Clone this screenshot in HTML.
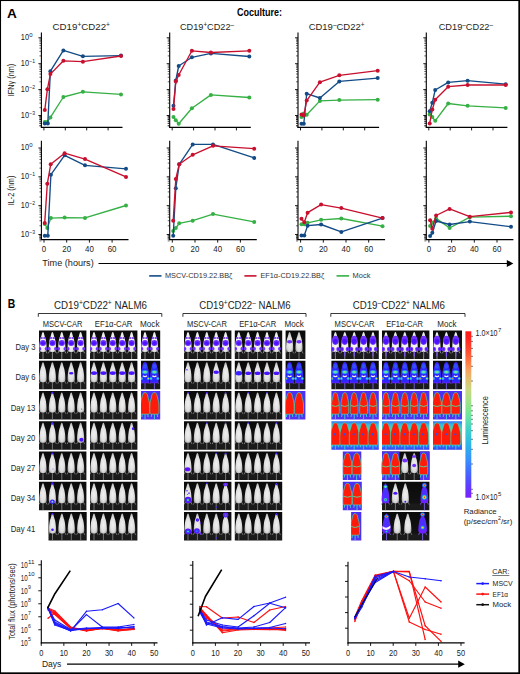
<!DOCTYPE html>
<html><head><meta charset="utf-8"><style>
html,body{margin:0;padding:0;background:#fff;}
svg{display:block;font-family:"Liberation Sans",sans-serif;}
</style></head><body>
<svg width="520" height="674" viewBox="0 0 520 674">
<defs>
<linearGradient id="gbg" x1="0" y1="0" x2="0" y2="1"><stop offset="0" stop-color="#0a0a0a"/><stop offset="0.72" stop-color="#121212"/><stop offset="0.82" stop-color="#1c1c1c"/><stop offset="1" stop-color="#181818"/></linearGradient>
<linearGradient id="bbg" x1="0" y1="0" x2="0" y2="1"><stop offset="0" stop-color="#4a30f4"/><stop offset="0.75" stop-color="#4038f4"/><stop offset="1" stop-color="#5a30ec"/></linearGradient>
<linearGradient id="bbg2" x1="0" y1="0" x2="0" y2="1"><stop offset="0" stop-color="#3070f8"/><stop offset="0.12" stop-color="#38b8e0"/><stop offset="0.3" stop-color="#48dca0"/><stop offset="0.6" stop-color="#38c0d8"/><stop offset="0.82" stop-color="#3080ff"/><stop offset="1" stop-color="#3a40f0"/></linearGradient>
<radialGradient id="gm" cx="0.5" cy="0.55" r="0.6"><stop offset="0" stop-color="#f0f0f0"/><stop offset="0.6" stop-color="#dedede"/><stop offset="1" stop-color="#a0a0a0"/></radialGradient>
<radialGradient id="wm" cx="0.5" cy="0.5" r="0.6"><stop offset="0" stop-color="#fafafa"/><stop offset="0.7" stop-color="#ececec"/><stop offset="1" stop-color="#b0b0b0"/></radialGradient>
<linearGradient id="cbar" x1="0" y1="0" x2="0" y2="1"><stop offset="0.000" stop-color="#ff1818"/><stop offset="0.052" stop-color="#ff2820"/><stop offset="0.112" stop-color="#ff4830"/><stop offset="0.172" stop-color="#ff7040"/><stop offset="0.233" stop-color="#f8a060"/><stop offset="0.293" stop-color="#e0c070"/><stop offset="0.353" stop-color="#c8d880"/><stop offset="0.413" stop-color="#a8e088"/><stop offset="0.473" stop-color="#80e890"/><stop offset="0.533" stop-color="#60e0b0"/><stop offset="0.593" stop-color="#40d0c8"/><stop offset="0.653" stop-color="#30c0e0"/><stop offset="0.713" stop-color="#30a8f0"/><stop offset="0.773" stop-color="#3890ff"/><stop offset="0.834" stop-color="#4070ff"/><stop offset="0.894" stop-color="#5050ff"/><stop offset="0.954" stop-color="#6a30ff"/><stop offset="1.000" stop-color="#7a20ff"/></linearGradient>
<clipPath id="c0"><rect x="39.00" y="330.50" width="47.40" height="28.5"/></clipPath>
<clipPath id="c1"><rect x="90.00" y="330.50" width="47.40" height="28.5"/></clipPath>
<clipPath id="c2"><rect x="141.00" y="330.50" width="19.20" height="28.5"/></clipPath>
<clipPath id="c3"><rect x="39.00" y="360.75" width="47.40" height="28.5"/></clipPath>
<clipPath id="c4"><rect x="90.00" y="360.75" width="47.40" height="28.5"/></clipPath>
<clipPath id="c5"><rect x="141.00" y="360.75" width="19.20" height="28.5"/></clipPath>
<clipPath id="c6"><rect x="39.00" y="391.00" width="47.40" height="28.5"/></clipPath>
<clipPath id="c7"><rect x="90.00" y="391.00" width="47.40" height="28.5"/></clipPath>
<clipPath id="c8"><rect x="141.00" y="391.00" width="19.20" height="28.5"/></clipPath>
<clipPath id="c9"><rect x="39.00" y="421.25" width="47.40" height="28.5"/></clipPath>
<clipPath id="c10"><rect x="90.00" y="421.25" width="47.40" height="28.5"/></clipPath>
<clipPath id="c11"><rect x="39.00" y="451.50" width="47.40" height="28.5"/></clipPath>
<clipPath id="c12"><rect x="90.00" y="451.50" width="47.40" height="28.5"/></clipPath>
<clipPath id="c13"><rect x="39.00" y="481.75" width="47.40" height="28.5"/></clipPath>
<clipPath id="c14"><rect x="90.00" y="481.75" width="47.40" height="28.5"/></clipPath>
<clipPath id="c15"><rect x="48.50" y="512.00" width="38.20" height="28.5"/></clipPath>
<clipPath id="c16"><rect x="90.00" y="512.00" width="47.40" height="28.5"/></clipPath>
<clipPath id="c17"><rect x="184.00" y="330.50" width="47.40" height="28.5"/></clipPath>
<clipPath id="c18"><rect x="234.80" y="330.50" width="47.40" height="28.5"/></clipPath>
<clipPath id="c19"><rect x="285.60" y="330.50" width="19.80" height="28.5"/></clipPath>
<clipPath id="c20"><rect x="184.00" y="360.75" width="47.40" height="28.5"/></clipPath>
<clipPath id="c21"><rect x="234.80" y="360.75" width="47.40" height="28.5"/></clipPath>
<clipPath id="c22"><rect x="285.60" y="360.75" width="19.80" height="28.5"/></clipPath>
<clipPath id="c23"><rect x="184.00" y="391.00" width="47.40" height="28.5"/></clipPath>
<clipPath id="c24"><rect x="234.80" y="391.00" width="47.40" height="28.5"/></clipPath>
<clipPath id="c25"><rect x="285.60" y="391.00" width="19.80" height="28.5"/></clipPath>
<clipPath id="c26"><rect x="184.00" y="421.25" width="47.40" height="28.5"/></clipPath>
<clipPath id="c27"><rect x="234.80" y="421.25" width="47.40" height="28.5"/></clipPath>
<clipPath id="c28"><rect x="184.00" y="451.50" width="47.40" height="28.5"/></clipPath>
<clipPath id="c29"><rect x="234.80" y="451.50" width="47.40" height="28.5"/></clipPath>
<clipPath id="c30"><rect x="184.00" y="481.75" width="47.40" height="28.5"/></clipPath>
<clipPath id="c31"><rect x="234.80" y="481.75" width="47.40" height="28.5"/></clipPath>
<clipPath id="c32"><rect x="184.00" y="512.00" width="47.40" height="28.5"/></clipPath>
<clipPath id="c33"><rect x="234.80" y="512.00" width="47.40" height="28.5"/></clipPath>
<clipPath id="c34"><rect x="331.40" y="330.50" width="47.40" height="28.5"/></clipPath>
<clipPath id="c35"><rect x="382.00" y="330.50" width="47.40" height="28.5"/></clipPath>
<clipPath id="c36"><rect x="433.00" y="330.50" width="29.00" height="28.5"/></clipPath>
<clipPath id="c37"><rect x="331.40" y="360.75" width="47.40" height="28.5"/></clipPath>
<clipPath id="c38"><rect x="382.00" y="360.75" width="47.40" height="28.5"/></clipPath>
<clipPath id="c39"><rect x="433.00" y="360.75" width="29.00" height="28.5"/></clipPath>
<clipPath id="c40"><rect x="331.40" y="391.00" width="47.40" height="28.5"/></clipPath>
<clipPath id="c41"><rect x="382.00" y="391.00" width="47.40" height="28.5"/></clipPath>
<clipPath id="c42"><rect x="433.00" y="391.00" width="29.00" height="28.5"/></clipPath>
<clipPath id="c43"><rect x="331.40" y="421.25" width="47.40" height="28.5"/></clipPath>
<clipPath id="c44"><rect x="382.00" y="421.25" width="47.40" height="28.5"/></clipPath>
<clipPath id="c45"><rect x="433.00" y="421.25" width="29.00" height="28.5"/></clipPath>
<clipPath id="c46"><rect x="342.80" y="451.50" width="18.50" height="28.5"/></clipPath>
<clipPath id="c47"><rect x="342.80" y="481.75" width="19.00" height="28.5"/></clipPath>
<clipPath id="c48"><rect x="351.10" y="512.00" width="10.20" height="28.5"/></clipPath>
<clipPath id="c49"><rect x="382.00" y="451.50" width="47.40" height="28.5"/></clipPath>
<clipPath id="c50"><rect x="382.00" y="481.75" width="47.40" height="28.5"/></clipPath>
<clipPath id="c51"><rect x="382.00" y="512.00" width="47.40" height="28.5"/></clipPath></defs>
<rect x="0" y="0" width="520" height="674" fill="#fff"/>
<text x="6.9" y="18.1" font-size="13.6" font-weight="bold" fill="#000" >A</text>
<text x="237" y="15.7" font-size="10.6" font-weight="bold" textLength="45" lengthAdjust="spacingAndGlyphs" fill="#000" >Coculture:</text>
<text x="52.6" y="30.0" font-size="9.9" fill="#231f20" textLength="57.4" lengthAdjust="spacingAndGlyphs">CD19<tspan dy="-3.4" font-size="6.8">+</tspan><tspan dy="3.4">CD22</tspan><tspan dy="-3.4" font-size="6.8">+</tspan></text>
<text x="180" y="30.0" font-size="9.9" fill="#231f20" textLength="54" lengthAdjust="spacingAndGlyphs">CD19<tspan dy="-3.4" font-size="6.8">+</tspan><tspan dy="3.4">CD22</tspan><tspan dy="-3.4" font-size="6.8">&#8211;</tspan></text>
<text x="308.7" y="30.0" font-size="9.9" fill="#231f20" textLength="55.80000000000001" lengthAdjust="spacingAndGlyphs">CD19<tspan dy="-3.4" font-size="6.8">&#8211;</tspan><tspan dy="3.4">CD22</tspan><tspan dy="-3.4" font-size="6.8">+</tspan></text>
<text x="438.7" y="30.0" font-size="9.9" fill="#231f20" textLength="54.30000000000001" lengthAdjust="spacingAndGlyphs">CD19<tspan dy="-3.4" font-size="6.8">&#8211;</tspan><tspan dy="3.4">CD22</tspan><tspan dy="-3.4" font-size="6.8">&#8211;</tspan></text>
<line x1="41.40" y1="32.40" x2="41.40" y2="127.90" stroke="#000" stroke-width="1.1"/>
<line x1="40.90" y1="127.40" x2="122.50" y2="127.40" stroke="#000" stroke-width="1.1"/>
<line x1="38.40" y1="37.80" x2="41.40" y2="37.80" stroke="#000" stroke-width="0.9"/>
<line x1="38.40" y1="63.70" x2="41.40" y2="63.70" stroke="#000" stroke-width="0.9"/>
<line x1="38.40" y1="89.60" x2="41.40" y2="89.60" stroke="#000" stroke-width="0.9"/>
<line x1="38.40" y1="115.50" x2="41.40" y2="115.50" stroke="#000" stroke-width="0.9"/>
<line x1="39.40" y1="55.90" x2="41.40" y2="55.90" stroke="#000" stroke-width="0.6"/>
<line x1="39.40" y1="51.34" x2="41.40" y2="51.34" stroke="#000" stroke-width="0.6"/>
<line x1="39.40" y1="48.11" x2="41.40" y2="48.11" stroke="#000" stroke-width="0.6"/>
<line x1="39.40" y1="45.60" x2="41.40" y2="45.60" stroke="#000" stroke-width="0.6"/>
<line x1="39.40" y1="43.55" x2="41.40" y2="43.55" stroke="#000" stroke-width="0.6"/>
<line x1="39.40" y1="41.81" x2="41.40" y2="41.81" stroke="#000" stroke-width="0.6"/>
<line x1="39.40" y1="40.31" x2="41.40" y2="40.31" stroke="#000" stroke-width="0.6"/>
<line x1="39.40" y1="38.99" x2="41.40" y2="38.99" stroke="#000" stroke-width="0.6"/>
<line x1="39.40" y1="81.80" x2="41.40" y2="81.80" stroke="#000" stroke-width="0.6"/>
<line x1="39.40" y1="77.24" x2="41.40" y2="77.24" stroke="#000" stroke-width="0.6"/>
<line x1="39.40" y1="74.01" x2="41.40" y2="74.01" stroke="#000" stroke-width="0.6"/>
<line x1="39.40" y1="71.50" x2="41.40" y2="71.50" stroke="#000" stroke-width="0.6"/>
<line x1="39.40" y1="69.45" x2="41.40" y2="69.45" stroke="#000" stroke-width="0.6"/>
<line x1="39.40" y1="67.71" x2="41.40" y2="67.71" stroke="#000" stroke-width="0.6"/>
<line x1="39.40" y1="66.21" x2="41.40" y2="66.21" stroke="#000" stroke-width="0.6"/>
<line x1="39.40" y1="64.89" x2="41.40" y2="64.89" stroke="#000" stroke-width="0.6"/>
<line x1="39.40" y1="107.70" x2="41.40" y2="107.70" stroke="#000" stroke-width="0.6"/>
<line x1="39.40" y1="103.14" x2="41.40" y2="103.14" stroke="#000" stroke-width="0.6"/>
<line x1="39.40" y1="99.91" x2="41.40" y2="99.91" stroke="#000" stroke-width="0.6"/>
<line x1="39.40" y1="97.40" x2="41.40" y2="97.40" stroke="#000" stroke-width="0.6"/>
<line x1="39.40" y1="95.35" x2="41.40" y2="95.35" stroke="#000" stroke-width="0.6"/>
<line x1="39.40" y1="93.61" x2="41.40" y2="93.61" stroke="#000" stroke-width="0.6"/>
<line x1="39.40" y1="92.11" x2="41.40" y2="92.11" stroke="#000" stroke-width="0.6"/>
<line x1="39.40" y1="90.79" x2="41.40" y2="90.79" stroke="#000" stroke-width="0.6"/>
<line x1="39.40" y1="125.81" x2="41.40" y2="125.81" stroke="#000" stroke-width="0.6"/>
<line x1="39.40" y1="123.30" x2="41.40" y2="123.30" stroke="#000" stroke-width="0.6"/>
<line x1="39.40" y1="121.25" x2="41.40" y2="121.25" stroke="#000" stroke-width="0.6"/>
<line x1="39.40" y1="119.51" x2="41.40" y2="119.51" stroke="#000" stroke-width="0.6"/>
<line x1="39.40" y1="118.01" x2="41.40" y2="118.01" stroke="#000" stroke-width="0.6"/>
<line x1="39.40" y1="116.69" x2="41.40" y2="116.69" stroke="#000" stroke-width="0.6"/>
<line x1="39.40" y1="125.81" x2="41.40" y2="125.81" stroke="#000" stroke-width="0.6"/>
<line x1="39.40" y1="123.30" x2="41.40" y2="123.30" stroke="#000" stroke-width="0.6"/>
<line x1="39.40" y1="121.25" x2="41.40" y2="121.25" stroke="#000" stroke-width="0.6"/>
<line x1="39.40" y1="119.51" x2="41.40" y2="119.51" stroke="#000" stroke-width="0.6"/>
<line x1="39.40" y1="118.01" x2="41.40" y2="118.01" stroke="#000" stroke-width="0.6"/>
<line x1="39.40" y1="116.69" x2="41.40" y2="116.69" stroke="#000" stroke-width="0.6"/>
<line x1="43.90" y1="127.40" x2="43.90" y2="130.40" stroke="#000" stroke-width="0.9"/>
<line x1="65.30" y1="127.40" x2="65.30" y2="130.40" stroke="#000" stroke-width="0.9"/>
<line x1="86.70" y1="127.40" x2="86.70" y2="130.40" stroke="#000" stroke-width="0.9"/>
<line x1="108.10" y1="127.40" x2="108.10" y2="130.40" stroke="#000" stroke-width="0.9"/>
<line x1="41.40" y1="140.70" x2="41.40" y2="240.10" stroke="#000" stroke-width="1.1"/>
<line x1="40.90" y1="239.60" x2="128.50" y2="239.60" stroke="#000" stroke-width="1.1"/>
<line x1="38.40" y1="148.00" x2="41.40" y2="148.00" stroke="#000" stroke-width="0.9"/>
<line x1="38.40" y1="176.83" x2="41.40" y2="176.83" stroke="#000" stroke-width="0.9"/>
<line x1="38.40" y1="205.66" x2="41.40" y2="205.66" stroke="#000" stroke-width="0.9"/>
<line x1="38.40" y1="234.49" x2="41.40" y2="234.49" stroke="#000" stroke-width="0.9"/>
<line x1="39.40" y1="168.15" x2="41.40" y2="168.15" stroke="#000" stroke-width="0.6"/>
<line x1="39.40" y1="163.07" x2="41.40" y2="163.07" stroke="#000" stroke-width="0.6"/>
<line x1="39.40" y1="159.47" x2="41.40" y2="159.47" stroke="#000" stroke-width="0.6"/>
<line x1="39.40" y1="156.68" x2="41.40" y2="156.68" stroke="#000" stroke-width="0.6"/>
<line x1="39.40" y1="154.40" x2="41.40" y2="154.40" stroke="#000" stroke-width="0.6"/>
<line x1="39.40" y1="152.47" x2="41.40" y2="152.47" stroke="#000" stroke-width="0.6"/>
<line x1="39.40" y1="150.79" x2="41.40" y2="150.79" stroke="#000" stroke-width="0.6"/>
<line x1="39.40" y1="149.32" x2="41.40" y2="149.32" stroke="#000" stroke-width="0.6"/>
<line x1="39.40" y1="196.98" x2="41.40" y2="196.98" stroke="#000" stroke-width="0.6"/>
<line x1="39.40" y1="191.90" x2="41.40" y2="191.90" stroke="#000" stroke-width="0.6"/>
<line x1="39.40" y1="188.30" x2="41.40" y2="188.30" stroke="#000" stroke-width="0.6"/>
<line x1="39.40" y1="185.51" x2="41.40" y2="185.51" stroke="#000" stroke-width="0.6"/>
<line x1="39.40" y1="183.23" x2="41.40" y2="183.23" stroke="#000" stroke-width="0.6"/>
<line x1="39.40" y1="181.30" x2="41.40" y2="181.30" stroke="#000" stroke-width="0.6"/>
<line x1="39.40" y1="179.62" x2="41.40" y2="179.62" stroke="#000" stroke-width="0.6"/>
<line x1="39.40" y1="178.15" x2="41.40" y2="178.15" stroke="#000" stroke-width="0.6"/>
<line x1="39.40" y1="225.81" x2="41.40" y2="225.81" stroke="#000" stroke-width="0.6"/>
<line x1="39.40" y1="220.73" x2="41.40" y2="220.73" stroke="#000" stroke-width="0.6"/>
<line x1="39.40" y1="217.13" x2="41.40" y2="217.13" stroke="#000" stroke-width="0.6"/>
<line x1="39.40" y1="214.34" x2="41.40" y2="214.34" stroke="#000" stroke-width="0.6"/>
<line x1="39.40" y1="212.06" x2="41.40" y2="212.06" stroke="#000" stroke-width="0.6"/>
<line x1="39.40" y1="210.13" x2="41.40" y2="210.13" stroke="#000" stroke-width="0.6"/>
<line x1="39.40" y1="208.45" x2="41.40" y2="208.45" stroke="#000" stroke-width="0.6"/>
<line x1="39.40" y1="206.98" x2="41.40" y2="206.98" stroke="#000" stroke-width="0.6"/>
<line x1="39.40" y1="238.96" x2="41.40" y2="238.96" stroke="#000" stroke-width="0.6"/>
<line x1="39.40" y1="237.28" x2="41.40" y2="237.28" stroke="#000" stroke-width="0.6"/>
<line x1="39.40" y1="235.81" x2="41.40" y2="235.81" stroke="#000" stroke-width="0.6"/>
<line x1="39.40" y1="240.89" x2="41.40" y2="240.89" stroke="#000" stroke-width="0.6"/>
<line x1="39.40" y1="238.96" x2="41.40" y2="238.96" stroke="#000" stroke-width="0.6"/>
<line x1="39.40" y1="237.28" x2="41.40" y2="237.28" stroke="#000" stroke-width="0.6"/>
<line x1="39.40" y1="235.81" x2="41.40" y2="235.81" stroke="#000" stroke-width="0.6"/>
<line x1="44.00" y1="239.60" x2="44.00" y2="242.60" stroke="#000" stroke-width="0.9"/>
<text x="44.0" y="252.2" font-size="8.3" text-anchor="middle" textLength="4.4" lengthAdjust="spacingAndGlyphs" fill="#222" >0</text>
<line x1="66.70" y1="239.60" x2="66.70" y2="242.60" stroke="#000" stroke-width="0.9"/>
<text x="66.7" y="252.2" font-size="8.3" text-anchor="middle" textLength="8.8" lengthAdjust="spacingAndGlyphs" fill="#222" >20</text>
<line x1="89.40" y1="239.60" x2="89.40" y2="242.60" stroke="#000" stroke-width="0.9"/>
<text x="89.4" y="252.2" font-size="8.3" text-anchor="middle" textLength="8.8" lengthAdjust="spacingAndGlyphs" fill="#222" >40</text>
<line x1="112.10" y1="239.60" x2="112.10" y2="242.60" stroke="#000" stroke-width="0.9"/>
<text x="112.1" y="252.2" font-size="8.3" text-anchor="middle" textLength="8.8" lengthAdjust="spacingAndGlyphs" fill="#222" >60</text>
<line x1="169.70" y1="32.40" x2="169.70" y2="127.90" stroke="#000" stroke-width="1.1"/>
<line x1="169.20" y1="127.40" x2="250.80" y2="127.40" stroke="#000" stroke-width="1.1"/>
<line x1="166.70" y1="37.80" x2="169.70" y2="37.80" stroke="#000" stroke-width="0.9"/>
<line x1="166.70" y1="63.70" x2="169.70" y2="63.70" stroke="#000" stroke-width="0.9"/>
<line x1="166.70" y1="89.60" x2="169.70" y2="89.60" stroke="#000" stroke-width="0.9"/>
<line x1="166.70" y1="115.50" x2="169.70" y2="115.50" stroke="#000" stroke-width="0.9"/>
<line x1="167.70" y1="55.90" x2="169.70" y2="55.90" stroke="#000" stroke-width="0.6"/>
<line x1="167.70" y1="51.34" x2="169.70" y2="51.34" stroke="#000" stroke-width="0.6"/>
<line x1="167.70" y1="48.11" x2="169.70" y2="48.11" stroke="#000" stroke-width="0.6"/>
<line x1="167.70" y1="45.60" x2="169.70" y2="45.60" stroke="#000" stroke-width="0.6"/>
<line x1="167.70" y1="43.55" x2="169.70" y2="43.55" stroke="#000" stroke-width="0.6"/>
<line x1="167.70" y1="41.81" x2="169.70" y2="41.81" stroke="#000" stroke-width="0.6"/>
<line x1="167.70" y1="40.31" x2="169.70" y2="40.31" stroke="#000" stroke-width="0.6"/>
<line x1="167.70" y1="38.99" x2="169.70" y2="38.99" stroke="#000" stroke-width="0.6"/>
<line x1="167.70" y1="81.80" x2="169.70" y2="81.80" stroke="#000" stroke-width="0.6"/>
<line x1="167.70" y1="77.24" x2="169.70" y2="77.24" stroke="#000" stroke-width="0.6"/>
<line x1="167.70" y1="74.01" x2="169.70" y2="74.01" stroke="#000" stroke-width="0.6"/>
<line x1="167.70" y1="71.50" x2="169.70" y2="71.50" stroke="#000" stroke-width="0.6"/>
<line x1="167.70" y1="69.45" x2="169.70" y2="69.45" stroke="#000" stroke-width="0.6"/>
<line x1="167.70" y1="67.71" x2="169.70" y2="67.71" stroke="#000" stroke-width="0.6"/>
<line x1="167.70" y1="66.21" x2="169.70" y2="66.21" stroke="#000" stroke-width="0.6"/>
<line x1="167.70" y1="64.89" x2="169.70" y2="64.89" stroke="#000" stroke-width="0.6"/>
<line x1="167.70" y1="107.70" x2="169.70" y2="107.70" stroke="#000" stroke-width="0.6"/>
<line x1="167.70" y1="103.14" x2="169.70" y2="103.14" stroke="#000" stroke-width="0.6"/>
<line x1="167.70" y1="99.91" x2="169.70" y2="99.91" stroke="#000" stroke-width="0.6"/>
<line x1="167.70" y1="97.40" x2="169.70" y2="97.40" stroke="#000" stroke-width="0.6"/>
<line x1="167.70" y1="95.35" x2="169.70" y2="95.35" stroke="#000" stroke-width="0.6"/>
<line x1="167.70" y1="93.61" x2="169.70" y2="93.61" stroke="#000" stroke-width="0.6"/>
<line x1="167.70" y1="92.11" x2="169.70" y2="92.11" stroke="#000" stroke-width="0.6"/>
<line x1="167.70" y1="90.79" x2="169.70" y2="90.79" stroke="#000" stroke-width="0.6"/>
<line x1="167.70" y1="125.81" x2="169.70" y2="125.81" stroke="#000" stroke-width="0.6"/>
<line x1="167.70" y1="123.30" x2="169.70" y2="123.30" stroke="#000" stroke-width="0.6"/>
<line x1="167.70" y1="121.25" x2="169.70" y2="121.25" stroke="#000" stroke-width="0.6"/>
<line x1="167.70" y1="119.51" x2="169.70" y2="119.51" stroke="#000" stroke-width="0.6"/>
<line x1="167.70" y1="118.01" x2="169.70" y2="118.01" stroke="#000" stroke-width="0.6"/>
<line x1="167.70" y1="116.69" x2="169.70" y2="116.69" stroke="#000" stroke-width="0.6"/>
<line x1="167.70" y1="125.81" x2="169.70" y2="125.81" stroke="#000" stroke-width="0.6"/>
<line x1="167.70" y1="123.30" x2="169.70" y2="123.30" stroke="#000" stroke-width="0.6"/>
<line x1="167.70" y1="121.25" x2="169.70" y2="121.25" stroke="#000" stroke-width="0.6"/>
<line x1="167.70" y1="119.51" x2="169.70" y2="119.51" stroke="#000" stroke-width="0.6"/>
<line x1="167.70" y1="118.01" x2="169.70" y2="118.01" stroke="#000" stroke-width="0.6"/>
<line x1="167.70" y1="116.69" x2="169.70" y2="116.69" stroke="#000" stroke-width="0.6"/>
<line x1="172.20" y1="127.40" x2="172.20" y2="130.40" stroke="#000" stroke-width="0.9"/>
<line x1="193.60" y1="127.40" x2="193.60" y2="130.40" stroke="#000" stroke-width="0.9"/>
<line x1="215.00" y1="127.40" x2="215.00" y2="130.40" stroke="#000" stroke-width="0.9"/>
<line x1="236.40" y1="127.40" x2="236.40" y2="130.40" stroke="#000" stroke-width="0.9"/>
<line x1="169.70" y1="140.70" x2="169.70" y2="240.10" stroke="#000" stroke-width="1.1"/>
<line x1="169.20" y1="239.60" x2="256.80" y2="239.60" stroke="#000" stroke-width="1.1"/>
<line x1="166.70" y1="148.00" x2="169.70" y2="148.00" stroke="#000" stroke-width="0.9"/>
<line x1="166.70" y1="176.83" x2="169.70" y2="176.83" stroke="#000" stroke-width="0.9"/>
<line x1="166.70" y1="205.66" x2="169.70" y2="205.66" stroke="#000" stroke-width="0.9"/>
<line x1="166.70" y1="234.49" x2="169.70" y2="234.49" stroke="#000" stroke-width="0.9"/>
<line x1="167.70" y1="168.15" x2="169.70" y2="168.15" stroke="#000" stroke-width="0.6"/>
<line x1="167.70" y1="163.07" x2="169.70" y2="163.07" stroke="#000" stroke-width="0.6"/>
<line x1="167.70" y1="159.47" x2="169.70" y2="159.47" stroke="#000" stroke-width="0.6"/>
<line x1="167.70" y1="156.68" x2="169.70" y2="156.68" stroke="#000" stroke-width="0.6"/>
<line x1="167.70" y1="154.40" x2="169.70" y2="154.40" stroke="#000" stroke-width="0.6"/>
<line x1="167.70" y1="152.47" x2="169.70" y2="152.47" stroke="#000" stroke-width="0.6"/>
<line x1="167.70" y1="150.79" x2="169.70" y2="150.79" stroke="#000" stroke-width="0.6"/>
<line x1="167.70" y1="149.32" x2="169.70" y2="149.32" stroke="#000" stroke-width="0.6"/>
<line x1="167.70" y1="196.98" x2="169.70" y2="196.98" stroke="#000" stroke-width="0.6"/>
<line x1="167.70" y1="191.90" x2="169.70" y2="191.90" stroke="#000" stroke-width="0.6"/>
<line x1="167.70" y1="188.30" x2="169.70" y2="188.30" stroke="#000" stroke-width="0.6"/>
<line x1="167.70" y1="185.51" x2="169.70" y2="185.51" stroke="#000" stroke-width="0.6"/>
<line x1="167.70" y1="183.23" x2="169.70" y2="183.23" stroke="#000" stroke-width="0.6"/>
<line x1="167.70" y1="181.30" x2="169.70" y2="181.30" stroke="#000" stroke-width="0.6"/>
<line x1="167.70" y1="179.62" x2="169.70" y2="179.62" stroke="#000" stroke-width="0.6"/>
<line x1="167.70" y1="178.15" x2="169.70" y2="178.15" stroke="#000" stroke-width="0.6"/>
<line x1="167.70" y1="225.81" x2="169.70" y2="225.81" stroke="#000" stroke-width="0.6"/>
<line x1="167.70" y1="220.73" x2="169.70" y2="220.73" stroke="#000" stroke-width="0.6"/>
<line x1="167.70" y1="217.13" x2="169.70" y2="217.13" stroke="#000" stroke-width="0.6"/>
<line x1="167.70" y1="214.34" x2="169.70" y2="214.34" stroke="#000" stroke-width="0.6"/>
<line x1="167.70" y1="212.06" x2="169.70" y2="212.06" stroke="#000" stroke-width="0.6"/>
<line x1="167.70" y1="210.13" x2="169.70" y2="210.13" stroke="#000" stroke-width="0.6"/>
<line x1="167.70" y1="208.45" x2="169.70" y2="208.45" stroke="#000" stroke-width="0.6"/>
<line x1="167.70" y1="206.98" x2="169.70" y2="206.98" stroke="#000" stroke-width="0.6"/>
<line x1="167.70" y1="238.96" x2="169.70" y2="238.96" stroke="#000" stroke-width="0.6"/>
<line x1="167.70" y1="237.28" x2="169.70" y2="237.28" stroke="#000" stroke-width="0.6"/>
<line x1="167.70" y1="235.81" x2="169.70" y2="235.81" stroke="#000" stroke-width="0.6"/>
<line x1="167.70" y1="240.89" x2="169.70" y2="240.89" stroke="#000" stroke-width="0.6"/>
<line x1="167.70" y1="238.96" x2="169.70" y2="238.96" stroke="#000" stroke-width="0.6"/>
<line x1="167.70" y1="237.28" x2="169.70" y2="237.28" stroke="#000" stroke-width="0.6"/>
<line x1="167.70" y1="235.81" x2="169.70" y2="235.81" stroke="#000" stroke-width="0.6"/>
<line x1="172.30" y1="239.60" x2="172.30" y2="242.60" stroke="#000" stroke-width="0.9"/>
<text x="172.3" y="252.2" font-size="8.3" text-anchor="middle" textLength="4.4" lengthAdjust="spacingAndGlyphs" fill="#222" >0</text>
<line x1="195.00" y1="239.60" x2="195.00" y2="242.60" stroke="#000" stroke-width="0.9"/>
<text x="195.0" y="252.2" font-size="8.3" text-anchor="middle" textLength="8.8" lengthAdjust="spacingAndGlyphs" fill="#222" >20</text>
<line x1="217.70" y1="239.60" x2="217.70" y2="242.60" stroke="#000" stroke-width="0.9"/>
<text x="217.70000000000002" y="252.2" font-size="8.3" text-anchor="middle" textLength="8.8" lengthAdjust="spacingAndGlyphs" fill="#222" >40</text>
<line x1="240.40" y1="239.60" x2="240.40" y2="242.60" stroke="#000" stroke-width="0.9"/>
<text x="240.4" y="252.2" font-size="8.3" text-anchor="middle" textLength="8.8" lengthAdjust="spacingAndGlyphs" fill="#222" >60</text>
<line x1="298.00" y1="32.40" x2="298.00" y2="127.90" stroke="#000" stroke-width="1.1"/>
<line x1="297.50" y1="127.40" x2="379.10" y2="127.40" stroke="#000" stroke-width="1.1"/>
<line x1="295.00" y1="37.80" x2="298.00" y2="37.80" stroke="#000" stroke-width="0.9"/>
<line x1="295.00" y1="63.70" x2="298.00" y2="63.70" stroke="#000" stroke-width="0.9"/>
<line x1="295.00" y1="89.60" x2="298.00" y2="89.60" stroke="#000" stroke-width="0.9"/>
<line x1="295.00" y1="115.50" x2="298.00" y2="115.50" stroke="#000" stroke-width="0.9"/>
<line x1="296.00" y1="55.90" x2="298.00" y2="55.90" stroke="#000" stroke-width="0.6"/>
<line x1="296.00" y1="51.34" x2="298.00" y2="51.34" stroke="#000" stroke-width="0.6"/>
<line x1="296.00" y1="48.11" x2="298.00" y2="48.11" stroke="#000" stroke-width="0.6"/>
<line x1="296.00" y1="45.60" x2="298.00" y2="45.60" stroke="#000" stroke-width="0.6"/>
<line x1="296.00" y1="43.55" x2="298.00" y2="43.55" stroke="#000" stroke-width="0.6"/>
<line x1="296.00" y1="41.81" x2="298.00" y2="41.81" stroke="#000" stroke-width="0.6"/>
<line x1="296.00" y1="40.31" x2="298.00" y2="40.31" stroke="#000" stroke-width="0.6"/>
<line x1="296.00" y1="38.99" x2="298.00" y2="38.99" stroke="#000" stroke-width="0.6"/>
<line x1="296.00" y1="81.80" x2="298.00" y2="81.80" stroke="#000" stroke-width="0.6"/>
<line x1="296.00" y1="77.24" x2="298.00" y2="77.24" stroke="#000" stroke-width="0.6"/>
<line x1="296.00" y1="74.01" x2="298.00" y2="74.01" stroke="#000" stroke-width="0.6"/>
<line x1="296.00" y1="71.50" x2="298.00" y2="71.50" stroke="#000" stroke-width="0.6"/>
<line x1="296.00" y1="69.45" x2="298.00" y2="69.45" stroke="#000" stroke-width="0.6"/>
<line x1="296.00" y1="67.71" x2="298.00" y2="67.71" stroke="#000" stroke-width="0.6"/>
<line x1="296.00" y1="66.21" x2="298.00" y2="66.21" stroke="#000" stroke-width="0.6"/>
<line x1="296.00" y1="64.89" x2="298.00" y2="64.89" stroke="#000" stroke-width="0.6"/>
<line x1="296.00" y1="107.70" x2="298.00" y2="107.70" stroke="#000" stroke-width="0.6"/>
<line x1="296.00" y1="103.14" x2="298.00" y2="103.14" stroke="#000" stroke-width="0.6"/>
<line x1="296.00" y1="99.91" x2="298.00" y2="99.91" stroke="#000" stroke-width="0.6"/>
<line x1="296.00" y1="97.40" x2="298.00" y2="97.40" stroke="#000" stroke-width="0.6"/>
<line x1="296.00" y1="95.35" x2="298.00" y2="95.35" stroke="#000" stroke-width="0.6"/>
<line x1="296.00" y1="93.61" x2="298.00" y2="93.61" stroke="#000" stroke-width="0.6"/>
<line x1="296.00" y1="92.11" x2="298.00" y2="92.11" stroke="#000" stroke-width="0.6"/>
<line x1="296.00" y1="90.79" x2="298.00" y2="90.79" stroke="#000" stroke-width="0.6"/>
<line x1="296.00" y1="125.81" x2="298.00" y2="125.81" stroke="#000" stroke-width="0.6"/>
<line x1="296.00" y1="123.30" x2="298.00" y2="123.30" stroke="#000" stroke-width="0.6"/>
<line x1="296.00" y1="121.25" x2="298.00" y2="121.25" stroke="#000" stroke-width="0.6"/>
<line x1="296.00" y1="119.51" x2="298.00" y2="119.51" stroke="#000" stroke-width="0.6"/>
<line x1="296.00" y1="118.01" x2="298.00" y2="118.01" stroke="#000" stroke-width="0.6"/>
<line x1="296.00" y1="116.69" x2="298.00" y2="116.69" stroke="#000" stroke-width="0.6"/>
<line x1="296.00" y1="125.81" x2="298.00" y2="125.81" stroke="#000" stroke-width="0.6"/>
<line x1="296.00" y1="123.30" x2="298.00" y2="123.30" stroke="#000" stroke-width="0.6"/>
<line x1="296.00" y1="121.25" x2="298.00" y2="121.25" stroke="#000" stroke-width="0.6"/>
<line x1="296.00" y1="119.51" x2="298.00" y2="119.51" stroke="#000" stroke-width="0.6"/>
<line x1="296.00" y1="118.01" x2="298.00" y2="118.01" stroke="#000" stroke-width="0.6"/>
<line x1="296.00" y1="116.69" x2="298.00" y2="116.69" stroke="#000" stroke-width="0.6"/>
<line x1="300.50" y1="127.40" x2="300.50" y2="130.40" stroke="#000" stroke-width="0.9"/>
<line x1="321.90" y1="127.40" x2="321.90" y2="130.40" stroke="#000" stroke-width="0.9"/>
<line x1="343.30" y1="127.40" x2="343.30" y2="130.40" stroke="#000" stroke-width="0.9"/>
<line x1="364.70" y1="127.40" x2="364.70" y2="130.40" stroke="#000" stroke-width="0.9"/>
<line x1="298.00" y1="140.70" x2="298.00" y2="240.10" stroke="#000" stroke-width="1.1"/>
<line x1="297.50" y1="239.60" x2="385.10" y2="239.60" stroke="#000" stroke-width="1.1"/>
<line x1="295.00" y1="148.00" x2="298.00" y2="148.00" stroke="#000" stroke-width="0.9"/>
<line x1="295.00" y1="176.83" x2="298.00" y2="176.83" stroke="#000" stroke-width="0.9"/>
<line x1="295.00" y1="205.66" x2="298.00" y2="205.66" stroke="#000" stroke-width="0.9"/>
<line x1="295.00" y1="234.49" x2="298.00" y2="234.49" stroke="#000" stroke-width="0.9"/>
<line x1="296.00" y1="168.15" x2="298.00" y2="168.15" stroke="#000" stroke-width="0.6"/>
<line x1="296.00" y1="163.07" x2="298.00" y2="163.07" stroke="#000" stroke-width="0.6"/>
<line x1="296.00" y1="159.47" x2="298.00" y2="159.47" stroke="#000" stroke-width="0.6"/>
<line x1="296.00" y1="156.68" x2="298.00" y2="156.68" stroke="#000" stroke-width="0.6"/>
<line x1="296.00" y1="154.40" x2="298.00" y2="154.40" stroke="#000" stroke-width="0.6"/>
<line x1="296.00" y1="152.47" x2="298.00" y2="152.47" stroke="#000" stroke-width="0.6"/>
<line x1="296.00" y1="150.79" x2="298.00" y2="150.79" stroke="#000" stroke-width="0.6"/>
<line x1="296.00" y1="149.32" x2="298.00" y2="149.32" stroke="#000" stroke-width="0.6"/>
<line x1="296.00" y1="196.98" x2="298.00" y2="196.98" stroke="#000" stroke-width="0.6"/>
<line x1="296.00" y1="191.90" x2="298.00" y2="191.90" stroke="#000" stroke-width="0.6"/>
<line x1="296.00" y1="188.30" x2="298.00" y2="188.30" stroke="#000" stroke-width="0.6"/>
<line x1="296.00" y1="185.51" x2="298.00" y2="185.51" stroke="#000" stroke-width="0.6"/>
<line x1="296.00" y1="183.23" x2="298.00" y2="183.23" stroke="#000" stroke-width="0.6"/>
<line x1="296.00" y1="181.30" x2="298.00" y2="181.30" stroke="#000" stroke-width="0.6"/>
<line x1="296.00" y1="179.62" x2="298.00" y2="179.62" stroke="#000" stroke-width="0.6"/>
<line x1="296.00" y1="178.15" x2="298.00" y2="178.15" stroke="#000" stroke-width="0.6"/>
<line x1="296.00" y1="225.81" x2="298.00" y2="225.81" stroke="#000" stroke-width="0.6"/>
<line x1="296.00" y1="220.73" x2="298.00" y2="220.73" stroke="#000" stroke-width="0.6"/>
<line x1="296.00" y1="217.13" x2="298.00" y2="217.13" stroke="#000" stroke-width="0.6"/>
<line x1="296.00" y1="214.34" x2="298.00" y2="214.34" stroke="#000" stroke-width="0.6"/>
<line x1="296.00" y1="212.06" x2="298.00" y2="212.06" stroke="#000" stroke-width="0.6"/>
<line x1="296.00" y1="210.13" x2="298.00" y2="210.13" stroke="#000" stroke-width="0.6"/>
<line x1="296.00" y1="208.45" x2="298.00" y2="208.45" stroke="#000" stroke-width="0.6"/>
<line x1="296.00" y1="206.98" x2="298.00" y2="206.98" stroke="#000" stroke-width="0.6"/>
<line x1="296.00" y1="238.96" x2="298.00" y2="238.96" stroke="#000" stroke-width="0.6"/>
<line x1="296.00" y1="237.28" x2="298.00" y2="237.28" stroke="#000" stroke-width="0.6"/>
<line x1="296.00" y1="235.81" x2="298.00" y2="235.81" stroke="#000" stroke-width="0.6"/>
<line x1="296.00" y1="240.89" x2="298.00" y2="240.89" stroke="#000" stroke-width="0.6"/>
<line x1="296.00" y1="238.96" x2="298.00" y2="238.96" stroke="#000" stroke-width="0.6"/>
<line x1="296.00" y1="237.28" x2="298.00" y2="237.28" stroke="#000" stroke-width="0.6"/>
<line x1="296.00" y1="235.81" x2="298.00" y2="235.81" stroke="#000" stroke-width="0.6"/>
<line x1="300.60" y1="239.60" x2="300.60" y2="242.60" stroke="#000" stroke-width="0.9"/>
<text x="300.6" y="252.2" font-size="8.3" text-anchor="middle" textLength="4.4" lengthAdjust="spacingAndGlyphs" fill="#222" >0</text>
<line x1="323.30" y1="239.60" x2="323.30" y2="242.60" stroke="#000" stroke-width="0.9"/>
<text x="323.3" y="252.2" font-size="8.3" text-anchor="middle" textLength="8.8" lengthAdjust="spacingAndGlyphs" fill="#222" >20</text>
<line x1="346.00" y1="239.60" x2="346.00" y2="242.60" stroke="#000" stroke-width="0.9"/>
<text x="346.0" y="252.2" font-size="8.3" text-anchor="middle" textLength="8.8" lengthAdjust="spacingAndGlyphs" fill="#222" >40</text>
<line x1="368.70" y1="239.60" x2="368.70" y2="242.60" stroke="#000" stroke-width="0.9"/>
<text x="368.70000000000005" y="252.2" font-size="8.3" text-anchor="middle" textLength="8.8" lengthAdjust="spacingAndGlyphs" fill="#222" >60</text>
<line x1="426.30" y1="32.40" x2="426.30" y2="127.90" stroke="#000" stroke-width="1.1"/>
<line x1="425.80" y1="127.40" x2="507.40" y2="127.40" stroke="#000" stroke-width="1.1"/>
<line x1="423.30" y1="37.80" x2="426.30" y2="37.80" stroke="#000" stroke-width="0.9"/>
<line x1="423.30" y1="63.70" x2="426.30" y2="63.70" stroke="#000" stroke-width="0.9"/>
<line x1="423.30" y1="89.60" x2="426.30" y2="89.60" stroke="#000" stroke-width="0.9"/>
<line x1="423.30" y1="115.50" x2="426.30" y2="115.50" stroke="#000" stroke-width="0.9"/>
<line x1="424.30" y1="55.90" x2="426.30" y2="55.90" stroke="#000" stroke-width="0.6"/>
<line x1="424.30" y1="51.34" x2="426.30" y2="51.34" stroke="#000" stroke-width="0.6"/>
<line x1="424.30" y1="48.11" x2="426.30" y2="48.11" stroke="#000" stroke-width="0.6"/>
<line x1="424.30" y1="45.60" x2="426.30" y2="45.60" stroke="#000" stroke-width="0.6"/>
<line x1="424.30" y1="43.55" x2="426.30" y2="43.55" stroke="#000" stroke-width="0.6"/>
<line x1="424.30" y1="41.81" x2="426.30" y2="41.81" stroke="#000" stroke-width="0.6"/>
<line x1="424.30" y1="40.31" x2="426.30" y2="40.31" stroke="#000" stroke-width="0.6"/>
<line x1="424.30" y1="38.99" x2="426.30" y2="38.99" stroke="#000" stroke-width="0.6"/>
<line x1="424.30" y1="81.80" x2="426.30" y2="81.80" stroke="#000" stroke-width="0.6"/>
<line x1="424.30" y1="77.24" x2="426.30" y2="77.24" stroke="#000" stroke-width="0.6"/>
<line x1="424.30" y1="74.01" x2="426.30" y2="74.01" stroke="#000" stroke-width="0.6"/>
<line x1="424.30" y1="71.50" x2="426.30" y2="71.50" stroke="#000" stroke-width="0.6"/>
<line x1="424.30" y1="69.45" x2="426.30" y2="69.45" stroke="#000" stroke-width="0.6"/>
<line x1="424.30" y1="67.71" x2="426.30" y2="67.71" stroke="#000" stroke-width="0.6"/>
<line x1="424.30" y1="66.21" x2="426.30" y2="66.21" stroke="#000" stroke-width="0.6"/>
<line x1="424.30" y1="64.89" x2="426.30" y2="64.89" stroke="#000" stroke-width="0.6"/>
<line x1="424.30" y1="107.70" x2="426.30" y2="107.70" stroke="#000" stroke-width="0.6"/>
<line x1="424.30" y1="103.14" x2="426.30" y2="103.14" stroke="#000" stroke-width="0.6"/>
<line x1="424.30" y1="99.91" x2="426.30" y2="99.91" stroke="#000" stroke-width="0.6"/>
<line x1="424.30" y1="97.40" x2="426.30" y2="97.40" stroke="#000" stroke-width="0.6"/>
<line x1="424.30" y1="95.35" x2="426.30" y2="95.35" stroke="#000" stroke-width="0.6"/>
<line x1="424.30" y1="93.61" x2="426.30" y2="93.61" stroke="#000" stroke-width="0.6"/>
<line x1="424.30" y1="92.11" x2="426.30" y2="92.11" stroke="#000" stroke-width="0.6"/>
<line x1="424.30" y1="90.79" x2="426.30" y2="90.79" stroke="#000" stroke-width="0.6"/>
<line x1="424.30" y1="125.81" x2="426.30" y2="125.81" stroke="#000" stroke-width="0.6"/>
<line x1="424.30" y1="123.30" x2="426.30" y2="123.30" stroke="#000" stroke-width="0.6"/>
<line x1="424.30" y1="121.25" x2="426.30" y2="121.25" stroke="#000" stroke-width="0.6"/>
<line x1="424.30" y1="119.51" x2="426.30" y2="119.51" stroke="#000" stroke-width="0.6"/>
<line x1="424.30" y1="118.01" x2="426.30" y2="118.01" stroke="#000" stroke-width="0.6"/>
<line x1="424.30" y1="116.69" x2="426.30" y2="116.69" stroke="#000" stroke-width="0.6"/>
<line x1="424.30" y1="125.81" x2="426.30" y2="125.81" stroke="#000" stroke-width="0.6"/>
<line x1="424.30" y1="123.30" x2="426.30" y2="123.30" stroke="#000" stroke-width="0.6"/>
<line x1="424.30" y1="121.25" x2="426.30" y2="121.25" stroke="#000" stroke-width="0.6"/>
<line x1="424.30" y1="119.51" x2="426.30" y2="119.51" stroke="#000" stroke-width="0.6"/>
<line x1="424.30" y1="118.01" x2="426.30" y2="118.01" stroke="#000" stroke-width="0.6"/>
<line x1="424.30" y1="116.69" x2="426.30" y2="116.69" stroke="#000" stroke-width="0.6"/>
<line x1="428.80" y1="127.40" x2="428.80" y2="130.40" stroke="#000" stroke-width="0.9"/>
<line x1="450.20" y1="127.40" x2="450.20" y2="130.40" stroke="#000" stroke-width="0.9"/>
<line x1="471.60" y1="127.40" x2="471.60" y2="130.40" stroke="#000" stroke-width="0.9"/>
<line x1="493.00" y1="127.40" x2="493.00" y2="130.40" stroke="#000" stroke-width="0.9"/>
<line x1="426.30" y1="140.70" x2="426.30" y2="240.10" stroke="#000" stroke-width="1.1"/>
<line x1="425.80" y1="239.60" x2="513.40" y2="239.60" stroke="#000" stroke-width="1.1"/>
<line x1="423.30" y1="148.00" x2="426.30" y2="148.00" stroke="#000" stroke-width="0.9"/>
<line x1="423.30" y1="176.83" x2="426.30" y2="176.83" stroke="#000" stroke-width="0.9"/>
<line x1="423.30" y1="205.66" x2="426.30" y2="205.66" stroke="#000" stroke-width="0.9"/>
<line x1="423.30" y1="234.49" x2="426.30" y2="234.49" stroke="#000" stroke-width="0.9"/>
<line x1="424.30" y1="168.15" x2="426.30" y2="168.15" stroke="#000" stroke-width="0.6"/>
<line x1="424.30" y1="163.07" x2="426.30" y2="163.07" stroke="#000" stroke-width="0.6"/>
<line x1="424.30" y1="159.47" x2="426.30" y2="159.47" stroke="#000" stroke-width="0.6"/>
<line x1="424.30" y1="156.68" x2="426.30" y2="156.68" stroke="#000" stroke-width="0.6"/>
<line x1="424.30" y1="154.40" x2="426.30" y2="154.40" stroke="#000" stroke-width="0.6"/>
<line x1="424.30" y1="152.47" x2="426.30" y2="152.47" stroke="#000" stroke-width="0.6"/>
<line x1="424.30" y1="150.79" x2="426.30" y2="150.79" stroke="#000" stroke-width="0.6"/>
<line x1="424.30" y1="149.32" x2="426.30" y2="149.32" stroke="#000" stroke-width="0.6"/>
<line x1="424.30" y1="196.98" x2="426.30" y2="196.98" stroke="#000" stroke-width="0.6"/>
<line x1="424.30" y1="191.90" x2="426.30" y2="191.90" stroke="#000" stroke-width="0.6"/>
<line x1="424.30" y1="188.30" x2="426.30" y2="188.30" stroke="#000" stroke-width="0.6"/>
<line x1="424.30" y1="185.51" x2="426.30" y2="185.51" stroke="#000" stroke-width="0.6"/>
<line x1="424.30" y1="183.23" x2="426.30" y2="183.23" stroke="#000" stroke-width="0.6"/>
<line x1="424.30" y1="181.30" x2="426.30" y2="181.30" stroke="#000" stroke-width="0.6"/>
<line x1="424.30" y1="179.62" x2="426.30" y2="179.62" stroke="#000" stroke-width="0.6"/>
<line x1="424.30" y1="178.15" x2="426.30" y2="178.15" stroke="#000" stroke-width="0.6"/>
<line x1="424.30" y1="225.81" x2="426.30" y2="225.81" stroke="#000" stroke-width="0.6"/>
<line x1="424.30" y1="220.73" x2="426.30" y2="220.73" stroke="#000" stroke-width="0.6"/>
<line x1="424.30" y1="217.13" x2="426.30" y2="217.13" stroke="#000" stroke-width="0.6"/>
<line x1="424.30" y1="214.34" x2="426.30" y2="214.34" stroke="#000" stroke-width="0.6"/>
<line x1="424.30" y1="212.06" x2="426.30" y2="212.06" stroke="#000" stroke-width="0.6"/>
<line x1="424.30" y1="210.13" x2="426.30" y2="210.13" stroke="#000" stroke-width="0.6"/>
<line x1="424.30" y1="208.45" x2="426.30" y2="208.45" stroke="#000" stroke-width="0.6"/>
<line x1="424.30" y1="206.98" x2="426.30" y2="206.98" stroke="#000" stroke-width="0.6"/>
<line x1="424.30" y1="238.96" x2="426.30" y2="238.96" stroke="#000" stroke-width="0.6"/>
<line x1="424.30" y1="237.28" x2="426.30" y2="237.28" stroke="#000" stroke-width="0.6"/>
<line x1="424.30" y1="235.81" x2="426.30" y2="235.81" stroke="#000" stroke-width="0.6"/>
<line x1="424.30" y1="240.89" x2="426.30" y2="240.89" stroke="#000" stroke-width="0.6"/>
<line x1="424.30" y1="238.96" x2="426.30" y2="238.96" stroke="#000" stroke-width="0.6"/>
<line x1="424.30" y1="237.28" x2="426.30" y2="237.28" stroke="#000" stroke-width="0.6"/>
<line x1="424.30" y1="235.81" x2="426.30" y2="235.81" stroke="#000" stroke-width="0.6"/>
<line x1="428.90" y1="239.60" x2="428.90" y2="242.60" stroke="#000" stroke-width="0.9"/>
<text x="428.9" y="252.2" font-size="8.3" text-anchor="middle" textLength="4.4" lengthAdjust="spacingAndGlyphs" fill="#222" >0</text>
<line x1="451.60" y1="239.60" x2="451.60" y2="242.60" stroke="#000" stroke-width="0.9"/>
<text x="451.59999999999997" y="252.2" font-size="8.3" text-anchor="middle" textLength="8.8" lengthAdjust="spacingAndGlyphs" fill="#222" >20</text>
<line x1="474.30" y1="239.60" x2="474.30" y2="242.60" stroke="#000" stroke-width="0.9"/>
<text x="474.29999999999995" y="252.2" font-size="8.3" text-anchor="middle" textLength="8.8" lengthAdjust="spacingAndGlyphs" fill="#222" >40</text>
<line x1="497.00" y1="239.60" x2="497.00" y2="242.60" stroke="#000" stroke-width="0.9"/>
<text x="497.0" y="252.2" font-size="8.3" text-anchor="middle" textLength="8.8" lengthAdjust="spacingAndGlyphs" fill="#222" >60</text>
<text x="20.8" y="40.10" font-size="8.2" fill="#222" textLength="8.2" lengthAdjust="spacingAndGlyphs">10</text>
<text x="29.3" y="37.10" font-size="6" fill="#222">0</text>
<text x="20.8" y="150.30" font-size="8.2" fill="#222" textLength="8.2" lengthAdjust="spacingAndGlyphs">10</text>
<text x="29.3" y="147.30" font-size="6" fill="#222">0</text>
<text x="20.8" y="66.00" font-size="8.2" fill="#222" textLength="8.2" lengthAdjust="spacingAndGlyphs">10</text>
<text x="29.3" y="63.00" font-size="6" fill="#222" textLength="5.8" lengthAdjust="spacingAndGlyphs">&#8722;1</text>
<text x="20.8" y="179.13" font-size="8.2" fill="#222" textLength="8.2" lengthAdjust="spacingAndGlyphs">10</text>
<text x="29.3" y="176.13" font-size="6" fill="#222" textLength="5.8" lengthAdjust="spacingAndGlyphs">&#8722;1</text>
<text x="20.8" y="91.90" font-size="8.2" fill="#222" textLength="8.2" lengthAdjust="spacingAndGlyphs">10</text>
<text x="29.3" y="88.90" font-size="6" fill="#222" textLength="5.8" lengthAdjust="spacingAndGlyphs">&#8722;2</text>
<text x="20.8" y="207.96" font-size="8.2" fill="#222" textLength="8.2" lengthAdjust="spacingAndGlyphs">10</text>
<text x="29.3" y="204.96" font-size="6" fill="#222" textLength="5.8" lengthAdjust="spacingAndGlyphs">&#8722;2</text>
<text x="20.8" y="117.80" font-size="8.2" fill="#222" textLength="8.2" lengthAdjust="spacingAndGlyphs">10</text>
<text x="29.3" y="114.80" font-size="6" fill="#222" textLength="5.8" lengthAdjust="spacingAndGlyphs">&#8722;3</text>
<text x="20.8" y="236.79" font-size="8.2" fill="#222" textLength="8.2" lengthAdjust="spacingAndGlyphs">10</text>
<text x="29.3" y="233.79" font-size="6" fill="#222" textLength="5.8" lengthAdjust="spacingAndGlyphs">&#8722;3</text>
<text transform="translate(14.2,80) rotate(-90)" font-size="8.6" text-anchor="middle" fill="#222" textLength="32.4" lengthAdjust="spacingAndGlyphs">IFN&#947; (nm)</text>
<text transform="translate(14.2,190.5) rotate(-90)" font-size="8.6" text-anchor="middle" fill="#222" textLength="29.7" lengthAdjust="spacingAndGlyphs">IL-2 (nm)</text>
<polyline points="44.80,122.00 47.40,122.00 50.40,117.40 63.40,97.00 82.90,91.80 121.00,94.40" fill="none" stroke="#35b044" stroke-width="1.35" stroke-linejoin="round" />
<circle cx="44.80" cy="122.00" r="2.0" fill="#35b044"/>
<circle cx="47.40" cy="122.00" r="2.0" fill="#35b044"/>
<circle cx="50.40" cy="117.40" r="2.0" fill="#35b044"/>
<circle cx="63.40" cy="97.00" r="2.0" fill="#35b044"/>
<circle cx="82.90" cy="91.80" r="2.0" fill="#35b044"/>
<circle cx="121.00" cy="94.40" r="2.0" fill="#35b044"/>
<polyline points="44.80,123.40 47.80,123.40 50.40,71.20 63.40,50.40 82.90,56.30 121.00,55.60" fill="none" stroke="#134b86" stroke-width="1.35" stroke-linejoin="round" />
<circle cx="44.80" cy="123.40" r="2.0" fill="#134b86"/>
<circle cx="47.80" cy="123.40" r="2.0" fill="#134b86"/>
<circle cx="50.40" cy="71.20" r="2.0" fill="#134b86"/>
<circle cx="63.40" cy="50.40" r="2.0" fill="#134b86"/>
<circle cx="82.90" cy="56.30" r="2.0" fill="#134b86"/>
<circle cx="121.00" cy="55.60" r="2.0" fill="#134b86"/>
<polyline points="44.80,109.90 47.40,89.20 50.40,74.10 63.40,60.80 82.90,61.70 121.00,56.00" fill="none" stroke="#c8102e" stroke-width="1.35" stroke-linejoin="round" />
<circle cx="44.80" cy="109.90" r="2.0" fill="#c8102e"/>
<circle cx="47.40" cy="89.20" r="2.0" fill="#c8102e"/>
<circle cx="50.40" cy="74.10" r="2.0" fill="#c8102e"/>
<circle cx="63.40" cy="60.80" r="2.0" fill="#c8102e"/>
<circle cx="82.90" cy="61.70" r="2.0" fill="#c8102e"/>
<circle cx="121.00" cy="56.00" r="2.0" fill="#c8102e"/>
<polyline points="173.50,116.90 175.80,120.30 178.70,123.80 191.90,108.20 210.90,94.90 249.30,97.50" fill="none" stroke="#35b044" stroke-width="1.35" stroke-linejoin="round" />
<circle cx="173.50" cy="116.90" r="2.0" fill="#35b044"/>
<circle cx="175.80" cy="120.30" r="2.0" fill="#35b044"/>
<circle cx="178.70" cy="123.80" r="2.0" fill="#35b044"/>
<circle cx="191.90" cy="108.20" r="2.0" fill="#35b044"/>
<circle cx="210.90" cy="94.90" r="2.0" fill="#35b044"/>
<circle cx="249.30" cy="97.50" r="2.0" fill="#35b044"/>
<polyline points="173.50,105.80 175.80,80.50 178.70,66.00 191.90,57.30 210.90,53.40 249.30,56.50" fill="none" stroke="#134b86" stroke-width="1.35" stroke-linejoin="round" />
<circle cx="173.50" cy="105.80" r="2.0" fill="#134b86"/>
<circle cx="175.80" cy="80.50" r="2.0" fill="#134b86"/>
<circle cx="178.70" cy="66.00" r="2.0" fill="#134b86"/>
<circle cx="191.90" cy="57.30" r="2.0" fill="#134b86"/>
<circle cx="210.90" cy="53.40" r="2.0" fill="#134b86"/>
<circle cx="249.30" cy="56.50" r="2.0" fill="#134b86"/>
<polyline points="173.50,109.10 175.80,81.60 178.70,75.00 191.90,50.80 210.90,52.50 249.30,50.80" fill="none" stroke="#c8102e" stroke-width="1.35" stroke-linejoin="round" />
<circle cx="173.50" cy="109.10" r="2.0" fill="#c8102e"/>
<circle cx="175.80" cy="81.60" r="2.0" fill="#c8102e"/>
<circle cx="178.70" cy="75.00" r="2.0" fill="#c8102e"/>
<circle cx="191.90" cy="50.80" r="2.0" fill="#c8102e"/>
<circle cx="210.90" cy="52.50" r="2.0" fill="#c8102e"/>
<circle cx="249.30" cy="50.80" r="2.0" fill="#c8102e"/>
<polyline points="301.50,117.00 303.80,113.40 306.70,114.80 319.90,100.90 339.30,100.10 377.70,99.70" fill="none" stroke="#35b044" stroke-width="1.35" stroke-linejoin="round" />
<circle cx="301.50" cy="117.00" r="2.0" fill="#35b044"/>
<circle cx="303.80" cy="113.40" r="2.0" fill="#35b044"/>
<circle cx="306.70" cy="114.80" r="2.0" fill="#35b044"/>
<circle cx="319.90" cy="100.90" r="2.0" fill="#35b044"/>
<circle cx="339.30" cy="100.10" r="2.0" fill="#35b044"/>
<circle cx="377.70" cy="99.70" r="2.0" fill="#35b044"/>
<polyline points="301.50,123.80 303.80,123.80 306.70,93.70 319.90,98.00 339.30,81.40 377.70,78.10" fill="none" stroke="#134b86" stroke-width="1.35" stroke-linejoin="round" />
<circle cx="301.50" cy="123.80" r="2.0" fill="#134b86"/>
<circle cx="303.80" cy="123.80" r="2.0" fill="#134b86"/>
<circle cx="306.70" cy="93.70" r="2.0" fill="#134b86"/>
<circle cx="319.90" cy="98.00" r="2.0" fill="#134b86"/>
<circle cx="339.30" cy="81.40" r="2.0" fill="#134b86"/>
<circle cx="377.70" cy="78.10" r="2.0" fill="#134b86"/>
<polyline points="301.50,114.40 303.80,115.60 306.70,100.60 319.90,82.20 339.30,75.30 377.70,70.70" fill="none" stroke="#c8102e" stroke-width="1.35" stroke-linejoin="round" />
<circle cx="301.50" cy="114.40" r="2.0" fill="#c8102e"/>
<circle cx="303.80" cy="115.60" r="2.0" fill="#c8102e"/>
<circle cx="306.70" cy="100.60" r="2.0" fill="#c8102e"/>
<circle cx="319.90" cy="82.20" r="2.0" fill="#c8102e"/>
<circle cx="339.30" cy="75.30" r="2.0" fill="#c8102e"/>
<circle cx="377.70" cy="70.70" r="2.0" fill="#c8102e"/>
<polyline points="429.70,114.40 432.30,117.00 435.20,120.80 448.20,103.50 467.60,105.80 505.70,107.90" fill="none" stroke="#35b044" stroke-width="1.35" stroke-linejoin="round" />
<circle cx="429.70" cy="114.40" r="2.0" fill="#35b044"/>
<circle cx="432.30" cy="117.00" r="2.0" fill="#35b044"/>
<circle cx="435.20" cy="120.80" r="2.0" fill="#35b044"/>
<circle cx="448.20" cy="103.50" r="2.0" fill="#35b044"/>
<circle cx="467.60" cy="105.80" r="2.0" fill="#35b044"/>
<circle cx="505.70" cy="107.90" r="2.0" fill="#35b044"/>
<polyline points="429.70,111.30 432.30,102.70 435.20,90.00 448.20,82.40 467.60,80.70 505.70,84.20" fill="none" stroke="#134b86" stroke-width="1.35" stroke-linejoin="round" />
<circle cx="429.70" cy="111.30" r="2.0" fill="#134b86"/>
<circle cx="432.30" cy="102.70" r="2.0" fill="#134b86"/>
<circle cx="435.20" cy="90.00" r="2.0" fill="#134b86"/>
<circle cx="448.20" cy="82.40" r="2.0" fill="#134b86"/>
<circle cx="467.60" cy="80.70" r="2.0" fill="#134b86"/>
<circle cx="505.70" cy="84.20" r="2.0" fill="#134b86"/>
<polyline points="429.70,123.40 432.30,109.60 435.20,99.70 448.20,86.70 467.60,85.00 505.70,85.00" fill="none" stroke="#c8102e" stroke-width="1.35" stroke-linejoin="round" />
<circle cx="429.70" cy="123.40" r="2.0" fill="#c8102e"/>
<circle cx="432.30" cy="109.60" r="2.0" fill="#c8102e"/>
<circle cx="435.20" cy="99.70" r="2.0" fill="#c8102e"/>
<circle cx="448.20" cy="86.70" r="2.0" fill="#c8102e"/>
<circle cx="467.60" cy="85.00" r="2.0" fill="#c8102e"/>
<circle cx="505.70" cy="85.00" r="2.0" fill="#c8102e"/>
<polyline points="44.80,224.00 47.30,228.00 50.90,218.10 64.60,217.60 85.00,217.90 126.00,205.50" fill="none" stroke="#35b044" stroke-width="1.35" stroke-linejoin="round" />
<circle cx="44.80" cy="224.00" r="2.0" fill="#35b044"/>
<circle cx="47.30" cy="228.00" r="2.0" fill="#35b044"/>
<circle cx="50.90" cy="218.10" r="2.0" fill="#35b044"/>
<circle cx="64.60" cy="217.60" r="2.0" fill="#35b044"/>
<circle cx="85.00" cy="217.90" r="2.0" fill="#35b044"/>
<circle cx="126.00" cy="205.50" r="2.0" fill="#35b044"/>
<polyline points="44.80,235.80 47.80,235.80 50.90,174.70 64.60,155.30 85.00,165.30 126.00,168.80" fill="none" stroke="#134b86" stroke-width="1.35" stroke-linejoin="round" />
<circle cx="44.80" cy="235.80" r="2.0" fill="#134b86"/>
<circle cx="47.80" cy="235.80" r="2.0" fill="#134b86"/>
<circle cx="50.90" cy="174.70" r="2.0" fill="#134b86"/>
<circle cx="64.60" cy="155.30" r="2.0" fill="#134b86"/>
<circle cx="85.00" cy="165.30" r="2.0" fill="#134b86"/>
<circle cx="126.00" cy="168.80" r="2.0" fill="#134b86"/>
<polyline points="44.70,223.10 47.30,183.80 50.70,164.30 64.60,153.20 85.00,159.10 126.00,176.90" fill="none" stroke="#c8102e" stroke-width="1.35" stroke-linejoin="round" />
<circle cx="44.70" cy="223.10" r="2.0" fill="#c8102e"/>
<circle cx="47.30" cy="183.80" r="2.0" fill="#c8102e"/>
<circle cx="50.70" cy="164.30" r="2.0" fill="#c8102e"/>
<circle cx="64.60" cy="153.20" r="2.0" fill="#c8102e"/>
<circle cx="85.00" cy="159.10" r="2.0" fill="#c8102e"/>
<circle cx="126.00" cy="176.90" r="2.0" fill="#c8102e"/>
<polyline points="173.20,231.10 175.80,228.00 179.20,223.30 192.70,220.70 213.00,214.10 254.20,221.90" fill="none" stroke="#35b044" stroke-width="1.35" stroke-linejoin="round" />
<circle cx="173.20" cy="231.10" r="2.0" fill="#35b044"/>
<circle cx="175.80" cy="228.00" r="2.0" fill="#35b044"/>
<circle cx="179.20" cy="223.30" r="2.0" fill="#35b044"/>
<circle cx="192.70" cy="220.70" r="2.0" fill="#35b044"/>
<circle cx="213.00" cy="214.10" r="2.0" fill="#35b044"/>
<circle cx="254.20" cy="221.90" r="2.0" fill="#35b044"/>
<polyline points="173.20,235.80 175.80,188.20 179.20,164.30 192.70,144.40 213.00,144.40 254.20,157.90" fill="none" stroke="#134b86" stroke-width="1.35" stroke-linejoin="round" />
<circle cx="173.20" cy="235.80" r="2.0" fill="#134b86"/>
<circle cx="175.80" cy="188.20" r="2.0" fill="#134b86"/>
<circle cx="179.20" cy="164.30" r="2.0" fill="#134b86"/>
<circle cx="192.70" cy="144.40" r="2.0" fill="#134b86"/>
<circle cx="213.00" cy="144.40" r="2.0" fill="#134b86"/>
<circle cx="254.20" cy="157.90" r="2.0" fill="#134b86"/>
<polyline points="173.20,220.70 175.80,179.00 179.20,164.30 192.70,154.80 213.00,145.80 254.20,148.70" fill="none" stroke="#c8102e" stroke-width="1.35" stroke-linejoin="round" />
<circle cx="173.20" cy="220.70" r="2.0" fill="#c8102e"/>
<circle cx="175.80" cy="179.00" r="2.0" fill="#c8102e"/>
<circle cx="179.20" cy="164.30" r="2.0" fill="#c8102e"/>
<circle cx="192.70" cy="154.80" r="2.0" fill="#c8102e"/>
<circle cx="213.00" cy="145.80" r="2.0" fill="#c8102e"/>
<circle cx="254.20" cy="148.70" r="2.0" fill="#c8102e"/>
<polyline points="301.50,224.20 304.30,224.20 307.60,222.80 321.10,219.80 341.30,218.50 382.50,226.20" fill="none" stroke="#35b044" stroke-width="1.35" stroke-linejoin="round" />
<circle cx="301.50" cy="224.20" r="2.0" fill="#35b044"/>
<circle cx="304.30" cy="224.20" r="2.0" fill="#35b044"/>
<circle cx="307.60" cy="222.80" r="2.0" fill="#35b044"/>
<circle cx="321.10" cy="219.80" r="2.0" fill="#35b044"/>
<circle cx="341.30" cy="218.50" r="2.0" fill="#35b044"/>
<circle cx="382.50" cy="226.20" r="2.0" fill="#35b044"/>
<polyline points="301.50,235.40 304.30,235.40 307.60,225.70 321.10,224.50 341.30,231.90 382.50,218.10" fill="none" stroke="#134b86" stroke-width="1.35" stroke-linejoin="round" />
<circle cx="301.50" cy="235.40" r="2.0" fill="#134b86"/>
<circle cx="304.30" cy="235.40" r="2.0" fill="#134b86"/>
<circle cx="307.60" cy="225.70" r="2.0" fill="#134b86"/>
<circle cx="321.10" cy="224.50" r="2.0" fill="#134b86"/>
<circle cx="341.30" cy="231.90" r="2.0" fill="#134b86"/>
<circle cx="382.50" cy="218.10" r="2.0" fill="#134b86"/>
<polyline points="301.50,218.80 304.30,222.30 307.60,212.70 321.10,204.60 341.30,208.10 382.50,218.10" fill="none" stroke="#c8102e" stroke-width="1.35" stroke-linejoin="round" />
<circle cx="301.50" cy="218.80" r="2.0" fill="#c8102e"/>
<circle cx="304.30" cy="222.30" r="2.0" fill="#c8102e"/>
<circle cx="307.60" cy="212.70" r="2.0" fill="#c8102e"/>
<circle cx="321.10" cy="204.60" r="2.0" fill="#c8102e"/>
<circle cx="341.30" cy="208.10" r="2.0" fill="#c8102e"/>
<circle cx="382.50" cy="218.10" r="2.0" fill="#c8102e"/>
<polyline points="430.10,225.90 432.30,222.80 436.10,218.40 449.60,228.00 469.80,217.20 511.00,216.20" fill="none" stroke="#35b044" stroke-width="1.35" stroke-linejoin="round" />
<circle cx="430.10" cy="225.90" r="2.0" fill="#35b044"/>
<circle cx="432.30" cy="222.80" r="2.0" fill="#35b044"/>
<circle cx="436.10" cy="218.40" r="2.0" fill="#35b044"/>
<circle cx="449.60" cy="228.00" r="2.0" fill="#35b044"/>
<circle cx="469.80" cy="217.20" r="2.0" fill="#35b044"/>
<circle cx="511.00" cy="216.20" r="2.0" fill="#35b044"/>
<polyline points="430.10,236.10 432.30,232.80 436.10,221.00 449.60,224.50 469.80,221.60 511.00,226.80" fill="none" stroke="#134b86" stroke-width="1.35" stroke-linejoin="round" />
<circle cx="430.10" cy="236.10" r="2.0" fill="#134b86"/>
<circle cx="432.30" cy="232.80" r="2.0" fill="#134b86"/>
<circle cx="436.10" cy="221.00" r="2.0" fill="#134b86"/>
<circle cx="449.60" cy="224.50" r="2.0" fill="#134b86"/>
<circle cx="469.80" cy="221.60" r="2.0" fill="#134b86"/>
<circle cx="511.00" cy="226.80" r="2.0" fill="#134b86"/>
<polyline points="430.10,220.20 432.30,228.80 436.10,215.50 449.60,208.90 469.80,216.70 511.00,212.40" fill="none" stroke="#c8102e" stroke-width="1.35" stroke-linejoin="round" />
<circle cx="430.10" cy="220.20" r="2.0" fill="#c8102e"/>
<circle cx="432.30" cy="228.80" r="2.0" fill="#c8102e"/>
<circle cx="436.10" cy="215.50" r="2.0" fill="#c8102e"/>
<circle cx="449.60" cy="208.90" r="2.0" fill="#c8102e"/>
<circle cx="469.80" cy="216.70" r="2.0" fill="#c8102e"/>
<circle cx="511.00" cy="212.40" r="2.0" fill="#c8102e"/>
<text x="42.3" y="266.2" font-size="9.2" textLength="51.4" lengthAdjust="spacingAndGlyphs" fill="#222" >Time (hours)</text>
<line x1="98.50" y1="263.50" x2="507.50" y2="263.50" stroke="#000" stroke-width="1.2"/>
<polygon points="506.8,259.9 513.3,263.5 506.8,267.1" fill="#000"/>
<line x1="149.20" y1="275.90" x2="161.50" y2="275.90" stroke="#134b86" stroke-width="1.6"/>
<text x="165" y="278.3" font-size="6.9" textLength="67.3" lengthAdjust="spacingAndGlyphs" fill="#333" >MSCV-CD19.22.BB&#950;</text>
<line x1="244.40" y1="275.90" x2="256.50" y2="275.90" stroke="#c8102e" stroke-width="1.6"/>
<text x="260.4" y="278.3" font-size="6.9" textLength="63.8" lengthAdjust="spacingAndGlyphs" fill="#333" >EF1&#945;-CD19.22.BB&#950;</text>
<line x1="336.50" y1="275.90" x2="349.10" y2="275.90" stroke="#35b044" stroke-width="1.6"/>
<text x="352.6" y="278.3" font-size="7.2" textLength="17.8" lengthAdjust="spacingAndGlyphs" fill="#333" >Mock</text>
<text x="7.8" y="308.3" font-size="13.1" font-weight="bold" textLength="7.5" lengthAdjust="spacingAndGlyphs" fill="#000" >B</text>
<text x="54" y="308.5" font-size="10" fill="#231f20" textLength="93" lengthAdjust="spacingAndGlyphs">CD19<tspan dy="-3.4" font-size="6.8">+</tspan><tspan dy="3.4">CD22</tspan><tspan dy="-3.4" font-size="6.8">+</tspan><tspan dy="3.4"> NALM6</tspan></text>
<polyline points="38.3,316.8 38.3,313.5 161.8,313.5 161.8,316.8" fill="none" stroke="#222" stroke-width="0.9"/>
<text x="199.2" y="308.5" font-size="10" fill="#231f20" textLength="91.40000000000003" lengthAdjust="spacingAndGlyphs">CD19<tspan dy="-3.4" font-size="6.8">+</tspan><tspan dy="3.4">CD22</tspan><tspan dy="-3.4" font-size="6.8">&#8211;</tspan><tspan dy="3.4"> NALM6</tspan></text>
<polyline points="182.9,316.8 182.9,313.5 306.0,313.5 306.0,316.8" fill="none" stroke="#222" stroke-width="0.9"/>
<text x="352.7" y="308.5" font-size="10" fill="#231f20" textLength="92.30000000000001" lengthAdjust="spacingAndGlyphs">CD19<tspan dy="-3.4" font-size="6.8">&#8211;</tspan><tspan dy="3.4">CD22</tspan><tspan dy="-3.4" font-size="6.8">+</tspan><tspan dy="3.4"> NALM6</tspan></text>
<polyline points="330.8,316.8 330.8,313.5 465.0,313.5 465.0,316.8" fill="none" stroke="#222" stroke-width="0.9"/>
<text x="42.8" y="326.8" font-size="8.5" textLength="39.7" lengthAdjust="spacingAndGlyphs" fill="#231f20" >MSCV-CAR</text>
<text x="94.8" y="326.8" font-size="8.5" textLength="37.6" lengthAdjust="spacingAndGlyphs" fill="#231f20" >EF1&#945;-CAR</text>
<text x="140" y="326.8" font-size="8.5" textLength="19.5" lengthAdjust="spacingAndGlyphs" fill="#231f20" >Mock</text>
<text x="186.9" y="326.8" font-size="8.5" textLength="40.0" lengthAdjust="spacingAndGlyphs" fill="#231f20" >MSCV-CAR</text>
<text x="239.2" y="326.8" font-size="8.5" textLength="37.0" lengthAdjust="spacingAndGlyphs" fill="#231f20" >EF1&#945;-CAR</text>
<text x="284.5" y="326.8" font-size="8.5" textLength="19.3" lengthAdjust="spacingAndGlyphs" fill="#231f20" >Mock</text>
<text x="334.6" y="326.8" font-size="8.5" textLength="40.0" lengthAdjust="spacingAndGlyphs" fill="#231f20" >MSCV-CAR</text>
<text x="386.2" y="326.8" font-size="8.5" textLength="36.8" lengthAdjust="spacingAndGlyphs" fill="#231f20" >EF1&#945;-CAR</text>
<text x="437.3" y="326.8" font-size="8.5" textLength="19.2" lengthAdjust="spacingAndGlyphs" fill="#231f20" >Mock</text>
<text x="35.4" y="350.0" font-size="9.6" text-anchor="end" textLength="20.0" lengthAdjust="spacingAndGlyphs" fill="#231f20" >Day 3</text>
<text x="35.4" y="380.25" font-size="9.6" text-anchor="end" textLength="20.0" lengthAdjust="spacingAndGlyphs" fill="#231f20" >Day 6</text>
<text x="35.4" y="410.5" font-size="9.6" text-anchor="end" textLength="24.7" lengthAdjust="spacingAndGlyphs" fill="#231f20" >Day 13</text>
<text x="35.4" y="440.75" font-size="9.6" text-anchor="end" textLength="24.7" lengthAdjust="spacingAndGlyphs" fill="#231f20" >Day 20</text>
<text x="35.4" y="471.0" font-size="9.6" text-anchor="end" textLength="24.7" lengthAdjust="spacingAndGlyphs" fill="#231f20" >Day 27</text>
<text x="35.4" y="501.25" font-size="9.6" text-anchor="end" textLength="24.7" lengthAdjust="spacingAndGlyphs" fill="#231f20" >Day 34</text>
<text x="35.4" y="531.5" font-size="9.6" text-anchor="end" textLength="24.7" lengthAdjust="spacingAndGlyphs" fill="#231f20" >Day 41</text>
<rect x="39.00" y="330.50" width="47.40" height="28.5" fill="url(#gbg)"/>
<g clip-path="url(#c0)">
<path d="M43.00,351.50 L43.00,359.00 M40.20,350.80 L39.00,353.30 M45.80,350.80 L47.00,353.30" stroke="#aaa" stroke-width="0.8" fill="none"/>
<path d="M43.00,331.90 C43.66,331.90 44.14,333.50 44.52,335.50 C44.90,337.30 45.66,338.30 45.95,340.50 C46.33,343.00 46.80,346.50 46.66,349.50 C46.47,351.40 44.90,352.00 43.00,352.00 C41.10,352.00 39.53,351.40 39.34,349.50 C39.20,346.50 39.67,343.00 40.05,340.50 C40.34,338.30 41.10,337.30 41.48,335.50 C41.86,333.50 42.34,331.90 43.00,331.90Z" fill="url(#wm)"/>
<ellipse cx="41.60" cy="337.90" rx="1.3" ry="1.0" fill="#7a3cff" opacity="1"/>
<ellipse cx="44.40" cy="337.90" rx="1.3" ry="1.0" fill="#7a3cff" opacity="1"/>
<ellipse cx="43.00" cy="343.00" rx="3.1" ry="2.9" fill="#7230ff" opacity="1"/>
<ellipse cx="43.00" cy="343.30" rx="2.0" ry="1.7" fill="#4a14ff" opacity="1"/>
<ellipse cx="39.90" cy="348.80" rx="1.4" ry="1.7" fill="#7230ff" opacity="1"/>
<ellipse cx="46.10" cy="348.80" rx="1.4" ry="1.7" fill="#7230ff" opacity="1"/>
<path d="M52.40,351.50 L52.40,359.00 M49.60,350.80 L48.40,353.30 M55.20,350.80 L56.40,353.30" stroke="#aaa" stroke-width="0.8" fill="none"/>
<path d="M52.40,331.90 C53.06,331.90 53.54,333.50 53.92,335.50 C54.30,337.30 55.06,338.30 55.34,340.50 C55.73,343.00 56.20,346.50 56.06,349.50 C55.87,351.40 54.30,352.00 52.40,352.00 C50.50,352.00 48.93,351.40 48.74,349.50 C48.60,346.50 49.07,343.00 49.45,340.50 C49.74,338.30 50.50,337.30 50.88,335.50 C51.26,333.50 51.73,331.90 52.40,331.90Z" fill="url(#wm)"/>
<ellipse cx="51.00" cy="337.90" rx="1.3" ry="1.0" fill="#7a3cff" opacity="1"/>
<ellipse cx="53.80" cy="337.90" rx="1.3" ry="1.0" fill="#7a3cff" opacity="1"/>
<ellipse cx="52.40" cy="343.00" rx="3.1" ry="2.9" fill="#7230ff" opacity="1"/>
<ellipse cx="52.40" cy="343.30" rx="2.0" ry="1.7" fill="#4a14ff" opacity="1"/>
<ellipse cx="49.30" cy="348.80" rx="1.4" ry="1.7" fill="#7230ff" opacity="1"/>
<ellipse cx="55.50" cy="348.80" rx="1.4" ry="1.7" fill="#7230ff" opacity="1"/>
<path d="M61.80,351.50 L61.80,359.00 M59.00,350.80 L57.80,353.30 M64.60,350.80 L65.80,353.30" stroke="#aaa" stroke-width="0.8" fill="none"/>
<path d="M61.80,331.90 C62.46,331.90 62.94,333.50 63.32,335.50 C63.70,337.30 64.46,338.30 64.74,340.50 C65.12,343.00 65.60,346.50 65.46,349.50 C65.27,351.40 63.70,352.00 61.80,352.00 C59.90,352.00 58.33,351.40 58.14,349.50 C58.00,346.50 58.47,343.00 58.85,340.50 C59.14,338.30 59.90,337.30 60.28,335.50 C60.66,333.50 61.13,331.90 61.80,331.90Z" fill="url(#wm)"/>
<ellipse cx="60.40" cy="337.90" rx="1.3" ry="1.0" fill="#7a3cff" opacity="1"/>
<ellipse cx="63.20" cy="337.90" rx="1.3" ry="1.0" fill="#7a3cff" opacity="1"/>
<ellipse cx="61.80" cy="343.00" rx="3.1" ry="2.9" fill="#7230ff" opacity="1"/>
<ellipse cx="61.80" cy="343.30" rx="2.0" ry="1.7" fill="#4a14ff" opacity="1"/>
<ellipse cx="58.70" cy="348.80" rx="1.4" ry="1.7" fill="#7230ff" opacity="1"/>
<ellipse cx="64.90" cy="348.80" rx="1.4" ry="1.7" fill="#7230ff" opacity="1"/>
<path d="M71.20,351.50 L71.20,359.00 M68.40,350.80 L67.20,353.30 M74.00,350.80 L75.20,353.30" stroke="#aaa" stroke-width="0.8" fill="none"/>
<path d="M71.20,331.90 C71.87,331.90 72.34,333.50 72.72,335.50 C73.10,337.30 73.86,338.30 74.14,340.50 C74.53,343.00 75.00,346.50 74.86,349.50 C74.67,351.40 73.10,352.00 71.20,352.00 C69.30,352.00 67.73,351.40 67.54,349.50 C67.40,346.50 67.88,343.00 68.26,340.50 C68.54,338.30 69.30,337.30 69.68,335.50 C70.06,333.50 70.53,331.90 71.20,331.90Z" fill="url(#wm)"/>
<ellipse cx="69.80" cy="337.90" rx="1.3" ry="1.0" fill="#7a3cff" opacity="1"/>
<ellipse cx="72.60" cy="337.90" rx="1.3" ry="1.0" fill="#7a3cff" opacity="1"/>
<ellipse cx="71.20" cy="343.00" rx="3.1" ry="2.9" fill="#7230ff" opacity="1"/>
<ellipse cx="71.20" cy="343.30" rx="2.0" ry="1.7" fill="#4a14ff" opacity="1"/>
<ellipse cx="68.10" cy="348.80" rx="1.4" ry="1.7" fill="#7230ff" opacity="1"/>
<ellipse cx="74.30" cy="348.80" rx="1.4" ry="1.7" fill="#7230ff" opacity="1"/>
<path d="M80.60,351.50 L80.60,359.00 M77.80,350.80 L76.60,353.30 M83.40,350.80 L84.60,353.30" stroke="#aaa" stroke-width="0.8" fill="none"/>
<path d="M80.60,331.90 C81.27,331.90 81.74,333.50 82.12,335.50 C82.50,337.30 83.26,338.30 83.54,340.50 C83.92,343.00 84.40,346.50 84.26,349.50 C84.07,351.40 82.50,352.00 80.60,352.00 C78.70,352.00 77.13,351.40 76.94,349.50 C76.80,346.50 77.27,343.00 77.66,340.50 C77.94,338.30 78.70,337.30 79.08,335.50 C79.46,333.50 79.93,331.90 80.60,331.90Z" fill="url(#wm)"/>
<ellipse cx="79.20" cy="337.90" rx="1.3" ry="1.0" fill="#7a3cff" opacity="1"/>
<ellipse cx="82.00" cy="337.90" rx="1.3" ry="1.0" fill="#7a3cff" opacity="1"/>
<ellipse cx="80.60" cy="343.00" rx="3.1" ry="2.9" fill="#7230ff" opacity="1"/>
<ellipse cx="80.60" cy="343.30" rx="2.0" ry="1.7" fill="#4a14ff" opacity="1"/>
<ellipse cx="77.50" cy="348.80" rx="1.4" ry="1.7" fill="#7230ff" opacity="1"/>
<ellipse cx="83.70" cy="348.80" rx="1.4" ry="1.7" fill="#7230ff" opacity="1"/>
</g>
<rect x="90.00" y="330.50" width="47.40" height="28.5" fill="url(#gbg)"/>
<g clip-path="url(#c1)">
<path d="M94.00,351.50 L94.00,359.00 M91.20,350.80 L90.00,353.30 M96.80,350.80 L98.00,353.30" stroke="#aaa" stroke-width="0.8" fill="none"/>
<path d="M94.00,331.90 C94.67,331.90 95.14,333.50 95.52,335.50 C95.90,337.30 96.66,338.30 96.94,340.50 C97.33,343.00 97.80,346.50 97.66,349.50 C97.47,351.40 95.90,352.00 94.00,352.00 C92.10,352.00 90.53,351.40 90.34,349.50 C90.20,346.50 90.67,343.00 91.06,340.50 C91.34,338.30 92.10,337.30 92.48,335.50 C92.86,333.50 93.33,331.90 94.00,331.90Z" fill="url(#wm)"/>
<ellipse cx="92.60" cy="337.90" rx="1.3" ry="1.0" fill="#7a3cff" opacity="1"/>
<ellipse cx="95.40" cy="337.90" rx="1.3" ry="1.0" fill="#7a3cff" opacity="1"/>
<ellipse cx="94.00" cy="343.00" rx="3.1" ry="2.9" fill="#7230ff" opacity="1"/>
<ellipse cx="94.00" cy="343.30" rx="2.0" ry="1.7" fill="#4a14ff" opacity="1"/>
<ellipse cx="90.90" cy="348.80" rx="1.4" ry="1.7" fill="#7230ff" opacity="1"/>
<ellipse cx="97.10" cy="348.80" rx="1.4" ry="1.7" fill="#7230ff" opacity="1"/>
<path d="M103.40,351.50 L103.40,359.00 M100.60,350.80 L99.40,353.30 M106.20,350.80 L107.40,353.30" stroke="#aaa" stroke-width="0.8" fill="none"/>
<path d="M103.40,331.90 C104.07,331.90 104.54,333.50 104.92,335.50 C105.30,337.30 106.06,338.30 106.34,340.50 C106.73,343.00 107.20,346.50 107.06,349.50 C106.87,351.40 105.30,352.00 103.40,352.00 C101.50,352.00 99.93,351.40 99.74,349.50 C99.60,346.50 100.08,343.00 100.46,340.50 C100.74,338.30 101.50,337.30 101.88,335.50 C102.26,333.50 102.73,331.90 103.40,331.90Z" fill="url(#wm)"/>
<ellipse cx="102.00" cy="337.90" rx="1.3" ry="1.0" fill="#7a3cff" opacity="1"/>
<ellipse cx="104.80" cy="337.90" rx="1.3" ry="1.0" fill="#7a3cff" opacity="1"/>
<ellipse cx="103.40" cy="343.00" rx="3.1" ry="2.9" fill="#7230ff" opacity="1"/>
<ellipse cx="103.40" cy="343.30" rx="2.0" ry="1.7" fill="#4a14ff" opacity="1"/>
<ellipse cx="100.30" cy="348.80" rx="1.4" ry="1.7" fill="#7230ff" opacity="1"/>
<ellipse cx="106.50" cy="348.80" rx="1.4" ry="1.7" fill="#7230ff" opacity="1"/>
<path d="M112.80,351.50 L112.80,359.00 M110.00,350.80 L108.80,353.30 M115.60,350.80 L116.80,353.30" stroke="#aaa" stroke-width="0.8" fill="none"/>
<path d="M112.80,331.90 C113.47,331.90 113.94,333.50 114.32,335.50 C114.70,337.30 115.46,338.30 115.74,340.50 C116.12,343.00 116.60,346.50 116.46,349.50 C116.27,351.40 114.70,352.00 112.80,352.00 C110.90,352.00 109.33,351.40 109.14,349.50 C109.00,346.50 109.47,343.00 109.86,340.50 C110.14,338.30 110.90,337.30 111.28,335.50 C111.66,333.50 112.13,331.90 112.80,331.90Z" fill="url(#wm)"/>
<ellipse cx="111.40" cy="337.90" rx="1.3" ry="1.0" fill="#7a3cff" opacity="1"/>
<ellipse cx="114.20" cy="337.90" rx="1.3" ry="1.0" fill="#7a3cff" opacity="1"/>
<ellipse cx="112.80" cy="343.00" rx="3.1" ry="2.9" fill="#7230ff" opacity="1"/>
<ellipse cx="112.80" cy="343.30" rx="2.0" ry="1.7" fill="#4a14ff" opacity="1"/>
<ellipse cx="109.70" cy="348.80" rx="1.4" ry="1.7" fill="#7230ff" opacity="1"/>
<ellipse cx="115.90" cy="348.80" rx="1.4" ry="1.7" fill="#7230ff" opacity="1"/>
<path d="M122.20,351.50 L122.20,359.00 M119.40,350.80 L118.20,353.30 M125.00,350.80 L126.20,353.30" stroke="#aaa" stroke-width="0.8" fill="none"/>
<path d="M122.20,331.90 C122.87,331.90 123.34,333.50 123.72,335.50 C124.10,337.30 124.86,338.30 125.14,340.50 C125.53,343.00 126.00,346.50 125.86,349.50 C125.67,351.40 124.10,352.00 122.20,352.00 C120.30,352.00 118.73,351.40 118.54,349.50 C118.40,346.50 118.88,343.00 119.26,340.50 C119.54,338.30 120.30,337.30 120.68,335.50 C121.06,333.50 121.53,331.90 122.20,331.90Z" fill="url(#wm)"/>
<ellipse cx="120.80" cy="337.90" rx="1.3" ry="1.0" fill="#7a3cff" opacity="1"/>
<ellipse cx="123.60" cy="337.90" rx="1.3" ry="1.0" fill="#7a3cff" opacity="1"/>
<ellipse cx="122.20" cy="343.00" rx="3.1" ry="2.9" fill="#7230ff" opacity="1"/>
<ellipse cx="122.20" cy="343.30" rx="2.0" ry="1.7" fill="#4a14ff" opacity="1"/>
<ellipse cx="119.10" cy="348.80" rx="1.4" ry="1.7" fill="#7230ff" opacity="1"/>
<ellipse cx="125.30" cy="348.80" rx="1.4" ry="1.7" fill="#7230ff" opacity="1"/>
<path d="M131.60,351.50 L131.60,359.00 M128.80,350.80 L127.60,353.30 M134.40,350.80 L135.60,353.30" stroke="#aaa" stroke-width="0.8" fill="none"/>
<path d="M131.60,331.90 C132.26,331.90 132.74,333.50 133.12,335.50 C133.50,337.30 134.26,338.30 134.54,340.50 C134.92,343.00 135.40,346.50 135.26,349.50 C135.07,351.40 133.50,352.00 131.60,352.00 C129.70,352.00 128.13,351.40 127.94,349.50 C127.80,346.50 128.28,343.00 128.66,340.50 C128.94,338.30 129.70,337.30 130.08,335.50 C130.46,333.50 130.94,331.90 131.60,331.90Z" fill="url(#wm)"/>
<ellipse cx="130.20" cy="337.90" rx="1.3" ry="1.0" fill="#7a3cff" opacity="1"/>
<ellipse cx="133.00" cy="337.90" rx="1.3" ry="1.0" fill="#7a3cff" opacity="1"/>
<ellipse cx="131.60" cy="343.00" rx="3.1" ry="2.9" fill="#7230ff" opacity="1"/>
<ellipse cx="131.60" cy="343.30" rx="2.0" ry="1.7" fill="#4a14ff" opacity="1"/>
<ellipse cx="128.50" cy="348.80" rx="1.4" ry="1.7" fill="#7230ff" opacity="1"/>
<ellipse cx="134.70" cy="348.80" rx="1.4" ry="1.7" fill="#7230ff" opacity="1"/>
</g>
<rect x="141.00" y="330.50" width="19.20" height="28.5" fill="url(#gbg)"/>
<g clip-path="url(#c2)">
<path d="M145.00,351.50 L145.00,359.00 M142.20,350.80 L141.00,353.30 M147.80,350.80 L149.00,353.30" stroke="#aaa" stroke-width="0.8" fill="none"/>
<path d="M145.00,331.90 C145.66,331.90 146.14,333.50 146.52,335.50 C146.90,337.30 147.66,338.30 147.94,340.50 C148.32,343.00 148.80,346.50 148.66,349.50 C148.47,351.40 146.90,352.00 145.00,352.00 C143.10,352.00 141.53,351.40 141.34,349.50 C141.20,346.50 141.68,343.00 142.06,340.50 C142.34,338.30 143.10,337.30 143.48,335.50 C143.86,333.50 144.34,331.90 145.00,331.90Z" fill="url(#wm)"/>
<ellipse cx="143.60" cy="337.90" rx="1.3" ry="1.0" fill="#7a3cff" opacity="1"/>
<ellipse cx="146.40" cy="337.90" rx="1.3" ry="1.0" fill="#7a3cff" opacity="1"/>
<ellipse cx="145.00" cy="343.00" rx="3.1" ry="2.9" fill="#7230ff" opacity="1"/>
<ellipse cx="145.00" cy="343.30" rx="2.0" ry="1.7" fill="#4a14ff" opacity="1"/>
<ellipse cx="141.90" cy="348.80" rx="1.4" ry="1.7" fill="#7230ff" opacity="1"/>
<ellipse cx="148.10" cy="348.80" rx="1.4" ry="1.7" fill="#7230ff" opacity="1"/>
<path d="M154.40,351.50 L154.40,359.00 M151.60,350.80 L150.40,353.30 M157.20,350.80 L158.40,353.30" stroke="#aaa" stroke-width="0.8" fill="none"/>
<path d="M154.40,331.90 C155.06,331.90 155.54,333.50 155.92,335.50 C156.30,337.30 157.06,338.30 157.34,340.50 C157.72,343.00 158.20,346.50 158.06,349.50 C157.87,351.40 156.30,352.00 154.40,352.00 C152.50,352.00 150.93,351.40 150.74,349.50 C150.60,346.50 151.08,343.00 151.46,340.50 C151.74,338.30 152.50,337.30 152.88,335.50 C153.26,333.50 153.74,331.90 154.40,331.90Z" fill="url(#wm)"/>
<ellipse cx="153.00" cy="337.90" rx="1.3" ry="1.0" fill="#7a3cff" opacity="1"/>
<ellipse cx="155.80" cy="337.90" rx="1.3" ry="1.0" fill="#7a3cff" opacity="1"/>
<ellipse cx="154.40" cy="343.00" rx="3.1" ry="2.9" fill="#7230ff" opacity="1"/>
<ellipse cx="154.40" cy="343.30" rx="2.0" ry="1.7" fill="#4a14ff" opacity="1"/>
<ellipse cx="151.30" cy="348.80" rx="1.4" ry="1.7" fill="#7230ff" opacity="1"/>
<ellipse cx="157.50" cy="348.80" rx="1.4" ry="1.7" fill="#7230ff" opacity="1"/>
</g>
<rect x="39.00" y="360.75" width="47.40" height="28.5" fill="url(#gbg)"/>
<g clip-path="url(#c3)">
<path d="M43.00,381.75 L43.00,389.25 M40.20,381.05 L39.00,383.55 M45.80,381.05 L47.00,383.55" stroke="#8a8a8a" stroke-width="0.8" fill="none"/>
<path d="M43.00,362.15 C43.65,362.15 44.12,363.75 44.49,365.75 C44.86,367.55 45.60,368.55 45.88,370.75 C46.26,373.25 46.72,376.75 46.58,379.75 C46.39,381.65 44.86,382.25 43.00,382.25 C41.14,382.25 39.61,381.65 39.42,379.75 C39.28,376.75 39.74,373.25 40.12,370.75 C40.40,368.55 41.14,367.55 41.51,365.75 C41.88,363.75 42.35,362.15 43.00,362.15Z" fill="url(#gm)"/>
<path d="M52.40,381.75 L52.40,389.25 M49.60,381.05 L48.40,383.55 M55.20,381.05 L56.40,383.55" stroke="#8a8a8a" stroke-width="0.8" fill="none"/>
<path d="M52.40,362.15 C53.05,362.15 53.52,363.75 53.89,365.75 C54.26,367.55 55.00,368.55 55.28,370.75 C55.66,373.25 56.12,376.75 55.98,379.75 C55.79,381.65 54.26,382.25 52.40,382.25 C50.54,382.25 49.01,381.65 48.82,379.75 C48.68,376.75 49.14,373.25 49.52,370.75 C49.80,368.55 50.54,367.55 50.91,365.75 C51.28,363.75 51.75,362.15 52.40,362.15Z" fill="url(#gm)"/>
<path d="M61.80,381.75 L61.80,389.25 M59.00,381.05 L57.80,383.55 M64.60,381.05 L65.80,383.55" stroke="#8a8a8a" stroke-width="0.8" fill="none"/>
<path d="M61.80,362.15 C62.45,362.15 62.92,363.75 63.29,365.75 C63.66,367.55 64.40,368.55 64.68,370.75 C65.05,373.25 65.52,376.75 65.38,379.75 C65.19,381.65 63.66,382.25 61.80,382.25 C59.94,382.25 58.41,381.65 58.22,379.75 C58.08,376.75 58.54,373.25 58.92,370.75 C59.20,368.55 59.94,367.55 60.31,365.75 C60.68,363.75 61.15,362.15 61.80,362.15Z" fill="url(#gm)"/>
<path d="M71.20,381.75 L71.20,389.25 M68.40,381.05 L67.20,383.55 M74.00,381.05 L75.20,383.55" stroke="#8a8a8a" stroke-width="0.8" fill="none"/>
<path d="M71.20,362.15 C71.85,362.15 72.32,363.75 72.69,365.75 C73.06,367.55 73.80,368.55 74.08,370.75 C74.45,373.25 74.92,376.75 74.78,379.75 C74.59,381.65 73.06,382.25 71.20,382.25 C69.34,382.25 67.81,381.65 67.62,379.75 C67.48,376.75 67.95,373.25 68.32,370.75 C68.60,368.55 69.34,367.55 69.71,365.75 C70.08,363.75 70.55,362.15 71.20,362.15Z" fill="url(#gm)"/>
<path d="M80.60,381.75 L80.60,389.25 M77.80,381.05 L76.60,383.55 M83.40,381.05 L84.60,383.55" stroke="#8a8a8a" stroke-width="0.8" fill="none"/>
<path d="M80.60,362.15 C81.25,362.15 81.72,363.75 82.09,365.75 C82.46,367.55 83.20,368.55 83.48,370.75 C83.85,373.25 84.32,376.75 84.18,379.75 C83.99,381.65 82.46,382.25 80.60,382.25 C78.74,382.25 77.21,381.65 77.02,379.75 C76.88,376.75 77.34,373.25 77.72,370.75 C78.00,368.55 78.74,367.55 79.11,365.75 C79.48,363.75 79.95,362.15 80.60,362.15Z" fill="url(#gm)"/>
<ellipse cx="71.20" cy="373.25" rx="2.2" ry="1.3" fill="#4a14ff" opacity="1"/>
</g>
<rect x="90.00" y="360.75" width="47.40" height="28.5" fill="url(#gbg)"/>
<g clip-path="url(#c4)">
<path d="M94.00,381.75 L94.00,389.25 M91.20,381.05 L90.00,383.55 M96.80,381.05 L98.00,383.55" stroke="#8a8a8a" stroke-width="0.8" fill="none"/>
<path d="M94.00,362.15 C94.65,362.15 95.12,363.75 95.49,365.75 C95.86,367.55 96.60,368.55 96.88,370.75 C97.25,373.25 97.72,376.75 97.58,379.75 C97.39,381.65 95.86,382.25 94.00,382.25 C92.14,382.25 90.61,381.65 90.42,379.75 C90.28,376.75 90.75,373.25 91.12,370.75 C91.40,368.55 92.14,367.55 92.51,365.75 C92.88,363.75 93.35,362.15 94.00,362.15Z" fill="url(#gm)"/>
<path d="M103.40,381.75 L103.40,389.25 M100.60,381.05 L99.40,383.55 M106.20,381.05 L107.40,383.55" stroke="#8a8a8a" stroke-width="0.8" fill="none"/>
<path d="M103.40,362.15 C104.05,362.15 104.52,363.75 104.89,365.75 C105.26,367.55 106.00,368.55 106.28,370.75 C106.66,373.25 107.12,376.75 106.98,379.75 C106.79,381.65 105.26,382.25 103.40,382.25 C101.54,382.25 100.01,381.65 99.82,379.75 C99.68,376.75 100.15,373.25 100.52,370.75 C100.80,368.55 101.54,367.55 101.91,365.75 C102.28,363.75 102.75,362.15 103.40,362.15Z" fill="url(#gm)"/>
<path d="M112.80,381.75 L112.80,389.25 M110.00,381.05 L108.80,383.55 M115.60,381.05 L116.80,383.55" stroke="#8a8a8a" stroke-width="0.8" fill="none"/>
<path d="M112.80,362.15 C113.45,362.15 113.92,363.75 114.29,365.75 C114.66,367.55 115.40,368.55 115.68,370.75 C116.05,373.25 116.52,376.75 116.38,379.75 C116.19,381.65 114.66,382.25 112.80,382.25 C110.94,382.25 109.41,381.65 109.22,379.75 C109.08,376.75 109.55,373.25 109.92,370.75 C110.20,368.55 110.94,367.55 111.31,365.75 C111.68,363.75 112.15,362.15 112.80,362.15Z" fill="url(#gm)"/>
<path d="M122.20,381.75 L122.20,389.25 M119.40,381.05 L118.20,383.55 M125.00,381.05 L126.20,383.55" stroke="#8a8a8a" stroke-width="0.8" fill="none"/>
<path d="M122.20,362.15 C122.85,362.15 123.32,363.75 123.69,365.75 C124.06,367.55 124.80,368.55 125.08,370.75 C125.45,373.25 125.92,376.75 125.78,379.75 C125.59,381.65 124.06,382.25 122.20,382.25 C120.34,382.25 118.81,381.65 118.62,379.75 C118.48,376.75 118.95,373.25 119.32,370.75 C119.60,368.55 120.34,367.55 120.71,365.75 C121.08,363.75 121.55,362.15 122.20,362.15Z" fill="url(#gm)"/>
<path d="M131.60,381.75 L131.60,389.25 M128.80,381.05 L127.60,383.55 M134.40,381.05 L135.60,383.55" stroke="#8a8a8a" stroke-width="0.8" fill="none"/>
<path d="M131.60,362.15 C132.25,362.15 132.72,363.75 133.09,365.75 C133.46,367.55 134.20,368.55 134.48,370.75 C134.85,373.25 135.32,376.75 135.18,379.75 C134.99,381.65 133.46,382.25 131.60,382.25 C129.74,382.25 128.21,381.65 128.02,379.75 C127.88,376.75 128.34,373.25 128.72,370.75 C129.00,368.55 129.74,367.55 130.11,365.75 C130.48,363.75 130.95,362.15 131.60,362.15Z" fill="url(#gm)"/>
<ellipse cx="94.00" cy="373.05" rx="3.1" ry="1.9" fill="#4a14ff" opacity="1"/>
<ellipse cx="103.40" cy="373.05" rx="3.1" ry="1.9" fill="#4a14ff" opacity="1"/>
<ellipse cx="112.80" cy="373.05" rx="3.1" ry="1.9" fill="#4a14ff" opacity="1"/>
<ellipse cx="122.20" cy="373.05" rx="3.1" ry="1.9" fill="#4a14ff" opacity="1"/>
<ellipse cx="131.60" cy="373.05" rx="3.1" ry="1.9" fill="#4a14ff" opacity="1"/>
</g>
<rect x="141.00" y="360.75" width="19.20" height="28.5" fill="url(#gbg)"/>
<g clip-path="url(#c5)">
<path d="M145.00,381.75 L145.00,389.25 M142.20,381.05 L141.00,383.55 M147.80,381.05 L149.00,383.55" stroke="#8a6aff" stroke-width="0.8" fill="none"/>
<path d="M145.00,362.35 C146.50,362.35 147.20,363.75 147.60,366.25 C148.00,368.75 149.10,370.75 149.10,374.75 C149.10,379.75 149.40,382.75 148.50,383.25 L141.50,383.25 C140.60,382.75 140.90,379.75 140.90,374.75 C140.90,370.75 142.00,368.75 142.40,366.25 C142.80,363.75 143.50,362.35 145.00,362.35Z" fill="#5a20ff"/>
<path d="M145.00,362.15 C145.74,362.15 146.26,363.75 146.68,365.75 C147.10,367.55 147.94,368.55 148.25,370.75 C148.68,373.25 149.20,376.75 149.04,379.75 C148.83,381.65 147.10,382.25 145.00,382.25 C142.90,382.25 141.17,381.65 140.96,379.75 C140.80,376.75 141.32,373.25 141.75,370.75 C142.06,368.55 142.90,367.55 143.32,365.75 C143.74,363.75 144.26,362.15 145.00,362.15Z" fill="#2a28ff"/>
<ellipse cx="145.00" cy="366.25" rx="2.0" ry="2.6" fill="#3050ff" opacity="1"/>
<ellipse cx="145.00" cy="372.05" rx="3.2" ry="2.0" fill="#2f7cff" opacity="1"/>
<ellipse cx="145.00" cy="372.05" rx="2.4" ry="1.4" fill="#35d0d0" opacity="1"/>
<ellipse cx="145.00" cy="372.05" rx="1.3" ry="0.8" fill="#90f060" opacity="1"/>
<path d="M143.00,375.75 Q145.00,377.55 147.00,375.75" stroke="#f6f0d8" stroke-width="1.2" fill="none"/>
<ellipse cx="141.60" cy="378.55" rx="1.4" ry="1.5" fill="#3090ff" opacity="1"/>
<ellipse cx="148.40" cy="378.55" rx="1.4" ry="1.5" fill="#3090ff" opacity="1"/>
<ellipse cx="141.60" cy="378.55" rx="0.8" ry="0.8" fill="#40e0c0" opacity="1"/>
<ellipse cx="148.40" cy="378.55" rx="0.8" ry="0.8" fill="#40e0c0" opacity="1"/>
<ellipse cx="141.60" cy="378.55" rx="0.5" ry="0.5" fill="#ff5a1a" opacity="1"/>
<ellipse cx="148.40" cy="378.55" rx="0.5" ry="0.5" fill="#f5e020" opacity="1"/>
<path d="M154.40,381.75 L154.40,389.25 M151.60,381.05 L150.40,383.55 M157.20,381.05 L158.40,383.55" stroke="#8a6aff" stroke-width="0.8" fill="none"/>
<path d="M154.40,362.35 C155.90,362.35 156.60,363.75 157.00,366.25 C157.40,368.75 158.50,370.75 158.50,374.75 C158.50,379.75 158.80,382.75 157.90,383.25 L150.90,383.25 C150.00,382.75 150.30,379.75 150.30,374.75 C150.30,370.75 151.40,368.75 151.80,366.25 C152.20,363.75 152.90,362.35 154.40,362.35Z" fill="#5a20ff"/>
<path d="M154.40,362.15 C155.14,362.15 155.66,363.75 156.08,365.75 C156.50,367.55 157.34,368.55 157.66,370.75 C158.08,373.25 158.60,376.75 158.44,379.75 C158.23,381.65 156.50,382.25 154.40,382.25 C152.30,382.25 150.57,381.65 150.36,379.75 C150.20,376.75 150.72,373.25 151.15,370.75 C151.46,368.55 152.30,367.55 152.72,365.75 C153.14,363.75 153.66,362.15 154.40,362.15Z" fill="#2a28ff"/>
<ellipse cx="154.40" cy="366.25" rx="2.0" ry="2.6" fill="#3050ff" opacity="1"/>
<ellipse cx="154.40" cy="372.05" rx="3.2" ry="2.0" fill="#2f7cff" opacity="1"/>
<ellipse cx="154.40" cy="372.05" rx="2.4" ry="1.4" fill="#35d0d0" opacity="1"/>
<ellipse cx="154.40" cy="372.05" rx="1.3" ry="0.8" fill="#90f060" opacity="1"/>
<path d="M152.40,375.75 Q154.40,377.55 156.40,375.75" stroke="#f6f0d8" stroke-width="1.2" fill="none"/>
<ellipse cx="151.00" cy="378.55" rx="1.4" ry="1.5" fill="#3090ff" opacity="1"/>
<ellipse cx="157.80" cy="378.55" rx="1.4" ry="1.5" fill="#3090ff" opacity="1"/>
<ellipse cx="151.00" cy="378.55" rx="0.8" ry="0.8" fill="#40e0c0" opacity="1"/>
<ellipse cx="157.80" cy="378.55" rx="0.8" ry="0.8" fill="#40e0c0" opacity="1"/>
</g>
<rect x="39.00" y="391.00" width="47.40" height="28.5" fill="url(#gbg)"/>
<g clip-path="url(#c6)">
<path d="M43.00,412.00 L43.00,419.50 M40.20,411.30 L39.00,413.80 M45.80,411.30 L47.00,413.80" stroke="#8a8a8a" stroke-width="0.8" fill="none"/>
<path d="M43.00,392.40 C43.65,392.40 44.12,394.00 44.49,396.00 C44.86,397.80 45.60,398.80 45.88,401.00 C46.26,403.50 46.72,407.00 46.58,410.00 C46.39,411.90 44.86,412.50 43.00,412.50 C41.14,412.50 39.61,411.90 39.42,410.00 C39.28,407.00 39.74,403.50 40.12,401.00 C40.40,398.80 41.14,397.80 41.51,396.00 C41.88,394.00 42.35,392.40 43.00,392.40Z" fill="url(#gm)"/>
<path d="M52.40,412.00 L52.40,419.50 M49.60,411.30 L48.40,413.80 M55.20,411.30 L56.40,413.80" stroke="#8a8a8a" stroke-width="0.8" fill="none"/>
<path d="M52.40,392.40 C53.05,392.40 53.52,394.00 53.89,396.00 C54.26,397.80 55.00,398.80 55.28,401.00 C55.66,403.50 56.12,407.00 55.98,410.00 C55.79,411.90 54.26,412.50 52.40,412.50 C50.54,412.50 49.01,411.90 48.82,410.00 C48.68,407.00 49.14,403.50 49.52,401.00 C49.80,398.80 50.54,397.80 50.91,396.00 C51.28,394.00 51.75,392.40 52.40,392.40Z" fill="url(#gm)"/>
<path d="M61.80,412.00 L61.80,419.50 M59.00,411.30 L57.80,413.80 M64.60,411.30 L65.80,413.80" stroke="#8a8a8a" stroke-width="0.8" fill="none"/>
<path d="M61.80,392.40 C62.45,392.40 62.92,394.00 63.29,396.00 C63.66,397.80 64.40,398.80 64.68,401.00 C65.05,403.50 65.52,407.00 65.38,410.00 C65.19,411.90 63.66,412.50 61.80,412.50 C59.94,412.50 58.41,411.90 58.22,410.00 C58.08,407.00 58.54,403.50 58.92,401.00 C59.20,398.80 59.94,397.80 60.31,396.00 C60.68,394.00 61.15,392.40 61.80,392.40Z" fill="url(#gm)"/>
<path d="M71.20,412.00 L71.20,419.50 M68.40,411.30 L67.20,413.80 M74.00,411.30 L75.20,413.80" stroke="#8a8a8a" stroke-width="0.8" fill="none"/>
<path d="M71.20,392.40 C71.85,392.40 72.32,394.00 72.69,396.00 C73.06,397.80 73.80,398.80 74.08,401.00 C74.45,403.50 74.92,407.00 74.78,410.00 C74.59,411.90 73.06,412.50 71.20,412.50 C69.34,412.50 67.81,411.90 67.62,410.00 C67.48,407.00 67.95,403.50 68.32,401.00 C68.60,398.80 69.34,397.80 69.71,396.00 C70.08,394.00 70.55,392.40 71.20,392.40Z" fill="url(#gm)"/>
<path d="M80.60,412.00 L80.60,419.50 M77.80,411.30 L76.60,413.80 M83.40,411.30 L84.60,413.80" stroke="#8a8a8a" stroke-width="0.8" fill="none"/>
<path d="M80.60,392.40 C81.25,392.40 81.72,394.00 82.09,396.00 C82.46,397.80 83.20,398.80 83.48,401.00 C83.85,403.50 84.32,407.00 84.18,410.00 C83.99,411.90 82.46,412.50 80.60,412.50 C78.74,412.50 77.21,411.90 77.02,410.00 C76.88,407.00 77.34,403.50 77.72,401.00 C78.00,398.80 78.74,397.80 79.11,396.00 C79.48,394.00 79.95,392.40 80.60,392.40Z" fill="url(#gm)"/>
<ellipse cx="52.40" cy="392.80" rx="1.0" ry="1.0" fill="#4a14ff" opacity="1"/>
<ellipse cx="81.60" cy="409.00" rx="0.6" ry="0.6" fill="#7230ff" opacity="1"/>
</g>
<rect x="90.00" y="391.00" width="47.40" height="28.5" fill="url(#gbg)"/>
<g clip-path="url(#c7)">
<path d="M94.00,412.00 L94.00,419.50 M91.20,411.30 L90.00,413.80 M96.80,411.30 L98.00,413.80" stroke="#8a8a8a" stroke-width="0.8" fill="none"/>
<path d="M94.00,392.40 C94.65,392.40 95.12,394.00 95.49,396.00 C95.86,397.80 96.60,398.80 96.88,401.00 C97.25,403.50 97.72,407.00 97.58,410.00 C97.39,411.90 95.86,412.50 94.00,412.50 C92.14,412.50 90.61,411.90 90.42,410.00 C90.28,407.00 90.75,403.50 91.12,401.00 C91.40,398.80 92.14,397.80 92.51,396.00 C92.88,394.00 93.35,392.40 94.00,392.40Z" fill="url(#gm)"/>
<path d="M103.40,412.00 L103.40,419.50 M100.60,411.30 L99.40,413.80 M106.20,411.30 L107.40,413.80" stroke="#8a8a8a" stroke-width="0.8" fill="none"/>
<path d="M103.40,392.40 C104.05,392.40 104.52,394.00 104.89,396.00 C105.26,397.80 106.00,398.80 106.28,401.00 C106.66,403.50 107.12,407.00 106.98,410.00 C106.79,411.90 105.26,412.50 103.40,412.50 C101.54,412.50 100.01,411.90 99.82,410.00 C99.68,407.00 100.15,403.50 100.52,401.00 C100.80,398.80 101.54,397.80 101.91,396.00 C102.28,394.00 102.75,392.40 103.40,392.40Z" fill="url(#gm)"/>
<path d="M112.80,412.00 L112.80,419.50 M110.00,411.30 L108.80,413.80 M115.60,411.30 L116.80,413.80" stroke="#8a8a8a" stroke-width="0.8" fill="none"/>
<path d="M112.80,392.40 C113.45,392.40 113.92,394.00 114.29,396.00 C114.66,397.80 115.40,398.80 115.68,401.00 C116.05,403.50 116.52,407.00 116.38,410.00 C116.19,411.90 114.66,412.50 112.80,412.50 C110.94,412.50 109.41,411.90 109.22,410.00 C109.08,407.00 109.55,403.50 109.92,401.00 C110.20,398.80 110.94,397.80 111.31,396.00 C111.68,394.00 112.15,392.40 112.80,392.40Z" fill="url(#gm)"/>
<path d="M122.20,412.00 L122.20,419.50 M119.40,411.30 L118.20,413.80 M125.00,411.30 L126.20,413.80" stroke="#8a8a8a" stroke-width="0.8" fill="none"/>
<path d="M122.20,392.40 C122.85,392.40 123.32,394.00 123.69,396.00 C124.06,397.80 124.80,398.80 125.08,401.00 C125.45,403.50 125.92,407.00 125.78,410.00 C125.59,411.90 124.06,412.50 122.20,412.50 C120.34,412.50 118.81,411.90 118.62,410.00 C118.48,407.00 118.95,403.50 119.32,401.00 C119.60,398.80 120.34,397.80 120.71,396.00 C121.08,394.00 121.55,392.40 122.20,392.40Z" fill="url(#gm)"/>
<path d="M131.60,412.00 L131.60,419.50 M128.80,411.30 L127.60,413.80 M134.40,411.30 L135.60,413.80" stroke="#8a8a8a" stroke-width="0.8" fill="none"/>
<path d="M131.60,392.40 C132.25,392.40 132.72,394.00 133.09,396.00 C133.46,397.80 134.20,398.80 134.48,401.00 C134.85,403.50 135.32,407.00 135.18,410.00 C134.99,411.90 133.46,412.50 131.60,412.50 C129.74,412.50 128.21,411.90 128.02,410.00 C127.88,407.00 128.34,403.50 128.72,401.00 C129.00,398.80 129.74,397.80 130.11,396.00 C130.48,394.00 130.95,392.40 131.60,392.40Z" fill="url(#gm)"/>
</g>
<rect x="141.00" y="391.00" width="19.20" height="28.5" fill="url(#bbg)"/>
<g clip-path="url(#c8)">
<path d="M145.00,412.00 L145.00,419.50 M142.50,413.00 L141.80,417.00 M147.50,413.00 L148.20,417.00" stroke="#38d8d8" stroke-width="0.9" fill="none"/>
<path d="M145.00,392.60 C146.65,392.60 147.42,394.00 147.86,396.50 C148.30,399.00 149.51,401.00 149.51,405.00 C149.51,410.00 149.84,413.70 148.85,414.20 L141.15,414.20 C140.16,413.70 140.49,410.00 140.49,405.00 C140.49,401.00 141.70,399.00 142.14,396.50 C142.58,394.00 143.35,392.60 145.00,392.60Z" fill="#ff1a0a" stroke="#3ce0a8" stroke-width="0.7"/>
<path d="M154.40,412.00 L154.40,419.50 M151.90,413.00 L151.20,417.00 M156.90,413.00 L157.60,417.00" stroke="#38d8d8" stroke-width="0.9" fill="none"/>
<path d="M154.40,392.60 C156.05,392.60 156.82,394.00 157.26,396.50 C157.70,399.00 158.91,401.00 158.91,405.00 C158.91,410.00 159.24,413.70 158.25,414.20 L150.55,414.20 C149.56,413.70 149.89,410.00 149.89,405.00 C149.89,401.00 151.10,399.00 151.54,396.50 C151.98,394.00 152.75,392.60 154.40,392.60Z" fill="#ff1a0a" stroke="#3ce0a8" stroke-width="0.7"/>
</g>
<rect x="39.00" y="421.25" width="47.40" height="28.5" fill="url(#gbg)"/>
<g clip-path="url(#c9)">
<path d="M43.00,442.25 L43.00,449.75 M40.20,441.55 L39.00,444.05 M45.80,441.55 L47.00,444.05" stroke="#8a8a8a" stroke-width="0.8" fill="none"/>
<path d="M43.00,422.65 C43.65,422.65 44.12,424.25 44.49,426.25 C44.86,428.05 45.60,429.05 45.88,431.25 C46.26,433.75 46.72,437.25 46.58,440.25 C46.39,442.15 44.86,442.75 43.00,442.75 C41.14,442.75 39.61,442.15 39.42,440.25 C39.28,437.25 39.74,433.75 40.12,431.25 C40.40,429.05 41.14,428.05 41.51,426.25 C41.88,424.25 42.35,422.65 43.00,422.65Z" fill="url(#gm)"/>
<path d="M52.40,442.25 L52.40,449.75 M49.60,441.55 L48.40,444.05 M55.20,441.55 L56.40,444.05" stroke="#8a8a8a" stroke-width="0.8" fill="none"/>
<path d="M52.40,422.65 C53.05,422.65 53.52,424.25 53.89,426.25 C54.26,428.05 55.00,429.05 55.28,431.25 C55.66,433.75 56.12,437.25 55.98,440.25 C55.79,442.15 54.26,442.75 52.40,442.75 C50.54,442.75 49.01,442.15 48.82,440.25 C48.68,437.25 49.14,433.75 49.52,431.25 C49.80,429.05 50.54,428.05 50.91,426.25 C51.28,424.25 51.75,422.65 52.40,422.65Z" fill="url(#gm)"/>
<path d="M61.80,442.25 L61.80,449.75 M59.00,441.55 L57.80,444.05 M64.60,441.55 L65.80,444.05" stroke="#8a8a8a" stroke-width="0.8" fill="none"/>
<path d="M61.80,422.65 C62.45,422.65 62.92,424.25 63.29,426.25 C63.66,428.05 64.40,429.05 64.68,431.25 C65.05,433.75 65.52,437.25 65.38,440.25 C65.19,442.15 63.66,442.75 61.80,442.75 C59.94,442.75 58.41,442.15 58.22,440.25 C58.08,437.25 58.54,433.75 58.92,431.25 C59.20,429.05 59.94,428.05 60.31,426.25 C60.68,424.25 61.15,422.65 61.80,422.65Z" fill="url(#gm)"/>
<path d="M71.20,442.25 L71.20,449.75 M68.40,441.55 L67.20,444.05 M74.00,441.55 L75.20,444.05" stroke="#8a8a8a" stroke-width="0.8" fill="none"/>
<path d="M71.20,422.65 C71.85,422.65 72.32,424.25 72.69,426.25 C73.06,428.05 73.80,429.05 74.08,431.25 C74.45,433.75 74.92,437.25 74.78,440.25 C74.59,442.15 73.06,442.75 71.20,442.75 C69.34,442.75 67.81,442.15 67.62,440.25 C67.48,437.25 67.95,433.75 68.32,431.25 C68.60,429.05 69.34,428.05 69.71,426.25 C70.08,424.25 70.55,422.65 71.20,422.65Z" fill="url(#gm)"/>
<path d="M80.60,442.25 L80.60,449.75 M77.80,441.55 L76.60,444.05 M83.40,441.55 L84.60,444.05" stroke="#8a8a8a" stroke-width="0.8" fill="none"/>
<path d="M80.60,422.65 C81.25,422.65 81.72,424.25 82.09,426.25 C82.46,428.05 83.20,429.05 83.48,431.25 C83.85,433.75 84.32,437.25 84.18,440.25 C83.99,442.15 82.46,442.75 80.60,442.75 C78.74,442.75 77.21,442.15 77.02,440.25 C76.88,437.25 77.34,433.75 77.72,431.25 C78.00,429.05 78.74,428.05 79.11,426.25 C79.48,424.25 79.95,422.65 80.60,422.65Z" fill="url(#gm)"/>
<ellipse cx="52.40" cy="423.45" rx="1.2" ry="1.2" fill="#3a30ff" opacity="1"/>
<ellipse cx="81.40" cy="439.75" rx="2.1" ry="2.0" fill="#4a14ff" opacity="1"/>
</g>
<rect x="90.00" y="421.25" width="47.40" height="28.5" fill="url(#gbg)"/>
<g clip-path="url(#c10)">
<path d="M94.00,442.25 L94.00,449.75 M91.20,441.55 L90.00,444.05 M96.80,441.55 L98.00,444.05" stroke="#8a8a8a" stroke-width="0.8" fill="none"/>
<path d="M94.00,422.65 C94.65,422.65 95.12,424.25 95.49,426.25 C95.86,428.05 96.60,429.05 96.88,431.25 C97.25,433.75 97.72,437.25 97.58,440.25 C97.39,442.15 95.86,442.75 94.00,442.75 C92.14,442.75 90.61,442.15 90.42,440.25 C90.28,437.25 90.75,433.75 91.12,431.25 C91.40,429.05 92.14,428.05 92.51,426.25 C92.88,424.25 93.35,422.65 94.00,422.65Z" fill="url(#gm)"/>
<path d="M103.40,442.25 L103.40,449.75 M100.60,441.55 L99.40,444.05 M106.20,441.55 L107.40,444.05" stroke="#8a8a8a" stroke-width="0.8" fill="none"/>
<path d="M103.40,422.65 C104.05,422.65 104.52,424.25 104.89,426.25 C105.26,428.05 106.00,429.05 106.28,431.25 C106.66,433.75 107.12,437.25 106.98,440.25 C106.79,442.15 105.26,442.75 103.40,442.75 C101.54,442.75 100.01,442.15 99.82,440.25 C99.68,437.25 100.15,433.75 100.52,431.25 C100.80,429.05 101.54,428.05 101.91,426.25 C102.28,424.25 102.75,422.65 103.40,422.65Z" fill="url(#gm)"/>
<path d="M112.80,442.25 L112.80,449.75 M110.00,441.55 L108.80,444.05 M115.60,441.55 L116.80,444.05" stroke="#8a8a8a" stroke-width="0.8" fill="none"/>
<path d="M112.80,422.65 C113.45,422.65 113.92,424.25 114.29,426.25 C114.66,428.05 115.40,429.05 115.68,431.25 C116.05,433.75 116.52,437.25 116.38,440.25 C116.19,442.15 114.66,442.75 112.80,442.75 C110.94,442.75 109.41,442.15 109.22,440.25 C109.08,437.25 109.55,433.75 109.92,431.25 C110.20,429.05 110.94,428.05 111.31,426.25 C111.68,424.25 112.15,422.65 112.80,422.65Z" fill="url(#gm)"/>
<path d="M122.20,442.25 L122.20,449.75 M119.40,441.55 L118.20,444.05 M125.00,441.55 L126.20,444.05" stroke="#8a8a8a" stroke-width="0.8" fill="none"/>
<path d="M122.20,422.65 C122.85,422.65 123.32,424.25 123.69,426.25 C124.06,428.05 124.80,429.05 125.08,431.25 C125.45,433.75 125.92,437.25 125.78,440.25 C125.59,442.15 124.06,442.75 122.20,442.75 C120.34,442.75 118.81,442.15 118.62,440.25 C118.48,437.25 118.95,433.75 119.32,431.25 C119.60,429.05 120.34,428.05 120.71,426.25 C121.08,424.25 121.55,422.65 122.20,422.65Z" fill="url(#gm)"/>
<path d="M131.60,442.25 L131.60,449.75 M128.80,441.55 L127.60,444.05 M134.40,441.55 L135.60,444.05" stroke="#8a8a8a" stroke-width="0.8" fill="none"/>
<path d="M131.60,422.65 C132.25,422.65 132.72,424.25 133.09,426.25 C133.46,428.05 134.20,429.05 134.48,431.25 C134.85,433.75 135.32,437.25 135.18,440.25 C134.99,442.15 133.46,442.75 131.60,442.75 C129.74,442.75 128.21,442.15 128.02,440.25 C127.88,437.25 128.34,433.75 128.72,431.25 C129.00,429.05 129.74,428.05 130.11,426.25 C130.48,424.25 130.95,422.65 131.60,422.65Z" fill="url(#gm)"/>
<ellipse cx="133.10" cy="428.75" rx="1.2" ry="1.4" fill="#4a14ff" opacity="1"/>
</g>
<rect x="39.00" y="451.50" width="47.40" height="28.5" fill="url(#gbg)"/>
<g clip-path="url(#c11)">
<path d="M43.00,472.50 L43.00,480.00 M40.20,471.80 L39.00,474.30 M45.80,471.80 L47.00,474.30" stroke="#8a8a8a" stroke-width="0.8" fill="none"/>
<path d="M43.00,452.90 C43.65,452.90 44.12,454.50 44.49,456.50 C44.86,458.30 45.60,459.30 45.88,461.50 C46.26,464.00 46.72,467.50 46.58,470.50 C46.39,472.40 44.86,473.00 43.00,473.00 C41.14,473.00 39.61,472.40 39.42,470.50 C39.28,467.50 39.74,464.00 40.12,461.50 C40.40,459.30 41.14,458.30 41.51,456.50 C41.88,454.50 42.35,452.90 43.00,452.90Z" fill="url(#gm)"/>
<path d="M52.40,472.50 L52.40,480.00 M49.60,471.80 L48.40,474.30 M55.20,471.80 L56.40,474.30" stroke="#8a8a8a" stroke-width="0.8" fill="none"/>
<path d="M52.40,452.90 C53.05,452.90 53.52,454.50 53.89,456.50 C54.26,458.30 55.00,459.30 55.28,461.50 C55.66,464.00 56.12,467.50 55.98,470.50 C55.79,472.40 54.26,473.00 52.40,473.00 C50.54,473.00 49.01,472.40 48.82,470.50 C48.68,467.50 49.14,464.00 49.52,461.50 C49.80,459.30 50.54,458.30 50.91,456.50 C51.28,454.50 51.75,452.90 52.40,452.90Z" fill="url(#gm)"/>
<path d="M61.80,472.50 L61.80,480.00 M59.00,471.80 L57.80,474.30 M64.60,471.80 L65.80,474.30" stroke="#8a8a8a" stroke-width="0.8" fill="none"/>
<path d="M61.80,452.90 C62.45,452.90 62.92,454.50 63.29,456.50 C63.66,458.30 64.40,459.30 64.68,461.50 C65.05,464.00 65.52,467.50 65.38,470.50 C65.19,472.40 63.66,473.00 61.80,473.00 C59.94,473.00 58.41,472.40 58.22,470.50 C58.08,467.50 58.54,464.00 58.92,461.50 C59.20,459.30 59.94,458.30 60.31,456.50 C60.68,454.50 61.15,452.90 61.80,452.90Z" fill="url(#gm)"/>
<path d="M71.20,472.50 L71.20,480.00 M68.40,471.80 L67.20,474.30 M74.00,471.80 L75.20,474.30" stroke="#8a8a8a" stroke-width="0.8" fill="none"/>
<path d="M71.20,452.90 C71.85,452.90 72.32,454.50 72.69,456.50 C73.06,458.30 73.80,459.30 74.08,461.50 C74.45,464.00 74.92,467.50 74.78,470.50 C74.59,472.40 73.06,473.00 71.20,473.00 C69.34,473.00 67.81,472.40 67.62,470.50 C67.48,467.50 67.95,464.00 68.32,461.50 C68.60,459.30 69.34,458.30 69.71,456.50 C70.08,454.50 70.55,452.90 71.20,452.90Z" fill="url(#gm)"/>
<path d="M80.60,472.50 L80.60,480.00 M77.80,471.80 L76.60,474.30 M83.40,471.80 L84.60,474.30" stroke="#8a8a8a" stroke-width="0.8" fill="none"/>
<path d="M80.60,452.90 C81.25,452.90 81.72,454.50 82.09,456.50 C82.46,458.30 83.20,459.30 83.48,461.50 C83.85,464.00 84.32,467.50 84.18,470.50 C83.99,472.40 82.46,473.00 80.60,473.00 C78.74,473.00 77.21,472.40 77.02,470.50 C76.88,467.50 77.34,464.00 77.72,461.50 C78.00,459.30 78.74,458.30 79.11,456.50 C79.48,454.50 79.95,452.90 80.60,452.90Z" fill="url(#gm)"/>
<ellipse cx="52.40" cy="453.40" rx="1.1" ry="1.0" fill="#4a14ff" opacity="1"/>
<ellipse cx="52.90" cy="469.00" rx="0.6" ry="0.6" fill="#9a6aff" opacity="1"/>
</g>
<rect x="90.00" y="451.50" width="47.40" height="28.5" fill="url(#gbg)"/>
<g clip-path="url(#c12)">
<path d="M94.00,472.50 L94.00,480.00 M91.20,471.80 L90.00,474.30 M96.80,471.80 L98.00,474.30" stroke="#8a8a8a" stroke-width="0.8" fill="none"/>
<path d="M94.00,452.90 C94.65,452.90 95.12,454.50 95.49,456.50 C95.86,458.30 96.60,459.30 96.88,461.50 C97.25,464.00 97.72,467.50 97.58,470.50 C97.39,472.40 95.86,473.00 94.00,473.00 C92.14,473.00 90.61,472.40 90.42,470.50 C90.28,467.50 90.75,464.00 91.12,461.50 C91.40,459.30 92.14,458.30 92.51,456.50 C92.88,454.50 93.35,452.90 94.00,452.90Z" fill="url(#gm)"/>
<path d="M103.40,472.50 L103.40,480.00 M100.60,471.80 L99.40,474.30 M106.20,471.80 L107.40,474.30" stroke="#8a8a8a" stroke-width="0.8" fill="none"/>
<path d="M103.40,452.90 C104.05,452.90 104.52,454.50 104.89,456.50 C105.26,458.30 106.00,459.30 106.28,461.50 C106.66,464.00 107.12,467.50 106.98,470.50 C106.79,472.40 105.26,473.00 103.40,473.00 C101.54,473.00 100.01,472.40 99.82,470.50 C99.68,467.50 100.15,464.00 100.52,461.50 C100.80,459.30 101.54,458.30 101.91,456.50 C102.28,454.50 102.75,452.90 103.40,452.90Z" fill="url(#gm)"/>
<path d="M112.80,472.50 L112.80,480.00 M110.00,471.80 L108.80,474.30 M115.60,471.80 L116.80,474.30" stroke="#8a8a8a" stroke-width="0.8" fill="none"/>
<path d="M112.80,452.90 C113.45,452.90 113.92,454.50 114.29,456.50 C114.66,458.30 115.40,459.30 115.68,461.50 C116.05,464.00 116.52,467.50 116.38,470.50 C116.19,472.40 114.66,473.00 112.80,473.00 C110.94,473.00 109.41,472.40 109.22,470.50 C109.08,467.50 109.55,464.00 109.92,461.50 C110.20,459.30 110.94,458.30 111.31,456.50 C111.68,454.50 112.15,452.90 112.80,452.90Z" fill="url(#gm)"/>
<path d="M122.20,472.50 L122.20,480.00 M119.40,471.80 L118.20,474.30 M125.00,471.80 L126.20,474.30" stroke="#8a8a8a" stroke-width="0.8" fill="none"/>
<path d="M122.20,452.90 C122.85,452.90 123.32,454.50 123.69,456.50 C124.06,458.30 124.80,459.30 125.08,461.50 C125.45,464.00 125.92,467.50 125.78,470.50 C125.59,472.40 124.06,473.00 122.20,473.00 C120.34,473.00 118.81,472.40 118.62,470.50 C118.48,467.50 118.95,464.00 119.32,461.50 C119.60,459.30 120.34,458.30 120.71,456.50 C121.08,454.50 121.55,452.90 122.20,452.90Z" fill="url(#gm)"/>
<path d="M131.60,472.50 L131.60,480.00 M128.80,471.80 L127.60,474.30 M134.40,471.80 L135.60,474.30" stroke="#8a8a8a" stroke-width="0.8" fill="none"/>
<path d="M131.60,452.90 C132.25,452.90 132.72,454.50 133.09,456.50 C133.46,458.30 134.20,459.30 134.48,461.50 C134.85,464.00 135.32,467.50 135.18,470.50 C134.99,472.40 133.46,473.00 131.60,473.00 C129.74,473.00 128.21,472.40 128.02,470.50 C127.88,467.50 128.34,464.00 128.72,461.50 C129.00,459.30 129.74,458.30 130.11,456.50 C130.48,454.50 130.95,452.90 131.60,452.90Z" fill="url(#gm)"/>
</g>
<rect x="39.00" y="481.75" width="47.40" height="28.5" fill="url(#gbg)"/>
<g clip-path="url(#c13)">
<path d="M43.00,502.75 L43.00,510.25 M40.20,502.05 L39.00,504.55 M45.80,502.05 L47.00,504.55" stroke="#8a8a8a" stroke-width="0.8" fill="none"/>
<path d="M43.00,483.15 C43.65,483.15 44.12,484.75 44.49,486.75 C44.86,488.55 45.60,489.55 45.88,491.75 C46.26,494.25 46.72,497.75 46.58,500.75 C46.39,502.65 44.86,503.25 43.00,503.25 C41.14,503.25 39.61,502.65 39.42,500.75 C39.28,497.75 39.74,494.25 40.12,491.75 C40.40,489.55 41.14,488.55 41.51,486.75 C41.88,484.75 42.35,483.15 43.00,483.15Z" fill="url(#gm)"/>
<path d="M52.40,502.75 L52.40,510.25 M49.60,502.05 L48.40,504.55 M55.20,502.05 L56.40,504.55" stroke="#8a8a8a" stroke-width="0.8" fill="none"/>
<path d="M52.40,483.15 C53.05,483.15 53.52,484.75 53.89,486.75 C54.26,488.55 55.00,489.55 55.28,491.75 C55.66,494.25 56.12,497.75 55.98,500.75 C55.79,502.65 54.26,503.25 52.40,503.25 C50.54,503.25 49.01,502.65 48.82,500.75 C48.68,497.75 49.14,494.25 49.52,491.75 C49.80,489.55 50.54,488.55 50.91,486.75 C51.28,484.75 51.75,483.15 52.40,483.15Z" fill="url(#gm)"/>
<path d="M61.80,502.75 L61.80,510.25 M59.00,502.05 L57.80,504.55 M64.60,502.05 L65.80,504.55" stroke="#8a8a8a" stroke-width="0.8" fill="none"/>
<path d="M61.80,483.15 C62.45,483.15 62.92,484.75 63.29,486.75 C63.66,488.55 64.40,489.55 64.68,491.75 C65.05,494.25 65.52,497.75 65.38,500.75 C65.19,502.65 63.66,503.25 61.80,503.25 C59.94,503.25 58.41,502.65 58.22,500.75 C58.08,497.75 58.54,494.25 58.92,491.75 C59.20,489.55 59.94,488.55 60.31,486.75 C60.68,484.75 61.15,483.15 61.80,483.15Z" fill="url(#gm)"/>
<path d="M71.20,502.75 L71.20,510.25 M68.40,502.05 L67.20,504.55 M74.00,502.05 L75.20,504.55" stroke="#8a8a8a" stroke-width="0.8" fill="none"/>
<path d="M71.20,483.15 C71.85,483.15 72.32,484.75 72.69,486.75 C73.06,488.55 73.80,489.55 74.08,491.75 C74.45,494.25 74.92,497.75 74.78,500.75 C74.59,502.65 73.06,503.25 71.20,503.25 C69.34,503.25 67.81,502.65 67.62,500.75 C67.48,497.75 67.95,494.25 68.32,491.75 C68.60,489.55 69.34,488.55 69.71,486.75 C70.08,484.75 70.55,483.15 71.20,483.15Z" fill="url(#gm)"/>
<path d="M80.60,502.75 L80.60,510.25 M77.80,502.05 L76.60,504.55 M83.40,502.05 L84.60,504.55" stroke="#8a8a8a" stroke-width="0.8" fill="none"/>
<path d="M80.60,483.15 C81.25,483.15 81.72,484.75 82.09,486.75 C82.46,488.55 83.20,489.55 83.48,491.75 C83.85,494.25 84.32,497.75 84.18,500.75 C83.99,502.65 82.46,503.25 80.60,503.25 C78.74,503.25 77.21,502.65 77.02,500.75 C76.88,497.75 77.34,494.25 77.72,491.75 C78.00,489.55 78.74,488.55 79.11,486.75 C79.48,484.75 79.95,483.15 80.60,483.15Z" fill="url(#gm)"/>
<ellipse cx="52.40" cy="483.55" rx="1.2" ry="1.2" fill="#4a14ff" opacity="1"/>
<ellipse cx="52.40" cy="501.75" rx="2.4" ry="2.3" fill="#3a10ff" opacity="1"/>
<ellipse cx="52.40" cy="501.75" rx="1.3" ry="1.2" fill="#3c8cff" opacity="1"/>
<ellipse cx="52.40" cy="501.75" rx="0.6" ry="0.6" fill="#e0e8ff" opacity="1"/>
</g>
<rect x="90.00" y="481.75" width="47.40" height="28.5" fill="url(#gbg)"/>
<g clip-path="url(#c14)">
<path d="M94.00,502.75 L94.00,510.25 M91.20,502.05 L90.00,504.55 M96.80,502.05 L98.00,504.55" stroke="#8a8a8a" stroke-width="0.8" fill="none"/>
<path d="M94.00,483.15 C94.65,483.15 95.12,484.75 95.49,486.75 C95.86,488.55 96.60,489.55 96.88,491.75 C97.25,494.25 97.72,497.75 97.58,500.75 C97.39,502.65 95.86,503.25 94.00,503.25 C92.14,503.25 90.61,502.65 90.42,500.75 C90.28,497.75 90.75,494.25 91.12,491.75 C91.40,489.55 92.14,488.55 92.51,486.75 C92.88,484.75 93.35,483.15 94.00,483.15Z" fill="url(#gm)"/>
<path d="M103.40,502.75 L103.40,510.25 M100.60,502.05 L99.40,504.55 M106.20,502.05 L107.40,504.55" stroke="#8a8a8a" stroke-width="0.8" fill="none"/>
<path d="M103.40,483.15 C104.05,483.15 104.52,484.75 104.89,486.75 C105.26,488.55 106.00,489.55 106.28,491.75 C106.66,494.25 107.12,497.75 106.98,500.75 C106.79,502.65 105.26,503.25 103.40,503.25 C101.54,503.25 100.01,502.65 99.82,500.75 C99.68,497.75 100.15,494.25 100.52,491.75 C100.80,489.55 101.54,488.55 101.91,486.75 C102.28,484.75 102.75,483.15 103.40,483.15Z" fill="url(#gm)"/>
<path d="M112.80,502.75 L112.80,510.25 M110.00,502.05 L108.80,504.55 M115.60,502.05 L116.80,504.55" stroke="#8a8a8a" stroke-width="0.8" fill="none"/>
<path d="M112.80,483.15 C113.45,483.15 113.92,484.75 114.29,486.75 C114.66,488.55 115.40,489.55 115.68,491.75 C116.05,494.25 116.52,497.75 116.38,500.75 C116.19,502.65 114.66,503.25 112.80,503.25 C110.94,503.25 109.41,502.65 109.22,500.75 C109.08,497.75 109.55,494.25 109.92,491.75 C110.20,489.55 110.94,488.55 111.31,486.75 C111.68,484.75 112.15,483.15 112.80,483.15Z" fill="url(#gm)"/>
<path d="M122.20,502.75 L122.20,510.25 M119.40,502.05 L118.20,504.55 M125.00,502.05 L126.20,504.55" stroke="#8a8a8a" stroke-width="0.8" fill="none"/>
<path d="M122.20,483.15 C122.85,483.15 123.32,484.75 123.69,486.75 C124.06,488.55 124.80,489.55 125.08,491.75 C125.45,494.25 125.92,497.75 125.78,500.75 C125.59,502.65 124.06,503.25 122.20,503.25 C120.34,503.25 118.81,502.65 118.62,500.75 C118.48,497.75 118.95,494.25 119.32,491.75 C119.60,489.55 120.34,488.55 120.71,486.75 C121.08,484.75 121.55,483.15 122.20,483.15Z" fill="url(#gm)"/>
<path d="M131.60,502.75 L131.60,510.25 M128.80,502.05 L127.60,504.55 M134.40,502.05 L135.60,504.55" stroke="#8a8a8a" stroke-width="0.8" fill="none"/>
<path d="M131.60,483.15 C132.25,483.15 132.72,484.75 133.09,486.75 C133.46,488.55 134.20,489.55 134.48,491.75 C134.85,494.25 135.32,497.75 135.18,500.75 C134.99,502.65 133.46,503.25 131.60,503.25 C129.74,503.25 128.21,502.65 128.02,500.75 C127.88,497.75 128.34,494.25 128.72,491.75 C129.00,489.55 129.74,488.55 130.11,486.75 C130.48,484.75 130.95,483.15 131.60,483.15Z" fill="url(#gm)"/>
</g>
<rect x="48.50" y="512.00" width="38.20" height="28.5" fill="url(#gbg)"/>
<g clip-path="url(#c15)">
<path d="M52.50,533.00 L52.50,540.50 M49.70,532.30 L48.50,534.80 M55.30,532.30 L56.50,534.80" stroke="#8a8a8a" stroke-width="0.8" fill="none"/>
<path d="M52.50,513.40 C53.15,513.40 53.62,515.00 53.99,517.00 C54.36,518.80 55.10,519.80 55.38,522.00 C55.76,524.50 56.22,528.00 56.08,531.00 C55.89,532.90 54.36,533.50 52.50,533.50 C50.64,533.50 49.11,532.90 48.92,531.00 C48.78,528.00 49.24,524.50 49.62,522.00 C49.90,519.80 50.64,518.80 51.01,517.00 C51.38,515.00 51.85,513.40 52.50,513.40Z" fill="url(#gm)"/>
<path d="M61.90,533.00 L61.90,540.50 M59.10,532.30 L57.90,534.80 M64.70,532.30 L65.90,534.80" stroke="#8a8a8a" stroke-width="0.8" fill="none"/>
<path d="M61.90,513.40 C62.55,513.40 63.02,515.00 63.39,517.00 C63.76,518.80 64.50,519.80 64.78,522.00 C65.16,524.50 65.62,528.00 65.48,531.00 C65.29,532.90 63.76,533.50 61.90,533.50 C60.04,533.50 58.51,532.90 58.32,531.00 C58.18,528.00 58.64,524.50 59.02,522.00 C59.30,519.80 60.04,518.80 60.41,517.00 C60.78,515.00 61.25,513.40 61.90,513.40Z" fill="url(#gm)"/>
<path d="M71.30,533.00 L71.30,540.50 M68.50,532.30 L67.30,534.80 M74.10,532.30 L75.30,534.80" stroke="#8a8a8a" stroke-width="0.8" fill="none"/>
<path d="M71.30,513.40 C71.95,513.40 72.42,515.00 72.79,517.00 C73.16,518.80 73.90,519.80 74.18,522.00 C74.55,524.50 75.02,528.00 74.88,531.00 C74.69,532.90 73.16,533.50 71.30,533.50 C69.44,533.50 67.91,532.90 67.72,531.00 C67.58,528.00 68.05,524.50 68.42,522.00 C68.70,519.80 69.44,518.80 69.81,517.00 C70.18,515.00 70.65,513.40 71.30,513.40Z" fill="url(#gm)"/>
<path d="M80.70,533.00 L80.70,540.50 M77.90,532.30 L76.70,534.80 M83.50,532.30 L84.70,534.80" stroke="#8a8a8a" stroke-width="0.8" fill="none"/>
<path d="M80.70,513.40 C81.35,513.40 81.82,515.00 82.19,517.00 C82.56,518.80 83.30,519.80 83.58,522.00 C83.95,524.50 84.42,528.00 84.28,531.00 C84.09,532.90 82.56,533.50 80.70,533.50 C78.84,533.50 77.31,532.90 77.12,531.00 C76.98,528.00 77.45,524.50 77.82,522.00 C78.10,519.80 78.84,518.80 79.21,517.00 C79.58,515.00 80.05,513.40 80.70,513.40Z" fill="url(#gm)"/>
<ellipse cx="52.50" cy="513.80" rx="0.9" ry="0.9" fill="#4a14ff" opacity="1"/>
<ellipse cx="52.50" cy="529.80" rx="1.3" ry="1.2" fill="#4a14ff" opacity="1"/>
</g>
<rect x="90.00" y="512.00" width="47.40" height="28.5" fill="url(#gbg)"/>
<g clip-path="url(#c16)">
<path d="M94.00,533.00 L94.00,540.50 M91.20,532.30 L90.00,534.80 M96.80,532.30 L98.00,534.80" stroke="#8a8a8a" stroke-width="0.8" fill="none"/>
<path d="M94.00,513.40 C94.65,513.40 95.12,515.00 95.49,517.00 C95.86,518.80 96.60,519.80 96.88,522.00 C97.25,524.50 97.72,528.00 97.58,531.00 C97.39,532.90 95.86,533.50 94.00,533.50 C92.14,533.50 90.61,532.90 90.42,531.00 C90.28,528.00 90.75,524.50 91.12,522.00 C91.40,519.80 92.14,518.80 92.51,517.00 C92.88,515.00 93.35,513.40 94.00,513.40Z" fill="url(#gm)"/>
<path d="M103.40,533.00 L103.40,540.50 M100.60,532.30 L99.40,534.80 M106.20,532.30 L107.40,534.80" stroke="#8a8a8a" stroke-width="0.8" fill="none"/>
<path d="M103.40,513.40 C104.05,513.40 104.52,515.00 104.89,517.00 C105.26,518.80 106.00,519.80 106.28,522.00 C106.66,524.50 107.12,528.00 106.98,531.00 C106.79,532.90 105.26,533.50 103.40,533.50 C101.54,533.50 100.01,532.90 99.82,531.00 C99.68,528.00 100.15,524.50 100.52,522.00 C100.80,519.80 101.54,518.80 101.91,517.00 C102.28,515.00 102.75,513.40 103.40,513.40Z" fill="url(#gm)"/>
<path d="M112.80,533.00 L112.80,540.50 M110.00,532.30 L108.80,534.80 M115.60,532.30 L116.80,534.80" stroke="#8a8a8a" stroke-width="0.8" fill="none"/>
<path d="M112.80,513.40 C113.45,513.40 113.92,515.00 114.29,517.00 C114.66,518.80 115.40,519.80 115.68,522.00 C116.05,524.50 116.52,528.00 116.38,531.00 C116.19,532.90 114.66,533.50 112.80,533.50 C110.94,533.50 109.41,532.90 109.22,531.00 C109.08,528.00 109.55,524.50 109.92,522.00 C110.20,519.80 110.94,518.80 111.31,517.00 C111.68,515.00 112.15,513.40 112.80,513.40Z" fill="url(#gm)"/>
<path d="M122.20,533.00 L122.20,540.50 M119.40,532.30 L118.20,534.80 M125.00,532.30 L126.20,534.80" stroke="#8a8a8a" stroke-width="0.8" fill="none"/>
<path d="M122.20,513.40 C122.85,513.40 123.32,515.00 123.69,517.00 C124.06,518.80 124.80,519.80 125.08,522.00 C125.45,524.50 125.92,528.00 125.78,531.00 C125.59,532.90 124.06,533.50 122.20,533.50 C120.34,533.50 118.81,532.90 118.62,531.00 C118.48,528.00 118.95,524.50 119.32,522.00 C119.60,519.80 120.34,518.80 120.71,517.00 C121.08,515.00 121.55,513.40 122.20,513.40Z" fill="url(#gm)"/>
<path d="M131.60,533.00 L131.60,540.50 M128.80,532.30 L127.60,534.80 M134.40,532.30 L135.60,534.80" stroke="#8a8a8a" stroke-width="0.8" fill="none"/>
<path d="M131.60,513.40 C132.25,513.40 132.72,515.00 133.09,517.00 C133.46,518.80 134.20,519.80 134.48,522.00 C134.85,524.50 135.32,528.00 135.18,531.00 C134.99,532.90 133.46,533.50 131.60,533.50 C129.74,533.50 128.21,532.90 128.02,531.00 C127.88,528.00 128.34,524.50 128.72,522.00 C129.00,519.80 129.74,518.80 130.11,517.00 C130.48,515.00 130.95,513.40 131.60,513.40Z" fill="url(#gm)"/>
</g>
<rect x="184.00" y="330.50" width="47.40" height="28.5" fill="url(#gbg)"/>
<g clip-path="url(#c17)">
<path d="M188.00,351.50 L188.00,359.00 M185.20,350.80 L184.00,353.30 M190.80,350.80 L192.00,353.30" stroke="#aaa" stroke-width="0.8" fill="none"/>
<path d="M188.00,331.90 C188.66,331.90 189.14,333.50 189.52,335.50 C189.90,337.30 190.66,338.30 190.94,340.50 C191.32,343.00 191.80,346.50 191.66,349.50 C191.47,351.40 189.90,352.00 188.00,352.00 C186.10,352.00 184.53,351.40 184.34,349.50 C184.20,346.50 184.68,343.00 185.06,340.50 C185.34,338.30 186.10,337.30 186.48,335.50 C186.86,333.50 187.34,331.90 188.00,331.90Z" fill="url(#wm)"/>
<ellipse cx="186.60" cy="337.90" rx="1.3" ry="1.0" fill="#7a3cff" opacity="1"/>
<ellipse cx="189.40" cy="337.90" rx="1.3" ry="1.0" fill="#7a3cff" opacity="1"/>
<ellipse cx="188.00" cy="343.00" rx="3.1" ry="2.9" fill="#7230ff" opacity="1"/>
<ellipse cx="188.00" cy="343.30" rx="2.0" ry="1.7" fill="#4a14ff" opacity="1"/>
<ellipse cx="184.90" cy="348.80" rx="1.4" ry="1.7" fill="#7230ff" opacity="1"/>
<ellipse cx="191.10" cy="348.80" rx="1.4" ry="1.7" fill="#7230ff" opacity="1"/>
<path d="M197.40,351.50 L197.40,359.00 M194.60,350.80 L193.40,353.30 M200.20,350.80 L201.40,353.30" stroke="#aaa" stroke-width="0.8" fill="none"/>
<path d="M197.40,331.90 C198.06,331.90 198.54,333.50 198.92,335.50 C199.30,337.30 200.06,338.30 200.34,340.50 C200.72,343.00 201.20,346.50 201.06,349.50 C200.87,351.40 199.30,352.00 197.40,352.00 C195.50,352.00 193.93,351.40 193.74,349.50 C193.60,346.50 194.08,343.00 194.46,340.50 C194.74,338.30 195.50,337.30 195.88,335.50 C196.26,333.50 196.74,331.90 197.40,331.90Z" fill="url(#wm)"/>
<ellipse cx="196.00" cy="337.90" rx="1.3" ry="1.0" fill="#7a3cff" opacity="1"/>
<ellipse cx="198.80" cy="337.90" rx="1.3" ry="1.0" fill="#7a3cff" opacity="1"/>
<ellipse cx="197.40" cy="343.00" rx="3.1" ry="2.9" fill="#7230ff" opacity="1"/>
<ellipse cx="197.40" cy="343.30" rx="2.0" ry="1.7" fill="#4a14ff" opacity="1"/>
<ellipse cx="194.30" cy="348.80" rx="1.4" ry="1.7" fill="#7230ff" opacity="1"/>
<ellipse cx="200.50" cy="348.80" rx="1.4" ry="1.7" fill="#7230ff" opacity="1"/>
<path d="M206.80,351.50 L206.80,359.00 M204.00,350.80 L202.80,353.30 M209.60,350.80 L210.80,353.30" stroke="#aaa" stroke-width="0.8" fill="none"/>
<path d="M206.80,331.90 C207.47,331.90 207.94,333.50 208.32,335.50 C208.70,337.30 209.46,338.30 209.75,340.50 C210.12,343.00 210.60,346.50 210.46,349.50 C210.27,351.40 208.70,352.00 206.80,352.00 C204.90,352.00 203.33,351.40 203.14,349.50 C203.00,346.50 203.48,343.00 203.86,340.50 C204.14,338.30 204.90,337.30 205.28,335.50 C205.66,333.50 206.14,331.90 206.80,331.90Z" fill="url(#wm)"/>
<ellipse cx="205.40" cy="337.90" rx="1.3" ry="1.0" fill="#7a3cff" opacity="1"/>
<ellipse cx="208.20" cy="337.90" rx="1.3" ry="1.0" fill="#7a3cff" opacity="1"/>
<ellipse cx="206.80" cy="343.00" rx="3.1" ry="2.9" fill="#7230ff" opacity="1"/>
<ellipse cx="206.80" cy="343.30" rx="2.0" ry="1.7" fill="#4a14ff" opacity="1"/>
<ellipse cx="203.70" cy="348.80" rx="1.4" ry="1.7" fill="#7230ff" opacity="1"/>
<ellipse cx="209.90" cy="348.80" rx="1.4" ry="1.7" fill="#7230ff" opacity="1"/>
<path d="M216.20,351.50 L216.20,359.00 M213.40,350.80 L212.20,353.30 M219.00,350.80 L220.20,353.30" stroke="#aaa" stroke-width="0.8" fill="none"/>
<path d="M216.20,331.90 C216.86,331.90 217.34,333.50 217.72,335.50 C218.10,337.30 218.86,338.30 219.14,340.50 C219.52,343.00 220.00,346.50 219.86,349.50 C219.67,351.40 218.10,352.00 216.20,352.00 C214.30,352.00 212.73,351.40 212.54,349.50 C212.40,346.50 212.88,343.00 213.25,340.50 C213.54,338.30 214.30,337.30 214.68,335.50 C215.06,333.50 215.53,331.90 216.20,331.90Z" fill="url(#wm)"/>
<ellipse cx="214.80" cy="337.90" rx="1.3" ry="1.0" fill="#7a3cff" opacity="1"/>
<ellipse cx="217.60" cy="337.90" rx="1.3" ry="1.0" fill="#7a3cff" opacity="1"/>
<ellipse cx="216.20" cy="343.00" rx="3.1" ry="2.9" fill="#7230ff" opacity="1"/>
<ellipse cx="216.20" cy="343.30" rx="2.0" ry="1.7" fill="#4a14ff" opacity="1"/>
<ellipse cx="213.10" cy="348.80" rx="1.4" ry="1.7" fill="#7230ff" opacity="1"/>
<ellipse cx="219.30" cy="348.80" rx="1.4" ry="1.7" fill="#7230ff" opacity="1"/>
<path d="M225.60,351.50 L225.60,359.00 M222.80,350.80 L221.60,353.30 M228.40,350.80 L229.60,353.30" stroke="#aaa" stroke-width="0.8" fill="none"/>
<path d="M225.60,331.90 C226.26,331.90 226.74,333.50 227.12,335.50 C227.50,337.30 228.26,338.30 228.54,340.50 C228.92,343.00 229.40,346.50 229.26,349.50 C229.07,351.40 227.50,352.00 225.60,352.00 C223.70,352.00 222.13,351.40 221.94,349.50 C221.80,346.50 222.28,343.00 222.66,340.50 C222.94,338.30 223.70,337.30 224.08,335.50 C224.46,333.50 224.94,331.90 225.60,331.90Z" fill="url(#wm)"/>
<ellipse cx="224.20" cy="337.90" rx="1.3" ry="1.0" fill="#7a3cff" opacity="1"/>
<ellipse cx="227.00" cy="337.90" rx="1.3" ry="1.0" fill="#7a3cff" opacity="1"/>
<ellipse cx="225.60" cy="343.00" rx="3.1" ry="2.9" fill="#7230ff" opacity="1"/>
<ellipse cx="225.60" cy="343.30" rx="2.0" ry="1.7" fill="#4a14ff" opacity="1"/>
<ellipse cx="222.50" cy="348.80" rx="1.4" ry="1.7" fill="#7230ff" opacity="1"/>
<ellipse cx="228.70" cy="348.80" rx="1.4" ry="1.7" fill="#7230ff" opacity="1"/>
</g>
<rect x="234.80" y="330.50" width="47.40" height="28.5" fill="url(#gbg)"/>
<g clip-path="url(#c18)">
<path d="M238.80,351.50 L238.80,359.00 M236.00,350.80 L234.80,353.30 M241.60,350.80 L242.80,353.30" stroke="#aaa" stroke-width="0.8" fill="none"/>
<path d="M238.80,331.90 C239.47,331.90 239.94,333.50 240.32,335.50 C240.70,337.30 241.46,338.30 241.75,340.50 C242.12,343.00 242.60,346.50 242.46,349.50 C242.27,351.40 240.70,352.00 238.80,352.00 C236.90,352.00 235.33,351.40 235.14,349.50 C235.00,346.50 235.48,343.00 235.86,340.50 C236.14,338.30 236.90,337.30 237.28,335.50 C237.66,333.50 238.14,331.90 238.80,331.90Z" fill="url(#wm)"/>
<ellipse cx="237.40" cy="337.90" rx="1.3" ry="1.0" fill="#7a3cff" opacity="1"/>
<ellipse cx="240.20" cy="337.90" rx="1.3" ry="1.0" fill="#7a3cff" opacity="1"/>
<ellipse cx="238.80" cy="343.00" rx="3.1" ry="2.9" fill="#7230ff" opacity="1"/>
<ellipse cx="238.80" cy="343.30" rx="2.0" ry="1.7" fill="#4a14ff" opacity="1"/>
<ellipse cx="235.70" cy="348.80" rx="1.4" ry="1.7" fill="#7230ff" opacity="1"/>
<ellipse cx="241.90" cy="348.80" rx="1.4" ry="1.7" fill="#7230ff" opacity="1"/>
<path d="M248.20,351.50 L248.20,359.00 M245.40,350.80 L244.20,353.30 M251.00,350.80 L252.20,353.30" stroke="#aaa" stroke-width="0.8" fill="none"/>
<path d="M248.20,331.90 C248.87,331.90 249.34,333.50 249.72,335.50 C250.10,337.30 250.86,338.30 251.15,340.50 C251.53,343.00 252.00,346.50 251.86,349.50 C251.67,351.40 250.10,352.00 248.20,352.00 C246.30,352.00 244.73,351.40 244.54,349.50 C244.40,346.50 244.88,343.00 245.26,340.50 C245.54,338.30 246.30,337.30 246.68,335.50 C247.06,333.50 247.54,331.90 248.20,331.90Z" fill="url(#wm)"/>
<ellipse cx="246.80" cy="337.90" rx="1.3" ry="1.0" fill="#7a3cff" opacity="1"/>
<ellipse cx="249.60" cy="337.90" rx="1.3" ry="1.0" fill="#7a3cff" opacity="1"/>
<ellipse cx="248.20" cy="343.00" rx="3.1" ry="2.9" fill="#7230ff" opacity="1"/>
<ellipse cx="248.20" cy="343.30" rx="2.0" ry="1.7" fill="#4a14ff" opacity="1"/>
<ellipse cx="245.10" cy="348.80" rx="1.4" ry="1.7" fill="#7230ff" opacity="1"/>
<ellipse cx="251.30" cy="348.80" rx="1.4" ry="1.7" fill="#7230ff" opacity="1"/>
<path d="M257.60,351.50 L257.60,359.00 M254.80,350.80 L253.60,353.30 M260.40,350.80 L261.60,353.30" stroke="#aaa" stroke-width="0.8" fill="none"/>
<path d="M257.60,331.90 C258.27,331.90 258.74,333.50 259.12,335.50 C259.50,337.30 260.26,338.30 260.55,340.50 C260.93,343.00 261.40,346.50 261.26,349.50 C261.07,351.40 259.50,352.00 257.60,352.00 C255.70,352.00 254.13,351.40 253.94,349.50 C253.80,346.50 254.28,343.00 254.66,340.50 C254.94,338.30 255.70,337.30 256.08,335.50 C256.46,333.50 256.94,331.90 257.60,331.90Z" fill="url(#wm)"/>
<ellipse cx="256.20" cy="337.90" rx="1.3" ry="1.0" fill="#7a3cff" opacity="1"/>
<ellipse cx="259.00" cy="337.90" rx="1.3" ry="1.0" fill="#7a3cff" opacity="1"/>
<ellipse cx="257.60" cy="343.00" rx="3.1" ry="2.9" fill="#7230ff" opacity="1"/>
<ellipse cx="257.60" cy="343.30" rx="2.0" ry="1.7" fill="#4a14ff" opacity="1"/>
<ellipse cx="254.50" cy="348.80" rx="1.4" ry="1.7" fill="#7230ff" opacity="1"/>
<ellipse cx="260.70" cy="348.80" rx="1.4" ry="1.7" fill="#7230ff" opacity="1"/>
<path d="M267.00,351.50 L267.00,359.00 M264.20,350.80 L263.00,353.30 M269.80,350.80 L271.00,353.30" stroke="#aaa" stroke-width="0.8" fill="none"/>
<path d="M267.00,331.90 C267.67,331.90 268.14,333.50 268.52,335.50 C268.90,337.30 269.66,338.30 269.94,340.50 C270.32,343.00 270.80,346.50 270.66,349.50 C270.47,351.40 268.90,352.00 267.00,352.00 C265.10,352.00 263.53,351.40 263.34,349.50 C263.20,346.50 263.68,343.00 264.06,340.50 C264.34,338.30 265.10,337.30 265.48,335.50 C265.86,333.50 266.33,331.90 267.00,331.90Z" fill="url(#wm)"/>
<ellipse cx="265.60" cy="337.90" rx="1.3" ry="1.0" fill="#7a3cff" opacity="1"/>
<ellipse cx="268.40" cy="337.90" rx="1.3" ry="1.0" fill="#7a3cff" opacity="1"/>
<ellipse cx="267.00" cy="343.00" rx="3.1" ry="2.9" fill="#7230ff" opacity="1"/>
<ellipse cx="267.00" cy="343.30" rx="2.0" ry="1.7" fill="#4a14ff" opacity="1"/>
<ellipse cx="263.90" cy="348.80" rx="1.4" ry="1.7" fill="#7230ff" opacity="1"/>
<ellipse cx="270.10" cy="348.80" rx="1.4" ry="1.7" fill="#7230ff" opacity="1"/>
<path d="M276.40,351.50 L276.40,359.00 M273.60,350.80 L272.40,353.30 M279.20,350.80 L280.40,353.30" stroke="#aaa" stroke-width="0.8" fill="none"/>
<path d="M276.40,331.90 C277.07,331.90 277.54,333.50 277.92,335.50 C278.30,337.30 279.06,338.30 279.35,340.50 C279.73,343.00 280.20,346.50 280.06,349.50 C279.87,351.40 278.30,352.00 276.40,352.00 C274.50,352.00 272.93,351.40 272.74,349.50 C272.60,346.50 273.08,343.00 273.46,340.50 C273.74,338.30 274.50,337.30 274.88,335.50 C275.26,333.50 275.74,331.90 276.40,331.90Z" fill="url(#wm)"/>
<ellipse cx="275.00" cy="337.90" rx="1.3" ry="1.0" fill="#7a3cff" opacity="1"/>
<ellipse cx="277.80" cy="337.90" rx="1.3" ry="1.0" fill="#7a3cff" opacity="1"/>
<ellipse cx="276.40" cy="343.00" rx="3.1" ry="2.9" fill="#7230ff" opacity="1"/>
<ellipse cx="276.40" cy="343.30" rx="2.0" ry="1.7" fill="#4a14ff" opacity="1"/>
<ellipse cx="273.30" cy="348.80" rx="1.4" ry="1.7" fill="#7230ff" opacity="1"/>
<ellipse cx="279.50" cy="348.80" rx="1.4" ry="1.7" fill="#7230ff" opacity="1"/>
</g>
<rect x="285.60" y="330.50" width="19.80" height="28.5" fill="url(#gbg)"/>
<g clip-path="url(#c19)">
<path d="M289.60,351.50 L289.60,359.00 M286.80,350.80 L285.60,353.30 M292.40,350.80 L293.60,353.30" stroke="#8a8a8a" stroke-width="0.8" fill="none"/>
<path d="M289.60,331.90 C290.25,331.90 290.72,333.50 291.09,335.50 C291.46,337.30 292.20,338.30 292.48,340.50 C292.86,343.00 293.32,346.50 293.18,349.50 C292.99,351.40 291.46,352.00 289.60,352.00 C287.74,352.00 286.21,351.40 286.02,349.50 C285.88,346.50 286.35,343.00 286.72,340.50 C287.00,338.30 287.74,337.30 288.11,335.50 C288.48,333.50 288.95,331.90 289.60,331.90Z" fill="url(#gm)"/>
<path d="M299.00,351.50 L299.00,359.00 M296.20,350.80 L295.00,353.30 M301.80,350.80 L303.00,353.30" stroke="#8a8a8a" stroke-width="0.8" fill="none"/>
<path d="M299.00,331.90 C299.65,331.90 300.12,333.50 300.49,335.50 C300.86,337.30 301.60,338.30 301.88,340.50 C302.25,343.00 302.72,346.50 302.58,349.50 C302.39,351.40 300.86,352.00 299.00,352.00 C297.14,352.00 295.61,351.40 295.42,349.50 C295.28,346.50 295.75,343.00 296.12,340.50 C296.40,338.30 297.14,337.30 297.51,335.50 C297.88,333.50 298.35,331.90 299.00,331.90Z" fill="url(#gm)"/>
<ellipse cx="289.60" cy="341.80" rx="2.7" ry="1.7" fill="#7230ff" opacity="1"/>
<ellipse cx="299.00" cy="341.80" rx="2.7" ry="1.7" fill="#7230ff" opacity="1"/>
</g>
<rect x="184.00" y="360.75" width="47.40" height="28.5" fill="url(#gbg)"/>
<g clip-path="url(#c20)">
<path d="M188.00,381.75 L188.00,389.25 M185.20,381.05 L184.00,383.55 M190.80,381.05 L192.00,383.55" stroke="#8a8a8a" stroke-width="0.8" fill="none"/>
<path d="M188.00,362.15 C188.65,362.15 189.12,363.75 189.49,365.75 C189.86,367.55 190.60,368.55 190.88,370.75 C191.25,373.25 191.72,376.75 191.58,379.75 C191.39,381.65 189.86,382.25 188.00,382.25 C186.14,382.25 184.61,381.65 184.42,379.75 C184.28,376.75 184.75,373.25 185.12,370.75 C185.40,368.55 186.14,367.55 186.51,365.75 C186.88,363.75 187.35,362.15 188.00,362.15Z" fill="url(#gm)"/>
<path d="M197.40,381.75 L197.40,389.25 M194.60,381.05 L193.40,383.55 M200.20,381.05 L201.40,383.55" stroke="#8a8a8a" stroke-width="0.8" fill="none"/>
<path d="M197.40,362.15 C198.05,362.15 198.52,363.75 198.89,365.75 C199.26,367.55 200.00,368.55 200.28,370.75 C200.66,373.25 201.12,376.75 200.98,379.75 C200.79,381.65 199.26,382.25 197.40,382.25 C195.54,382.25 194.01,381.65 193.82,379.75 C193.68,376.75 194.15,373.25 194.52,370.75 C194.80,368.55 195.54,367.55 195.91,365.75 C196.28,363.75 196.75,362.15 197.40,362.15Z" fill="url(#gm)"/>
<path d="M206.80,381.75 L206.80,389.25 M204.00,381.05 L202.80,383.55 M209.60,381.05 L210.80,383.55" stroke="#8a8a8a" stroke-width="0.8" fill="none"/>
<path d="M206.80,362.15 C207.45,362.15 207.92,363.75 208.29,365.75 C208.66,367.55 209.40,368.55 209.68,370.75 C210.06,373.25 210.52,376.75 210.38,379.75 C210.19,381.65 208.66,382.25 206.80,382.25 C204.94,382.25 203.41,381.65 203.22,379.75 C203.08,376.75 203.55,373.25 203.92,370.75 C204.20,368.55 204.94,367.55 205.31,365.75 C205.68,363.75 206.15,362.15 206.80,362.15Z" fill="url(#gm)"/>
<path d="M216.20,381.75 L216.20,389.25 M213.40,381.05 L212.20,383.55 M219.00,381.05 L220.20,383.55" stroke="#8a8a8a" stroke-width="0.8" fill="none"/>
<path d="M216.20,362.15 C216.85,362.15 217.32,363.75 217.69,365.75 C218.06,367.55 218.80,368.55 219.08,370.75 C219.45,373.25 219.92,376.75 219.78,379.75 C219.59,381.65 218.06,382.25 216.20,382.25 C214.34,382.25 212.81,381.65 212.62,379.75 C212.48,376.75 212.94,373.25 213.32,370.75 C213.60,368.55 214.34,367.55 214.71,365.75 C215.08,363.75 215.55,362.15 216.20,362.15Z" fill="url(#gm)"/>
<path d="M225.60,381.75 L225.60,389.25 M222.80,381.05 L221.60,383.55 M228.40,381.05 L229.60,383.55" stroke="#8a8a8a" stroke-width="0.8" fill="none"/>
<path d="M225.60,362.15 C226.25,362.15 226.72,363.75 227.09,365.75 C227.46,367.55 228.20,368.55 228.48,370.75 C228.85,373.25 229.32,376.75 229.18,379.75 C228.99,381.65 227.46,382.25 225.60,382.25 C223.74,382.25 222.21,381.65 222.02,379.75 C221.88,376.75 222.34,373.25 222.72,370.75 C223.00,368.55 223.74,367.55 224.11,365.75 C224.48,363.75 224.95,362.15 225.60,362.15Z" fill="url(#gm)"/>
<ellipse cx="216.20" cy="372.25" rx="2.8" ry="1.7" fill="#4a14ff" opacity="1"/>
<ellipse cx="187.00" cy="369.75" rx="0.8" ry="0.8" fill="#7230ff" opacity="1"/>
</g>
<rect x="234.80" y="360.75" width="47.40" height="28.5" fill="url(#gbg)"/>
<g clip-path="url(#c21)">
<path d="M238.80,381.75 L238.80,389.25 M236.00,381.05 L234.80,383.55 M241.60,381.05 L242.80,383.55" stroke="#8a8a8a" stroke-width="0.8" fill="none"/>
<path d="M238.80,362.15 C239.45,362.15 239.92,363.75 240.29,365.75 C240.66,367.55 241.40,368.55 241.68,370.75 C242.06,373.25 242.52,376.75 242.38,379.75 C242.19,381.65 240.66,382.25 238.80,382.25 C236.94,382.25 235.41,381.65 235.22,379.75 C235.08,376.75 235.55,373.25 235.92,370.75 C236.20,368.55 236.94,367.55 237.31,365.75 C237.68,363.75 238.15,362.15 238.80,362.15Z" fill="url(#gm)"/>
<path d="M248.20,381.75 L248.20,389.25 M245.40,381.05 L244.20,383.55 M251.00,381.05 L252.20,383.55" stroke="#8a8a8a" stroke-width="0.8" fill="none"/>
<path d="M248.20,362.15 C248.85,362.15 249.32,363.75 249.69,365.75 C250.06,367.55 250.80,368.55 251.08,370.75 C251.46,373.25 251.92,376.75 251.78,379.75 C251.59,381.65 250.06,382.25 248.20,382.25 C246.34,382.25 244.81,381.65 244.62,379.75 C244.48,376.75 244.95,373.25 245.32,370.75 C245.60,368.55 246.34,367.55 246.71,365.75 C247.08,363.75 247.55,362.15 248.20,362.15Z" fill="url(#gm)"/>
<path d="M257.60,381.75 L257.60,389.25 M254.80,381.05 L253.60,383.55 M260.40,381.05 L261.60,383.55" stroke="#8a8a8a" stroke-width="0.8" fill="none"/>
<path d="M257.60,362.15 C258.25,362.15 258.72,363.75 259.09,365.75 C259.46,367.55 260.20,368.55 260.48,370.75 C260.86,373.25 261.32,376.75 261.18,379.75 C260.99,381.65 259.46,382.25 257.60,382.25 C255.74,382.25 254.21,381.65 254.02,379.75 C253.88,376.75 254.35,373.25 254.72,370.75 C255.00,368.55 255.74,367.55 256.11,365.75 C256.48,363.75 256.95,362.15 257.60,362.15Z" fill="url(#gm)"/>
<path d="M267.00,381.75 L267.00,389.25 M264.20,381.05 L263.00,383.55 M269.80,381.05 L271.00,383.55" stroke="#8a8a8a" stroke-width="0.8" fill="none"/>
<path d="M267.00,362.15 C267.65,362.15 268.12,363.75 268.49,365.75 C268.86,367.55 269.60,368.55 269.88,370.75 C270.25,373.25 270.72,376.75 270.58,379.75 C270.39,381.65 268.86,382.25 267.00,382.25 C265.14,382.25 263.61,381.65 263.42,379.75 C263.28,376.75 263.75,373.25 264.12,370.75 C264.40,368.55 265.14,367.55 265.51,365.75 C265.88,363.75 266.35,362.15 267.00,362.15Z" fill="url(#gm)"/>
<path d="M276.40,381.75 L276.40,389.25 M273.60,381.05 L272.40,383.55 M279.20,381.05 L280.40,383.55" stroke="#8a8a8a" stroke-width="0.8" fill="none"/>
<path d="M276.40,362.15 C277.05,362.15 277.52,363.75 277.89,365.75 C278.26,367.55 279.00,368.55 279.28,370.75 C279.66,373.25 280.12,376.75 279.98,379.75 C279.79,381.65 278.26,382.25 276.40,382.25 C274.54,382.25 273.01,381.65 272.82,379.75 C272.68,376.75 273.15,373.25 273.52,370.75 C273.80,368.55 274.54,367.55 274.91,365.75 C275.28,363.75 275.75,362.15 276.40,362.15Z" fill="url(#gm)"/>
<ellipse cx="238.80" cy="373.25" rx="3.3" ry="2.2" fill="#3a20ff" opacity="1"/>
<ellipse cx="248.20" cy="373.25" rx="3.0" ry="1.8" fill="#4a14ff" opacity="1"/>
<ellipse cx="257.60" cy="373.25" rx="3.0" ry="1.8" fill="#4a14ff" opacity="1"/>
<ellipse cx="267.00" cy="373.25" rx="3.0" ry="1.8" fill="#4a14ff" opacity="1"/>
<ellipse cx="276.40" cy="373.25" rx="3.0" ry="1.8" fill="#4a14ff" opacity="1"/>
</g>
<rect x="285.60" y="360.75" width="19.80" height="28.5" fill="url(#gbg)"/>
<g clip-path="url(#c22)">
<path d="M289.60,381.75 L289.60,389.25 M286.80,381.05 L285.60,383.55 M292.40,381.05 L293.60,383.55" stroke="#8a6aff" stroke-width="0.8" fill="none"/>
<path d="M289.60,362.35 C291.10,362.35 291.80,363.75 292.20,366.25 C292.60,368.75 293.70,370.75 293.70,374.75 C293.70,379.75 294.00,382.75 293.10,383.25 L286.10,383.25 C285.20,382.75 285.50,379.75 285.50,374.75 C285.50,370.75 286.60,368.75 287.00,366.25 C287.40,363.75 288.10,362.35 289.60,362.35Z" fill="#5a20ff"/>
<path d="M289.60,362.15 C290.34,362.15 290.86,363.75 291.28,365.75 C291.70,367.55 292.54,368.55 292.86,370.75 C293.28,373.25 293.80,376.75 293.64,379.75 C293.43,381.65 291.70,382.25 289.60,382.25 C287.50,382.25 285.77,381.65 285.56,379.75 C285.40,376.75 285.93,373.25 286.35,370.75 C286.66,368.55 287.50,367.55 287.92,365.75 C288.34,363.75 288.87,362.15 289.60,362.15Z" fill="#2a28ff"/>
<ellipse cx="289.60" cy="366.25" rx="2.0" ry="2.6" fill="#3050ff" opacity="1"/>
<ellipse cx="289.60" cy="372.05" rx="3.2" ry="2.0" fill="#2f7cff" opacity="1"/>
<ellipse cx="289.60" cy="372.05" rx="2.4" ry="1.4" fill="#35d0d0" opacity="1"/>
<ellipse cx="289.60" cy="372.05" rx="1.3" ry="0.8" fill="#90f060" opacity="1"/>
<path d="M287.60,375.75 Q289.60,377.55 291.60,375.75" stroke="#f6f0d8" stroke-width="1.2" fill="none"/>
<ellipse cx="286.20" cy="378.55" rx="1.4" ry="1.5" fill="#3090ff" opacity="1"/>
<ellipse cx="293.00" cy="378.55" rx="1.4" ry="1.5" fill="#3090ff" opacity="1"/>
<ellipse cx="286.20" cy="378.55" rx="0.8" ry="0.8" fill="#40e0c0" opacity="1"/>
<ellipse cx="293.00" cy="378.55" rx="0.8" ry="0.8" fill="#40e0c0" opacity="1"/>
<ellipse cx="286.20" cy="378.55" rx="0.5" ry="0.5" fill="#ff5a1a" opacity="1"/>
<ellipse cx="293.00" cy="378.55" rx="0.5" ry="0.5" fill="#f5e020" opacity="1"/>
<path d="M299.00,381.75 L299.00,389.25 M296.20,381.05 L295.00,383.55 M301.80,381.05 L303.00,383.55" stroke="#8a6aff" stroke-width="0.8" fill="none"/>
<path d="M299.00,362.35 C300.50,362.35 301.20,363.75 301.60,366.25 C302.00,368.75 303.10,370.75 303.10,374.75 C303.10,379.75 303.40,382.75 302.50,383.25 L295.50,383.25 C294.60,382.75 294.90,379.75 294.90,374.75 C294.90,370.75 296.00,368.75 296.40,366.25 C296.80,363.75 297.50,362.35 299.00,362.35Z" fill="#5a20ff"/>
<path d="M299.00,362.15 C299.74,362.15 300.26,363.75 300.68,365.75 C301.10,367.55 301.94,368.55 302.25,370.75 C302.68,373.25 303.20,376.75 303.04,379.75 C302.83,381.65 301.10,382.25 299.00,382.25 C296.90,382.25 295.17,381.65 294.96,379.75 C294.80,376.75 295.32,373.25 295.75,370.75 C296.06,368.55 296.90,367.55 297.32,365.75 C297.74,363.75 298.26,362.15 299.00,362.15Z" fill="#2a28ff"/>
<ellipse cx="299.00" cy="366.25" rx="2.0" ry="2.6" fill="#3050ff" opacity="1"/>
<ellipse cx="299.00" cy="372.05" rx="3.2" ry="2.0" fill="#2f7cff" opacity="1"/>
<ellipse cx="299.00" cy="372.05" rx="2.4" ry="1.4" fill="#35d0d0" opacity="1"/>
<ellipse cx="299.00" cy="372.05" rx="1.3" ry="0.8" fill="#90f060" opacity="1"/>
<path d="M297.00,375.75 Q299.00,377.55 301.00,375.75" stroke="#f6f0d8" stroke-width="1.2" fill="none"/>
<ellipse cx="295.60" cy="378.55" rx="1.4" ry="1.5" fill="#3090ff" opacity="1"/>
<ellipse cx="302.40" cy="378.55" rx="1.4" ry="1.5" fill="#3090ff" opacity="1"/>
<ellipse cx="295.60" cy="378.55" rx="0.8" ry="0.8" fill="#40e0c0" opacity="1"/>
<ellipse cx="302.40" cy="378.55" rx="0.8" ry="0.8" fill="#40e0c0" opacity="1"/>
</g>
<rect x="184.00" y="391.00" width="47.40" height="28.5" fill="url(#gbg)"/>
<g clip-path="url(#c23)">
<path d="M188.00,412.00 L188.00,419.50 M185.20,411.30 L184.00,413.80 M190.80,411.30 L192.00,413.80" stroke="#8a8a8a" stroke-width="0.8" fill="none"/>
<path d="M188.00,392.40 C188.65,392.40 189.12,394.00 189.49,396.00 C189.86,397.80 190.60,398.80 190.88,401.00 C191.25,403.50 191.72,407.00 191.58,410.00 C191.39,411.90 189.86,412.50 188.00,412.50 C186.14,412.50 184.61,411.90 184.42,410.00 C184.28,407.00 184.75,403.50 185.12,401.00 C185.40,398.80 186.14,397.80 186.51,396.00 C186.88,394.00 187.35,392.40 188.00,392.40Z" fill="url(#gm)"/>
<path d="M197.40,412.00 L197.40,419.50 M194.60,411.30 L193.40,413.80 M200.20,411.30 L201.40,413.80" stroke="#8a8a8a" stroke-width="0.8" fill="none"/>
<path d="M197.40,392.40 C198.05,392.40 198.52,394.00 198.89,396.00 C199.26,397.80 200.00,398.80 200.28,401.00 C200.66,403.50 201.12,407.00 200.98,410.00 C200.79,411.90 199.26,412.50 197.40,412.50 C195.54,412.50 194.01,411.90 193.82,410.00 C193.68,407.00 194.15,403.50 194.52,401.00 C194.80,398.80 195.54,397.80 195.91,396.00 C196.28,394.00 196.75,392.40 197.40,392.40Z" fill="url(#gm)"/>
<path d="M206.80,412.00 L206.80,419.50 M204.00,411.30 L202.80,413.80 M209.60,411.30 L210.80,413.80" stroke="#8a8a8a" stroke-width="0.8" fill="none"/>
<path d="M206.80,392.40 C207.45,392.40 207.92,394.00 208.29,396.00 C208.66,397.80 209.40,398.80 209.68,401.00 C210.06,403.50 210.52,407.00 210.38,410.00 C210.19,411.90 208.66,412.50 206.80,412.50 C204.94,412.50 203.41,411.90 203.22,410.00 C203.08,407.00 203.55,403.50 203.92,401.00 C204.20,398.80 204.94,397.80 205.31,396.00 C205.68,394.00 206.15,392.40 206.80,392.40Z" fill="url(#gm)"/>
<path d="M216.20,412.00 L216.20,419.50 M213.40,411.30 L212.20,413.80 M219.00,411.30 L220.20,413.80" stroke="#8a8a8a" stroke-width="0.8" fill="none"/>
<path d="M216.20,392.40 C216.85,392.40 217.32,394.00 217.69,396.00 C218.06,397.80 218.80,398.80 219.08,401.00 C219.45,403.50 219.92,407.00 219.78,410.00 C219.59,411.90 218.06,412.50 216.20,412.50 C214.34,412.50 212.81,411.90 212.62,410.00 C212.48,407.00 212.94,403.50 213.32,401.00 C213.60,398.80 214.34,397.80 214.71,396.00 C215.08,394.00 215.55,392.40 216.20,392.40Z" fill="url(#gm)"/>
<path d="M225.60,412.00 L225.60,419.50 M222.80,411.30 L221.60,413.80 M228.40,411.30 L229.60,413.80" stroke="#8a8a8a" stroke-width="0.8" fill="none"/>
<path d="M225.60,392.40 C226.25,392.40 226.72,394.00 227.09,396.00 C227.46,397.80 228.20,398.80 228.48,401.00 C228.85,403.50 229.32,407.00 229.18,410.00 C228.99,411.90 227.46,412.50 225.60,412.50 C223.74,412.50 222.21,411.90 222.02,410.00 C221.88,407.00 222.34,403.50 222.72,401.00 C223.00,398.80 223.74,397.80 224.11,396.00 C224.48,394.00 224.95,392.40 225.60,392.40Z" fill="url(#gm)"/>
<ellipse cx="188.00" cy="392.80" rx="0.9" ry="0.9" fill="#4a14ff" opacity="1"/>
<ellipse cx="206.80" cy="392.80" rx="0.9" ry="0.9" fill="#4a14ff" opacity="1"/>
<ellipse cx="225.60" cy="392.80" rx="0.9" ry="0.9" fill="#4a14ff" opacity="1"/>
</g>
<rect x="234.80" y="391.00" width="47.40" height="28.5" fill="url(#gbg)"/>
<g clip-path="url(#c24)">
<path d="M238.80,412.00 L238.80,419.50 M236.00,411.30 L234.80,413.80 M241.60,411.30 L242.80,413.80" stroke="#8a8a8a" stroke-width="0.8" fill="none"/>
<path d="M238.80,392.40 C239.45,392.40 239.92,394.00 240.29,396.00 C240.66,397.80 241.40,398.80 241.68,401.00 C242.06,403.50 242.52,407.00 242.38,410.00 C242.19,411.90 240.66,412.50 238.80,412.50 C236.94,412.50 235.41,411.90 235.22,410.00 C235.08,407.00 235.55,403.50 235.92,401.00 C236.20,398.80 236.94,397.80 237.31,396.00 C237.68,394.00 238.15,392.40 238.80,392.40Z" fill="url(#gm)"/>
<path d="M248.20,412.00 L248.20,419.50 M245.40,411.30 L244.20,413.80 M251.00,411.30 L252.20,413.80" stroke="#8a8a8a" stroke-width="0.8" fill="none"/>
<path d="M248.20,392.40 C248.85,392.40 249.32,394.00 249.69,396.00 C250.06,397.80 250.80,398.80 251.08,401.00 C251.46,403.50 251.92,407.00 251.78,410.00 C251.59,411.90 250.06,412.50 248.20,412.50 C246.34,412.50 244.81,411.90 244.62,410.00 C244.48,407.00 244.95,403.50 245.32,401.00 C245.60,398.80 246.34,397.80 246.71,396.00 C247.08,394.00 247.55,392.40 248.20,392.40Z" fill="url(#gm)"/>
<path d="M257.60,412.00 L257.60,419.50 M254.80,411.30 L253.60,413.80 M260.40,411.30 L261.60,413.80" stroke="#8a8a8a" stroke-width="0.8" fill="none"/>
<path d="M257.60,392.40 C258.25,392.40 258.72,394.00 259.09,396.00 C259.46,397.80 260.20,398.80 260.48,401.00 C260.86,403.50 261.32,407.00 261.18,410.00 C260.99,411.90 259.46,412.50 257.60,412.50 C255.74,412.50 254.21,411.90 254.02,410.00 C253.88,407.00 254.35,403.50 254.72,401.00 C255.00,398.80 255.74,397.80 256.11,396.00 C256.48,394.00 256.95,392.40 257.60,392.40Z" fill="url(#gm)"/>
<path d="M267.00,412.00 L267.00,419.50 M264.20,411.30 L263.00,413.80 M269.80,411.30 L271.00,413.80" stroke="#8a8a8a" stroke-width="0.8" fill="none"/>
<path d="M267.00,392.40 C267.65,392.40 268.12,394.00 268.49,396.00 C268.86,397.80 269.60,398.80 269.88,401.00 C270.25,403.50 270.72,407.00 270.58,410.00 C270.39,411.90 268.86,412.50 267.00,412.50 C265.14,412.50 263.61,411.90 263.42,410.00 C263.28,407.00 263.75,403.50 264.12,401.00 C264.40,398.80 265.14,397.80 265.51,396.00 C265.88,394.00 266.35,392.40 267.00,392.40Z" fill="url(#gm)"/>
<path d="M276.40,412.00 L276.40,419.50 M273.60,411.30 L272.40,413.80 M279.20,411.30 L280.40,413.80" stroke="#8a8a8a" stroke-width="0.8" fill="none"/>
<path d="M276.40,392.40 C277.05,392.40 277.52,394.00 277.89,396.00 C278.26,397.80 279.00,398.80 279.28,401.00 C279.66,403.50 280.12,407.00 279.98,410.00 C279.79,411.90 278.26,412.50 276.40,412.50 C274.54,412.50 273.01,411.90 272.82,410.00 C272.68,407.00 273.15,403.50 273.52,401.00 C273.80,398.80 274.54,397.80 274.91,396.00 C275.28,394.00 275.75,392.40 276.40,392.40Z" fill="url(#gm)"/>
<ellipse cx="248.20" cy="392.80" rx="0.8" ry="0.8" fill="#4a14ff" opacity="1"/>
<ellipse cx="267.00" cy="392.80" rx="0.8" ry="0.8" fill="#4a14ff" opacity="1"/>
</g>
<rect x="285.60" y="391.00" width="19.80" height="28.5" fill="url(#bbg)"/>
<g clip-path="url(#c25)">
<path d="M289.60,412.00 L289.60,419.50 M287.10,413.00 L286.40,417.00 M292.10,413.00 L292.80,417.00" stroke="#38d8d8" stroke-width="0.9" fill="none"/>
<path d="M289.60,392.60 C291.25,392.60 292.02,394.00 292.46,396.50 C292.90,399.00 294.11,401.00 294.11,405.00 C294.11,410.00 294.44,413.70 293.45,414.20 L285.75,414.20 C284.76,413.70 285.09,410.00 285.09,405.00 C285.09,401.00 286.30,399.00 286.74,396.50 C287.18,394.00 287.95,392.60 289.60,392.60Z" fill="#ff1a0a" stroke="#3ce0a8" stroke-width="0.7"/>
<path d="M299.00,412.00 L299.00,419.50 M296.50,413.00 L295.80,417.00 M301.50,413.00 L302.20,417.00" stroke="#38d8d8" stroke-width="0.9" fill="none"/>
<path d="M299.00,392.60 C300.65,392.60 301.42,394.00 301.86,396.50 C302.30,399.00 303.51,401.00 303.51,405.00 C303.51,410.00 303.84,413.70 302.85,414.20 L295.15,414.20 C294.16,413.70 294.49,410.00 294.49,405.00 C294.49,401.00 295.70,399.00 296.14,396.50 C296.58,394.00 297.35,392.60 299.00,392.60Z" fill="#ff1a0a" stroke="#3ce0a8" stroke-width="0.7"/>
</g>
<rect x="184.00" y="421.25" width="47.40" height="28.5" fill="url(#gbg)"/>
<g clip-path="url(#c26)">
<path d="M188.00,442.25 L188.00,449.75 M185.20,441.55 L184.00,444.05 M190.80,441.55 L192.00,444.05" stroke="#8a8a8a" stroke-width="0.8" fill="none"/>
<path d="M188.00,422.65 C188.65,422.65 189.12,424.25 189.49,426.25 C189.86,428.05 190.60,429.05 190.88,431.25 C191.25,433.75 191.72,437.25 191.58,440.25 C191.39,442.15 189.86,442.75 188.00,442.75 C186.14,442.75 184.61,442.15 184.42,440.25 C184.28,437.25 184.75,433.75 185.12,431.25 C185.40,429.05 186.14,428.05 186.51,426.25 C186.88,424.25 187.35,422.65 188.00,422.65Z" fill="url(#gm)"/>
<path d="M197.40,442.25 L197.40,449.75 M194.60,441.55 L193.40,444.05 M200.20,441.55 L201.40,444.05" stroke="#8a8a8a" stroke-width="0.8" fill="none"/>
<path d="M197.40,422.65 C198.05,422.65 198.52,424.25 198.89,426.25 C199.26,428.05 200.00,429.05 200.28,431.25 C200.66,433.75 201.12,437.25 200.98,440.25 C200.79,442.15 199.26,442.75 197.40,442.75 C195.54,442.75 194.01,442.15 193.82,440.25 C193.68,437.25 194.15,433.75 194.52,431.25 C194.80,429.05 195.54,428.05 195.91,426.25 C196.28,424.25 196.75,422.65 197.40,422.65Z" fill="url(#gm)"/>
<path d="M206.80,442.25 L206.80,449.75 M204.00,441.55 L202.80,444.05 M209.60,441.55 L210.80,444.05" stroke="#8a8a8a" stroke-width="0.8" fill="none"/>
<path d="M206.80,422.65 C207.45,422.65 207.92,424.25 208.29,426.25 C208.66,428.05 209.40,429.05 209.68,431.25 C210.06,433.75 210.52,437.25 210.38,440.25 C210.19,442.15 208.66,442.75 206.80,442.75 C204.94,442.75 203.41,442.15 203.22,440.25 C203.08,437.25 203.55,433.75 203.92,431.25 C204.20,429.05 204.94,428.05 205.31,426.25 C205.68,424.25 206.15,422.65 206.80,422.65Z" fill="url(#gm)"/>
<path d="M216.20,442.25 L216.20,449.75 M213.40,441.55 L212.20,444.05 M219.00,441.55 L220.20,444.05" stroke="#8a8a8a" stroke-width="0.8" fill="none"/>
<path d="M216.20,422.65 C216.85,422.65 217.32,424.25 217.69,426.25 C218.06,428.05 218.80,429.05 219.08,431.25 C219.45,433.75 219.92,437.25 219.78,440.25 C219.59,442.15 218.06,442.75 216.20,442.75 C214.34,442.75 212.81,442.15 212.62,440.25 C212.48,437.25 212.94,433.75 213.32,431.25 C213.60,429.05 214.34,428.05 214.71,426.25 C215.08,424.25 215.55,422.65 216.20,422.65Z" fill="url(#gm)"/>
<path d="M225.60,442.25 L225.60,449.75 M222.80,441.55 L221.60,444.05 M228.40,441.55 L229.60,444.05" stroke="#8a8a8a" stroke-width="0.8" fill="none"/>
<path d="M225.60,422.65 C226.25,422.65 226.72,424.25 227.09,426.25 C227.46,428.05 228.20,429.05 228.48,431.25 C228.85,433.75 229.32,437.25 229.18,440.25 C228.99,442.15 227.46,442.75 225.60,442.75 C223.74,442.75 222.21,442.15 222.02,440.25 C221.88,437.25 222.34,433.75 222.72,431.25 C223.00,429.05 223.74,428.05 224.11,426.25 C224.48,424.25 224.95,422.65 225.60,422.65Z" fill="url(#gm)"/>
<ellipse cx="206.80" cy="423.05" rx="0.8" ry="0.8" fill="#4a14ff" opacity="1"/>
<ellipse cx="225.60" cy="423.05" rx="0.8" ry="0.8" fill="#4a14ff" opacity="1"/>
</g>
<rect x="234.80" y="421.25" width="47.40" height="28.5" fill="url(#gbg)"/>
<g clip-path="url(#c27)">
<path d="M238.80,442.25 L238.80,449.75 M236.00,441.55 L234.80,444.05 M241.60,441.55 L242.80,444.05" stroke="#8a8a8a" stroke-width="0.8" fill="none"/>
<path d="M238.80,422.65 C239.45,422.65 239.92,424.25 240.29,426.25 C240.66,428.05 241.40,429.05 241.68,431.25 C242.06,433.75 242.52,437.25 242.38,440.25 C242.19,442.15 240.66,442.75 238.80,442.75 C236.94,442.75 235.41,442.15 235.22,440.25 C235.08,437.25 235.55,433.75 235.92,431.25 C236.20,429.05 236.94,428.05 237.31,426.25 C237.68,424.25 238.15,422.65 238.80,422.65Z" fill="url(#gm)"/>
<path d="M248.20,442.25 L248.20,449.75 M245.40,441.55 L244.20,444.05 M251.00,441.55 L252.20,444.05" stroke="#8a8a8a" stroke-width="0.8" fill="none"/>
<path d="M248.20,422.65 C248.85,422.65 249.32,424.25 249.69,426.25 C250.06,428.05 250.80,429.05 251.08,431.25 C251.46,433.75 251.92,437.25 251.78,440.25 C251.59,442.15 250.06,442.75 248.20,442.75 C246.34,442.75 244.81,442.15 244.62,440.25 C244.48,437.25 244.95,433.75 245.32,431.25 C245.60,429.05 246.34,428.05 246.71,426.25 C247.08,424.25 247.55,422.65 248.20,422.65Z" fill="url(#gm)"/>
<path d="M257.60,442.25 L257.60,449.75 M254.80,441.55 L253.60,444.05 M260.40,441.55 L261.60,444.05" stroke="#8a8a8a" stroke-width="0.8" fill="none"/>
<path d="M257.60,422.65 C258.25,422.65 258.72,424.25 259.09,426.25 C259.46,428.05 260.20,429.05 260.48,431.25 C260.86,433.75 261.32,437.25 261.18,440.25 C260.99,442.15 259.46,442.75 257.60,442.75 C255.74,442.75 254.21,442.15 254.02,440.25 C253.88,437.25 254.35,433.75 254.72,431.25 C255.00,429.05 255.74,428.05 256.11,426.25 C256.48,424.25 256.95,422.65 257.60,422.65Z" fill="url(#gm)"/>
<path d="M267.00,442.25 L267.00,449.75 M264.20,441.55 L263.00,444.05 M269.80,441.55 L271.00,444.05" stroke="#8a8a8a" stroke-width="0.8" fill="none"/>
<path d="M267.00,422.65 C267.65,422.65 268.12,424.25 268.49,426.25 C268.86,428.05 269.60,429.05 269.88,431.25 C270.25,433.75 270.72,437.25 270.58,440.25 C270.39,442.15 268.86,442.75 267.00,442.75 C265.14,442.75 263.61,442.15 263.42,440.25 C263.28,437.25 263.75,433.75 264.12,431.25 C264.40,429.05 265.14,428.05 265.51,426.25 C265.88,424.25 266.35,422.65 267.00,422.65Z" fill="url(#gm)"/>
<path d="M276.40,442.25 L276.40,449.75 M273.60,441.55 L272.40,444.05 M279.20,441.55 L280.40,444.05" stroke="#8a8a8a" stroke-width="0.8" fill="none"/>
<path d="M276.40,422.65 C277.05,422.65 277.52,424.25 277.89,426.25 C278.26,428.05 279.00,429.05 279.28,431.25 C279.66,433.75 280.12,437.25 279.98,440.25 C279.79,442.15 278.26,442.75 276.40,442.75 C274.54,442.75 273.01,442.15 272.82,440.25 C272.68,437.25 273.15,433.75 273.52,431.25 C273.80,429.05 274.54,428.05 274.91,426.25 C275.28,424.25 275.75,422.65 276.40,422.65Z" fill="url(#gm)"/>
<ellipse cx="248.20" cy="423.05" rx="0.8" ry="0.8" fill="#4a14ff" opacity="1"/>
<ellipse cx="276.40" cy="423.05" rx="0.8" ry="0.8" fill="#4a14ff" opacity="1"/>
</g>
<rect x="184.00" y="451.50" width="47.40" height="28.5" fill="url(#gbg)"/>
<g clip-path="url(#c28)">
<path d="M188.00,472.50 L188.00,480.00 M185.20,471.80 L184.00,474.30 M190.80,471.80 L192.00,474.30" stroke="#8a8a8a" stroke-width="0.8" fill="none"/>
<path d="M188.00,452.90 C188.65,452.90 189.12,454.50 189.49,456.50 C189.86,458.30 190.60,459.30 190.88,461.50 C191.25,464.00 191.72,467.50 191.58,470.50 C191.39,472.40 189.86,473.00 188.00,473.00 C186.14,473.00 184.61,472.40 184.42,470.50 C184.28,467.50 184.75,464.00 185.12,461.50 C185.40,459.30 186.14,458.30 186.51,456.50 C186.88,454.50 187.35,452.90 188.00,452.90Z" fill="url(#gm)"/>
<path d="M197.40,472.50 L197.40,480.00 M194.60,471.80 L193.40,474.30 M200.20,471.80 L201.40,474.30" stroke="#8a8a8a" stroke-width="0.8" fill="none"/>
<path d="M197.40,452.90 C198.05,452.90 198.52,454.50 198.89,456.50 C199.26,458.30 200.00,459.30 200.28,461.50 C200.66,464.00 201.12,467.50 200.98,470.50 C200.79,472.40 199.26,473.00 197.40,473.00 C195.54,473.00 194.01,472.40 193.82,470.50 C193.68,467.50 194.15,464.00 194.52,461.50 C194.80,459.30 195.54,458.30 195.91,456.50 C196.28,454.50 196.75,452.90 197.40,452.90Z" fill="url(#gm)"/>
<path d="M206.80,472.50 L206.80,480.00 M204.00,471.80 L202.80,474.30 M209.60,471.80 L210.80,474.30" stroke="#8a8a8a" stroke-width="0.8" fill="none"/>
<path d="M206.80,452.90 C207.45,452.90 207.92,454.50 208.29,456.50 C208.66,458.30 209.40,459.30 209.68,461.50 C210.06,464.00 210.52,467.50 210.38,470.50 C210.19,472.40 208.66,473.00 206.80,473.00 C204.94,473.00 203.41,472.40 203.22,470.50 C203.08,467.50 203.55,464.00 203.92,461.50 C204.20,459.30 204.94,458.30 205.31,456.50 C205.68,454.50 206.15,452.90 206.80,452.90Z" fill="url(#gm)"/>
<path d="M216.20,472.50 L216.20,480.00 M213.40,471.80 L212.20,474.30 M219.00,471.80 L220.20,474.30" stroke="#8a8a8a" stroke-width="0.8" fill="none"/>
<path d="M216.20,452.90 C216.85,452.90 217.32,454.50 217.69,456.50 C218.06,458.30 218.80,459.30 219.08,461.50 C219.45,464.00 219.92,467.50 219.78,470.50 C219.59,472.40 218.06,473.00 216.20,473.00 C214.34,473.00 212.81,472.40 212.62,470.50 C212.48,467.50 212.94,464.00 213.32,461.50 C213.60,459.30 214.34,458.30 214.71,456.50 C215.08,454.50 215.55,452.90 216.20,452.90Z" fill="url(#gm)"/>
<path d="M225.60,472.50 L225.60,480.00 M222.80,471.80 L221.60,474.30 M228.40,471.80 L229.60,474.30" stroke="#8a8a8a" stroke-width="0.8" fill="none"/>
<path d="M225.60,452.90 C226.25,452.90 226.72,454.50 227.09,456.50 C227.46,458.30 228.20,459.30 228.48,461.50 C228.85,464.00 229.32,467.50 229.18,470.50 C228.99,472.40 227.46,473.00 225.60,473.00 C223.74,473.00 222.21,472.40 222.02,470.50 C221.88,467.50 222.34,464.00 222.72,461.50 C223.00,459.30 223.74,458.30 224.11,456.50 C224.48,454.50 224.95,452.90 225.60,452.90Z" fill="url(#gm)"/>
<ellipse cx="187.50" cy="469.30" rx="2.8" ry="2.0" fill="#6010ff" opacity="1"/>
<ellipse cx="216.20" cy="453.30" rx="0.7" ry="0.7" fill="#4a14ff" opacity="1"/>
<ellipse cx="225.60" cy="453.50" rx="1.0" ry="1.0" fill="#4a14ff" opacity="1"/>
</g>
<rect x="234.80" y="451.50" width="47.40" height="28.5" fill="url(#gbg)"/>
<g clip-path="url(#c29)">
<path d="M238.80,472.50 L238.80,480.00 M236.00,471.80 L234.80,474.30 M241.60,471.80 L242.80,474.30" stroke="#8a8a8a" stroke-width="0.8" fill="none"/>
<path d="M238.80,452.90 C239.45,452.90 239.92,454.50 240.29,456.50 C240.66,458.30 241.40,459.30 241.68,461.50 C242.06,464.00 242.52,467.50 242.38,470.50 C242.19,472.40 240.66,473.00 238.80,473.00 C236.94,473.00 235.41,472.40 235.22,470.50 C235.08,467.50 235.55,464.00 235.92,461.50 C236.20,459.30 236.94,458.30 237.31,456.50 C237.68,454.50 238.15,452.90 238.80,452.90Z" fill="url(#gm)"/>
<path d="M248.20,472.50 L248.20,480.00 M245.40,471.80 L244.20,474.30 M251.00,471.80 L252.20,474.30" stroke="#8a8a8a" stroke-width="0.8" fill="none"/>
<path d="M248.20,452.90 C248.85,452.90 249.32,454.50 249.69,456.50 C250.06,458.30 250.80,459.30 251.08,461.50 C251.46,464.00 251.92,467.50 251.78,470.50 C251.59,472.40 250.06,473.00 248.20,473.00 C246.34,473.00 244.81,472.40 244.62,470.50 C244.48,467.50 244.95,464.00 245.32,461.50 C245.60,459.30 246.34,458.30 246.71,456.50 C247.08,454.50 247.55,452.90 248.20,452.90Z" fill="url(#gm)"/>
<path d="M257.60,472.50 L257.60,480.00 M254.80,471.80 L253.60,474.30 M260.40,471.80 L261.60,474.30" stroke="#8a8a8a" stroke-width="0.8" fill="none"/>
<path d="M257.60,452.90 C258.25,452.90 258.72,454.50 259.09,456.50 C259.46,458.30 260.20,459.30 260.48,461.50 C260.86,464.00 261.32,467.50 261.18,470.50 C260.99,472.40 259.46,473.00 257.60,473.00 C255.74,473.00 254.21,472.40 254.02,470.50 C253.88,467.50 254.35,464.00 254.72,461.50 C255.00,459.30 255.74,458.30 256.11,456.50 C256.48,454.50 256.95,452.90 257.60,452.90Z" fill="url(#gm)"/>
<path d="M267.00,472.50 L267.00,480.00 M264.20,471.80 L263.00,474.30 M269.80,471.80 L271.00,474.30" stroke="#8a8a8a" stroke-width="0.8" fill="none"/>
<path d="M267.00,452.90 C267.65,452.90 268.12,454.50 268.49,456.50 C268.86,458.30 269.60,459.30 269.88,461.50 C270.25,464.00 270.72,467.50 270.58,470.50 C270.39,472.40 268.86,473.00 267.00,473.00 C265.14,473.00 263.61,472.40 263.42,470.50 C263.28,467.50 263.75,464.00 264.12,461.50 C264.40,459.30 265.14,458.30 265.51,456.50 C265.88,454.50 266.35,452.90 267.00,452.90Z" fill="url(#gm)"/>
<path d="M276.40,472.50 L276.40,480.00 M273.60,471.80 L272.40,474.30 M279.20,471.80 L280.40,474.30" stroke="#8a8a8a" stroke-width="0.8" fill="none"/>
<path d="M276.40,452.90 C277.05,452.90 277.52,454.50 277.89,456.50 C278.26,458.30 279.00,459.30 279.28,461.50 C279.66,464.00 280.12,467.50 279.98,470.50 C279.79,472.40 278.26,473.00 276.40,473.00 C274.54,473.00 273.01,472.40 272.82,470.50 C272.68,467.50 273.15,464.00 273.52,461.50 C273.80,459.30 274.54,458.30 274.91,456.50 C275.28,454.50 275.75,452.90 276.40,452.90Z" fill="url(#gm)"/>
<ellipse cx="276.40" cy="453.50" rx="0.9" ry="0.9" fill="#4a14ff" opacity="1"/>
</g>
<rect x="184.00" y="481.75" width="47.40" height="28.5" fill="url(#gbg)"/>
<g clip-path="url(#c30)">
<path d="M188.00,502.75 L188.00,510.25 M185.20,502.05 L184.00,504.55 M190.80,502.05 L192.00,504.55" stroke="#8a8a8a" stroke-width="0.8" fill="none"/>
<path d="M188.00,483.15 C188.65,483.15 189.12,484.75 189.49,486.75 C189.86,488.55 190.60,489.55 190.88,491.75 C191.25,494.25 191.72,497.75 191.58,500.75 C191.39,502.65 189.86,503.25 188.00,503.25 C186.14,503.25 184.61,502.65 184.42,500.75 C184.28,497.75 184.75,494.25 185.12,491.75 C185.40,489.55 186.14,488.55 186.51,486.75 C186.88,484.75 187.35,483.15 188.00,483.15Z" fill="url(#gm)"/>
<path d="M197.40,502.75 L197.40,510.25 M194.60,502.05 L193.40,504.55 M200.20,502.05 L201.40,504.55" stroke="#8a8a8a" stroke-width="0.8" fill="none"/>
<path d="M197.40,483.15 C198.05,483.15 198.52,484.75 198.89,486.75 C199.26,488.55 200.00,489.55 200.28,491.75 C200.66,494.25 201.12,497.75 200.98,500.75 C200.79,502.65 199.26,503.25 197.40,503.25 C195.54,503.25 194.01,502.65 193.82,500.75 C193.68,497.75 194.15,494.25 194.52,491.75 C194.80,489.55 195.54,488.55 195.91,486.75 C196.28,484.75 196.75,483.15 197.40,483.15Z" fill="url(#gm)"/>
<path d="M206.80,502.75 L206.80,510.25 M204.00,502.05 L202.80,504.55 M209.60,502.05 L210.80,504.55" stroke="#8a8a8a" stroke-width="0.8" fill="none"/>
<path d="M206.80,483.15 C207.45,483.15 207.92,484.75 208.29,486.75 C208.66,488.55 209.40,489.55 209.68,491.75 C210.06,494.25 210.52,497.75 210.38,500.75 C210.19,502.65 208.66,503.25 206.80,503.25 C204.94,503.25 203.41,502.65 203.22,500.75 C203.08,497.75 203.55,494.25 203.92,491.75 C204.20,489.55 204.94,488.55 205.31,486.75 C205.68,484.75 206.15,483.15 206.80,483.15Z" fill="url(#gm)"/>
<path d="M216.20,502.75 L216.20,510.25 M213.40,502.05 L212.20,504.55 M219.00,502.05 L220.20,504.55" stroke="#8a8a8a" stroke-width="0.8" fill="none"/>
<path d="M216.20,483.15 C216.85,483.15 217.32,484.75 217.69,486.75 C218.06,488.55 218.80,489.55 219.08,491.75 C219.45,494.25 219.92,497.75 219.78,500.75 C219.59,502.65 218.06,503.25 216.20,503.25 C214.34,503.25 212.81,502.65 212.62,500.75 C212.48,497.75 212.94,494.25 213.32,491.75 C213.60,489.55 214.34,488.55 214.71,486.75 C215.08,484.75 215.55,483.15 216.20,483.15Z" fill="url(#gm)"/>
<path d="M225.60,502.75 L225.60,510.25 M222.80,502.05 L221.60,504.55 M228.40,502.05 L229.60,504.55" stroke="#8a8a8a" stroke-width="0.8" fill="none"/>
<path d="M225.60,483.15 C226.25,483.15 226.72,484.75 227.09,486.75 C227.46,488.55 228.20,489.55 228.48,491.75 C228.85,494.25 229.32,497.75 229.18,500.75 C228.99,502.65 227.46,503.25 225.60,503.25 C223.74,503.25 222.21,502.65 222.02,500.75 C221.88,497.75 222.34,494.25 222.72,491.75 C223.00,489.55 223.74,488.55 224.11,486.75 C224.48,484.75 224.95,483.15 225.60,483.15Z" fill="url(#gm)"/>
<ellipse cx="188.00" cy="500.05" rx="3.3" ry="3.2" fill="#6010ff" opacity="1"/>
<ellipse cx="188.00" cy="500.05" rx="2.145" ry="2.08" fill="#3040ff" opacity="1"/>
<ellipse cx="188.00" cy="500.05" rx="0.9899999999999999" ry="0.96" fill="#60e040" opacity="1"/>
<ellipse cx="187.00" cy="490.75" rx="0.8" ry="0.8" fill="#7230ff" opacity="1"/>
<ellipse cx="189.00" cy="493.25" rx="0.8" ry="0.9" fill="#7230ff" opacity="1"/>
<ellipse cx="187.50" cy="494.25" rx="0.6" ry="0.6" fill="#7230ff" opacity="1"/>
<ellipse cx="225.60" cy="484.55" rx="2.6" ry="1.8" fill="#6a20ff" opacity="1"/>
<ellipse cx="225.60" cy="484.55" rx="1.6900000000000002" ry="1.1700000000000002" fill="#5030ff" opacity="1"/>
<ellipse cx="225.60" cy="484.55" rx="0.78" ry="0.54" fill="#ff4020" opacity="1"/>
<ellipse cx="206.80" cy="483.25" rx="0.8" ry="0.8" fill="#4a14ff" opacity="1"/>
<ellipse cx="216.20" cy="507.25" rx="0.7" ry="0.7" fill="#4a14ff" opacity="1"/>
</g>
<rect x="234.80" y="481.75" width="47.40" height="28.5" fill="url(#gbg)"/>
<g clip-path="url(#c31)">
<path d="M238.80,502.75 L238.80,510.25 M236.00,502.05 L234.80,504.55 M241.60,502.05 L242.80,504.55" stroke="#8a8a8a" stroke-width="0.8" fill="none"/>
<path d="M238.80,483.15 C239.45,483.15 239.92,484.75 240.29,486.75 C240.66,488.55 241.40,489.55 241.68,491.75 C242.06,494.25 242.52,497.75 242.38,500.75 C242.19,502.65 240.66,503.25 238.80,503.25 C236.94,503.25 235.41,502.65 235.22,500.75 C235.08,497.75 235.55,494.25 235.92,491.75 C236.20,489.55 236.94,488.55 237.31,486.75 C237.68,484.75 238.15,483.15 238.80,483.15Z" fill="url(#gm)"/>
<path d="M248.20,502.75 L248.20,510.25 M245.40,502.05 L244.20,504.55 M251.00,502.05 L252.20,504.55" stroke="#8a8a8a" stroke-width="0.8" fill="none"/>
<path d="M248.20,483.15 C248.85,483.15 249.32,484.75 249.69,486.75 C250.06,488.55 250.80,489.55 251.08,491.75 C251.46,494.25 251.92,497.75 251.78,500.75 C251.59,502.65 250.06,503.25 248.20,503.25 C246.34,503.25 244.81,502.65 244.62,500.75 C244.48,497.75 244.95,494.25 245.32,491.75 C245.60,489.55 246.34,488.55 246.71,486.75 C247.08,484.75 247.55,483.15 248.20,483.15Z" fill="url(#gm)"/>
<path d="M257.60,502.75 L257.60,510.25 M254.80,502.05 L253.60,504.55 M260.40,502.05 L261.60,504.55" stroke="#8a8a8a" stroke-width="0.8" fill="none"/>
<path d="M257.60,483.15 C258.25,483.15 258.72,484.75 259.09,486.75 C259.46,488.55 260.20,489.55 260.48,491.75 C260.86,494.25 261.32,497.75 261.18,500.75 C260.99,502.65 259.46,503.25 257.60,503.25 C255.74,503.25 254.21,502.65 254.02,500.75 C253.88,497.75 254.35,494.25 254.72,491.75 C255.00,489.55 255.74,488.55 256.11,486.75 C256.48,484.75 256.95,483.15 257.60,483.15Z" fill="url(#gm)"/>
<path d="M267.00,502.75 L267.00,510.25 M264.20,502.05 L263.00,504.55 M269.80,502.05 L271.00,504.55" stroke="#8a8a8a" stroke-width="0.8" fill="none"/>
<path d="M267.00,483.15 C267.65,483.15 268.12,484.75 268.49,486.75 C268.86,488.55 269.60,489.55 269.88,491.75 C270.25,494.25 270.72,497.75 270.58,500.75 C270.39,502.65 268.86,503.25 267.00,503.25 C265.14,503.25 263.61,502.65 263.42,500.75 C263.28,497.75 263.75,494.25 264.12,491.75 C264.40,489.55 265.14,488.55 265.51,486.75 C265.88,484.75 266.35,483.15 267.00,483.15Z" fill="url(#gm)"/>
<path d="M276.40,502.75 L276.40,510.25 M273.60,502.05 L272.40,504.55 M279.20,502.05 L280.40,504.55" stroke="#8a8a8a" stroke-width="0.8" fill="none"/>
<path d="M276.40,483.15 C277.05,483.15 277.52,484.75 277.89,486.75 C278.26,488.55 279.00,489.55 279.28,491.75 C279.66,494.25 280.12,497.75 279.98,500.75 C279.79,502.65 278.26,503.25 276.40,503.25 C274.54,503.25 273.01,502.65 272.82,500.75 C272.68,497.75 273.15,494.25 273.52,491.75 C273.80,489.55 274.54,488.55 274.91,486.75 C275.28,484.75 275.75,483.15 276.40,483.15Z" fill="url(#gm)"/>
<ellipse cx="276.40" cy="484.25" rx="1.0" ry="1.0" fill="#4a14ff" opacity="1"/>
</g>
<rect x="184.00" y="512.00" width="47.40" height="28.5" fill="url(#gbg)"/>
<g clip-path="url(#c32)">
<path d="M188.00,533.00 L188.00,540.50 M185.20,532.30 L184.00,534.80 M190.80,532.30 L192.00,534.80" stroke="#8a8a8a" stroke-width="0.8" fill="none"/>
<path d="M188.00,513.40 C188.65,513.40 189.12,515.00 189.49,517.00 C189.86,518.80 190.60,519.80 190.88,522.00 C191.25,524.50 191.72,528.00 191.58,531.00 C191.39,532.90 189.86,533.50 188.00,533.50 C186.14,533.50 184.61,532.90 184.42,531.00 C184.28,528.00 184.75,524.50 185.12,522.00 C185.40,519.80 186.14,518.80 186.51,517.00 C186.88,515.00 187.35,513.40 188.00,513.40Z" fill="url(#gm)"/>
<path d="M197.40,533.00 L197.40,540.50 M194.60,532.30 L193.40,534.80 M200.20,532.30 L201.40,534.80" stroke="#8a8a8a" stroke-width="0.8" fill="none"/>
<path d="M197.40,513.40 C198.05,513.40 198.52,515.00 198.89,517.00 C199.26,518.80 200.00,519.80 200.28,522.00 C200.66,524.50 201.12,528.00 200.98,531.00 C200.79,532.90 199.26,533.50 197.40,533.50 C195.54,533.50 194.01,532.90 193.82,531.00 C193.68,528.00 194.15,524.50 194.52,522.00 C194.80,519.80 195.54,518.80 195.91,517.00 C196.28,515.00 196.75,513.40 197.40,513.40Z" fill="url(#gm)"/>
<path d="M206.80,533.00 L206.80,540.50 M204.00,532.30 L202.80,534.80 M209.60,532.30 L210.80,534.80" stroke="#8a8a8a" stroke-width="0.8" fill="none"/>
<path d="M206.80,513.40 C207.45,513.40 207.92,515.00 208.29,517.00 C208.66,518.80 209.40,519.80 209.68,522.00 C210.06,524.50 210.52,528.00 210.38,531.00 C210.19,532.90 208.66,533.50 206.80,533.50 C204.94,533.50 203.41,532.90 203.22,531.00 C203.08,528.00 203.55,524.50 203.92,522.00 C204.20,519.80 204.94,518.80 205.31,517.00 C205.68,515.00 206.15,513.40 206.80,513.40Z" fill="url(#gm)"/>
<path d="M216.20,533.00 L216.20,540.50 M213.40,532.30 L212.20,534.80 M219.00,532.30 L220.20,534.80" stroke="#8a8a8a" stroke-width="0.8" fill="none"/>
<path d="M216.20,513.40 C216.85,513.40 217.32,515.00 217.69,517.00 C218.06,518.80 218.80,519.80 219.08,522.00 C219.45,524.50 219.92,528.00 219.78,531.00 C219.59,532.90 218.06,533.50 216.20,533.50 C214.34,533.50 212.81,532.90 212.62,531.00 C212.48,528.00 212.94,524.50 213.32,522.00 C213.60,519.80 214.34,518.80 214.71,517.00 C215.08,515.00 215.55,513.40 216.20,513.40Z" fill="url(#gm)"/>
<path d="M225.60,533.00 L225.60,540.50 M222.80,532.30 L221.60,534.80 M228.40,532.30 L229.60,534.80" stroke="#8a8a8a" stroke-width="0.8" fill="none"/>
<path d="M225.60,513.40 C226.25,513.40 226.72,515.00 227.09,517.00 C227.46,518.80 228.20,519.80 228.48,522.00 C228.85,524.50 229.32,528.00 229.18,531.00 C228.99,532.90 227.46,533.50 225.60,533.50 C223.74,533.50 222.21,532.90 222.02,531.00 C221.88,528.00 222.34,524.50 222.72,522.00 C223.00,519.80 223.74,518.80 224.11,517.00 C224.48,515.00 224.95,513.40 225.60,513.40Z" fill="url(#gm)"/>
<ellipse cx="188.00" cy="531.50" rx="3.2" ry="2.9" fill="#6010ff" opacity="1"/>
<ellipse cx="188.00" cy="531.50" rx="2.08" ry="1.885" fill="#3040ff" opacity="1"/>
<ellipse cx="188.00" cy="531.50" rx="0.96" ry="0.87" fill="#30e0d0" opacity="1"/>
<ellipse cx="197.40" cy="520.00" rx="1.7" ry="1.7" fill="#5a10ff" opacity="1"/>
<ellipse cx="197.40" cy="520.00" rx="1.105" ry="1.105" fill="#4030ff" opacity="1"/>
<ellipse cx="197.40" cy="520.00" rx="0.51" ry="0.51" fill="#3060ff" opacity="1"/>
<ellipse cx="196.90" cy="531.00" rx="2.9" ry="2.7" fill="#5a10ff" opacity="1"/>
<ellipse cx="196.90" cy="531.00" rx="1.885" ry="1.7550000000000001" fill="#3040ff" opacity="1"/>
<ellipse cx="196.90" cy="531.00" rx="0.87" ry="0.81" fill="#3080ff" opacity="1"/>
<ellipse cx="200.40" cy="523.00" rx="0.7" ry="0.7" fill="#7230ff" opacity="1"/>
<ellipse cx="200.40" cy="533.50" rx="0.8" ry="1.2" fill="#7230ff" opacity="1"/>
<ellipse cx="225.60" cy="515.00" rx="2.8" ry="2.4" fill="#6a20ff" opacity="1"/>
<ellipse cx="225.60" cy="515.00" rx="1.8199999999999998" ry="1.56" fill="#4040ff" opacity="1"/>
<ellipse cx="225.60" cy="515.00" rx="0.84" ry="0.72" fill="#ff3010" opacity="1"/>
<ellipse cx="216.20" cy="538.00" rx="0.7" ry="0.7" fill="#4a14ff" opacity="1"/>
</g>
<rect x="234.80" y="512.00" width="47.40" height="28.5" fill="url(#gbg)"/>
<g clip-path="url(#c33)">
<path d="M238.80,533.00 L238.80,540.50 M236.00,532.30 L234.80,534.80 M241.60,532.30 L242.80,534.80" stroke="#8a8a8a" stroke-width="0.8" fill="none"/>
<path d="M238.80,513.40 C239.45,513.40 239.92,515.00 240.29,517.00 C240.66,518.80 241.40,519.80 241.68,522.00 C242.06,524.50 242.52,528.00 242.38,531.00 C242.19,532.90 240.66,533.50 238.80,533.50 C236.94,533.50 235.41,532.90 235.22,531.00 C235.08,528.00 235.55,524.50 235.92,522.00 C236.20,519.80 236.94,518.80 237.31,517.00 C237.68,515.00 238.15,513.40 238.80,513.40Z" fill="url(#gm)"/>
<path d="M248.20,533.00 L248.20,540.50 M245.40,532.30 L244.20,534.80 M251.00,532.30 L252.20,534.80" stroke="#8a8a8a" stroke-width="0.8" fill="none"/>
<path d="M248.20,513.40 C248.85,513.40 249.32,515.00 249.69,517.00 C250.06,518.80 250.80,519.80 251.08,522.00 C251.46,524.50 251.92,528.00 251.78,531.00 C251.59,532.90 250.06,533.50 248.20,533.50 C246.34,533.50 244.81,532.90 244.62,531.00 C244.48,528.00 244.95,524.50 245.32,522.00 C245.60,519.80 246.34,518.80 246.71,517.00 C247.08,515.00 247.55,513.40 248.20,513.40Z" fill="url(#gm)"/>
<path d="M257.60,533.00 L257.60,540.50 M254.80,532.30 L253.60,534.80 M260.40,532.30 L261.60,534.80" stroke="#8a8a8a" stroke-width="0.8" fill="none"/>
<path d="M257.60,513.40 C258.25,513.40 258.72,515.00 259.09,517.00 C259.46,518.80 260.20,519.80 260.48,522.00 C260.86,524.50 261.32,528.00 261.18,531.00 C260.99,532.90 259.46,533.50 257.60,533.50 C255.74,533.50 254.21,532.90 254.02,531.00 C253.88,528.00 254.35,524.50 254.72,522.00 C255.00,519.80 255.74,518.80 256.11,517.00 C256.48,515.00 256.95,513.40 257.60,513.40Z" fill="url(#gm)"/>
<path d="M267.00,533.00 L267.00,540.50 M264.20,532.30 L263.00,534.80 M269.80,532.30 L271.00,534.80" stroke="#8a8a8a" stroke-width="0.8" fill="none"/>
<path d="M267.00,513.40 C267.65,513.40 268.12,515.00 268.49,517.00 C268.86,518.80 269.60,519.80 269.88,522.00 C270.25,524.50 270.72,528.00 270.58,531.00 C270.39,532.90 268.86,533.50 267.00,533.50 C265.14,533.50 263.61,532.90 263.42,531.00 C263.28,528.00 263.75,524.50 264.12,522.00 C264.40,519.80 265.14,518.80 265.51,517.00 C265.88,515.00 266.35,513.40 267.00,513.40Z" fill="url(#gm)"/>
<path d="M276.40,533.00 L276.40,540.50 M273.60,532.30 L272.40,534.80 M279.20,532.30 L280.40,534.80" stroke="#8a8a8a" stroke-width="0.8" fill="none"/>
<path d="M276.40,513.40 C277.05,513.40 277.52,515.00 277.89,517.00 C278.26,518.80 279.00,519.80 279.28,522.00 C279.66,524.50 280.12,528.00 279.98,531.00 C279.79,532.90 278.26,533.50 276.40,533.50 C274.54,533.50 273.01,532.90 272.82,531.00 C272.68,528.00 273.15,524.50 273.52,522.00 C273.80,519.80 274.54,518.80 274.91,517.00 C275.28,515.00 275.75,513.40 276.40,513.40Z" fill="url(#gm)"/>
<ellipse cx="276.40" cy="514.20" rx="1.0" ry="1.0" fill="#4a14ff" opacity="1"/>
</g>
<rect x="331.40" y="330.50" width="47.40" height="28.5" fill="url(#gbg)"/>
<g clip-path="url(#c34)">
<path d="M335.40,351.50 L335.40,359.00 M332.60,350.80 L331.40,353.30 M338.20,350.80 L339.40,353.30" stroke="#aaa" stroke-width="0.8" fill="none"/>
<path d="M335.40,331.90 C336.06,331.90 336.54,333.50 336.92,335.50 C337.30,337.30 338.06,338.30 338.34,340.50 C338.72,343.00 339.20,346.50 339.06,349.50 C338.87,351.40 337.30,352.00 335.40,352.00 C333.50,352.00 331.93,351.40 331.74,349.50 C331.60,346.50 332.07,343.00 332.45,340.50 C332.74,338.30 333.50,337.30 333.88,335.50 C334.26,333.50 334.73,331.90 335.40,331.90Z" fill="url(#wm)"/>
<ellipse cx="335.40" cy="340.30" rx="3.3" ry="4.6" fill="#7230ff" opacity="1"/>
<ellipse cx="335.40" cy="341.30" rx="2.3" ry="2.6" fill="#4a14ff" opacity="1"/>
<ellipse cx="332.60" cy="349.10" rx="1.9" ry="2.2" fill="#7230ff" opacity="1"/>
<ellipse cx="338.20" cy="349.10" rx="1.9" ry="2.2" fill="#7230ff" opacity="1"/>
<ellipse cx="332.60" cy="349.10" rx="0.9" ry="1.0" fill="#4a14ff" opacity="1"/>
<ellipse cx="338.20" cy="349.10" rx="0.9" ry="1.0" fill="#4a14ff" opacity="1"/>
<path d="M335.40,351.50 L335.40,356.50" stroke="#8050ff" stroke-width="1.1"/>
<path d="M344.80,351.50 L344.80,359.00 M342.00,350.80 L340.80,353.30 M347.60,350.80 L348.80,353.30" stroke="#aaa" stroke-width="0.8" fill="none"/>
<path d="M344.80,331.90 C345.46,331.90 345.94,333.50 346.32,335.50 C346.70,337.30 347.46,338.30 347.74,340.50 C348.12,343.00 348.60,346.50 348.46,349.50 C348.27,351.40 346.70,352.00 344.80,352.00 C342.90,352.00 341.33,351.40 341.14,349.50 C341.00,346.50 341.47,343.00 341.85,340.50 C342.14,338.30 342.90,337.30 343.28,335.50 C343.66,333.50 344.13,331.90 344.80,331.90Z" fill="url(#wm)"/>
<ellipse cx="344.80" cy="340.30" rx="3.3" ry="4.6" fill="#7230ff" opacity="1"/>
<ellipse cx="344.80" cy="341.30" rx="2.3" ry="2.6" fill="#4a14ff" opacity="1"/>
<ellipse cx="342.00" cy="349.10" rx="1.9" ry="2.2" fill="#7230ff" opacity="1"/>
<ellipse cx="347.60" cy="349.10" rx="1.9" ry="2.2" fill="#7230ff" opacity="1"/>
<ellipse cx="342.00" cy="349.10" rx="0.9" ry="1.0" fill="#4a14ff" opacity="1"/>
<ellipse cx="347.60" cy="349.10" rx="0.9" ry="1.0" fill="#4a14ff" opacity="1"/>
<path d="M344.80,351.50 L344.80,356.50" stroke="#8050ff" stroke-width="1.1"/>
<path d="M354.20,351.50 L354.20,359.00 M351.40,350.80 L350.20,353.30 M357.00,350.80 L358.20,353.30" stroke="#aaa" stroke-width="0.8" fill="none"/>
<path d="M354.20,331.90 C354.87,331.90 355.34,333.50 355.72,335.50 C356.10,337.30 356.86,338.30 357.14,340.50 C357.52,343.00 358.00,346.50 357.86,349.50 C357.67,351.40 356.10,352.00 354.20,352.00 C352.30,352.00 350.73,351.40 350.54,349.50 C350.40,346.50 350.88,343.00 351.25,340.50 C351.54,338.30 352.30,337.30 352.68,335.50 C353.06,333.50 353.53,331.90 354.20,331.90Z" fill="url(#wm)"/>
<ellipse cx="354.20" cy="340.30" rx="3.3" ry="4.6" fill="#7230ff" opacity="1"/>
<ellipse cx="354.20" cy="341.30" rx="2.3" ry="2.6" fill="#4a14ff" opacity="1"/>
<ellipse cx="351.40" cy="349.10" rx="1.9" ry="2.2" fill="#7230ff" opacity="1"/>
<ellipse cx="357.00" cy="349.10" rx="1.9" ry="2.2" fill="#7230ff" opacity="1"/>
<ellipse cx="351.40" cy="349.10" rx="0.9" ry="1.0" fill="#4a14ff" opacity="1"/>
<ellipse cx="357.00" cy="349.10" rx="0.9" ry="1.0" fill="#4a14ff" opacity="1"/>
<path d="M354.20,351.50 L354.20,356.50" stroke="#8050ff" stroke-width="1.1"/>
<path d="M363.60,351.50 L363.60,359.00 M360.80,350.80 L359.60,353.30 M366.40,350.80 L367.60,353.30" stroke="#aaa" stroke-width="0.8" fill="none"/>
<path d="M363.60,331.90 C364.26,331.90 364.74,333.50 365.12,335.50 C365.50,337.30 366.26,338.30 366.54,340.50 C366.92,343.00 367.40,346.50 367.26,349.50 C367.07,351.40 365.50,352.00 363.60,352.00 C361.70,352.00 360.13,351.40 359.94,349.50 C359.80,346.50 360.27,343.00 360.65,340.50 C360.94,338.30 361.70,337.30 362.08,335.50 C362.46,333.50 362.93,331.90 363.60,331.90Z" fill="url(#wm)"/>
<ellipse cx="363.60" cy="340.30" rx="3.3" ry="4.6" fill="#7230ff" opacity="1"/>
<ellipse cx="363.60" cy="341.30" rx="2.3" ry="2.6" fill="#4a14ff" opacity="1"/>
<ellipse cx="360.80" cy="349.10" rx="1.9" ry="2.2" fill="#7230ff" opacity="1"/>
<ellipse cx="366.40" cy="349.10" rx="1.9" ry="2.2" fill="#7230ff" opacity="1"/>
<ellipse cx="360.80" cy="349.10" rx="0.9" ry="1.0" fill="#4a14ff" opacity="1"/>
<ellipse cx="366.40" cy="349.10" rx="0.9" ry="1.0" fill="#4a14ff" opacity="1"/>
<path d="M363.60,351.50 L363.60,356.50" stroke="#8050ff" stroke-width="1.1"/>
<path d="M373.00,351.50 L373.00,359.00 M370.20,350.80 L369.00,353.30 M375.80,350.80 L377.00,353.30" stroke="#aaa" stroke-width="0.8" fill="none"/>
<path d="M373.00,331.90 C373.67,331.90 374.14,333.50 374.52,335.50 C374.90,337.30 375.66,338.30 375.94,340.50 C376.32,343.00 376.80,346.50 376.66,349.50 C376.47,351.40 374.90,352.00 373.00,352.00 C371.10,352.00 369.53,351.40 369.34,349.50 C369.20,346.50 369.68,343.00 370.06,340.50 C370.34,338.30 371.10,337.30 371.48,335.50 C371.86,333.50 372.33,331.90 373.00,331.90Z" fill="url(#wm)"/>
<ellipse cx="373.00" cy="340.30" rx="3.3" ry="4.6" fill="#7230ff" opacity="1"/>
<ellipse cx="373.00" cy="341.30" rx="2.3" ry="2.6" fill="#4a14ff" opacity="1"/>
<ellipse cx="370.20" cy="349.10" rx="1.9" ry="2.2" fill="#7230ff" opacity="1"/>
<ellipse cx="375.80" cy="349.10" rx="1.9" ry="2.2" fill="#7230ff" opacity="1"/>
<ellipse cx="370.20" cy="349.10" rx="0.9" ry="1.0" fill="#4a14ff" opacity="1"/>
<ellipse cx="375.80" cy="349.10" rx="0.9" ry="1.0" fill="#4a14ff" opacity="1"/>
<path d="M373.00,351.50 L373.00,356.50" stroke="#8050ff" stroke-width="1.1"/>
</g>
<rect x="382.00" y="330.50" width="47.40" height="28.5" fill="url(#gbg)"/>
<g clip-path="url(#c35)">
<path d="M386.00,351.50 L386.00,359.00 M383.20,350.80 L382.00,353.30 M388.80,350.80 L390.00,353.30" stroke="#aaa" stroke-width="0.8" fill="none"/>
<path d="M386.00,331.90 C386.67,331.90 387.14,333.50 387.52,335.50 C387.90,337.30 388.66,338.30 388.94,340.50 C389.32,343.00 389.80,346.50 389.66,349.50 C389.47,351.40 387.90,352.00 386.00,352.00 C384.10,352.00 382.53,351.40 382.34,349.50 C382.20,346.50 382.68,343.00 383.06,340.50 C383.34,338.30 384.10,337.30 384.48,335.50 C384.86,333.50 385.33,331.90 386.00,331.90Z" fill="url(#wm)"/>
<ellipse cx="386.00" cy="340.30" rx="3.3" ry="4.6" fill="#7230ff" opacity="1"/>
<ellipse cx="386.00" cy="341.30" rx="2.3" ry="2.6" fill="#4a14ff" opacity="1"/>
<ellipse cx="383.20" cy="349.10" rx="1.9" ry="2.2" fill="#7230ff" opacity="1"/>
<ellipse cx="388.80" cy="349.10" rx="1.9" ry="2.2" fill="#7230ff" opacity="1"/>
<ellipse cx="383.20" cy="349.10" rx="0.9" ry="1.0" fill="#4a14ff" opacity="1"/>
<ellipse cx="388.80" cy="349.10" rx="0.9" ry="1.0" fill="#4a14ff" opacity="1"/>
<path d="M386.00,351.50 L386.00,356.50" stroke="#8050ff" stroke-width="1.1"/>
<path d="M395.40,351.50 L395.40,359.00 M392.60,350.80 L391.40,353.30 M398.20,350.80 L399.40,353.30" stroke="#aaa" stroke-width="0.8" fill="none"/>
<path d="M395.40,331.90 C396.06,331.90 396.54,333.50 396.92,335.50 C397.30,337.30 398.06,338.30 398.34,340.50 C398.72,343.00 399.20,346.50 399.06,349.50 C398.87,351.40 397.30,352.00 395.40,352.00 C393.50,352.00 391.93,351.40 391.74,349.50 C391.60,346.50 392.07,343.00 392.45,340.50 C392.74,338.30 393.50,337.30 393.88,335.50 C394.26,333.50 394.73,331.90 395.40,331.90Z" fill="url(#wm)"/>
<ellipse cx="395.40" cy="340.30" rx="3.3" ry="4.6" fill="#7230ff" opacity="1"/>
<ellipse cx="395.40" cy="341.30" rx="2.3" ry="2.6" fill="#4a14ff" opacity="1"/>
<ellipse cx="392.60" cy="349.10" rx="1.9" ry="2.2" fill="#7230ff" opacity="1"/>
<ellipse cx="398.20" cy="349.10" rx="1.9" ry="2.2" fill="#7230ff" opacity="1"/>
<ellipse cx="392.60" cy="349.10" rx="0.9" ry="1.0" fill="#4a14ff" opacity="1"/>
<ellipse cx="398.20" cy="349.10" rx="0.9" ry="1.0" fill="#4a14ff" opacity="1"/>
<path d="M395.40,351.50 L395.40,356.50" stroke="#8050ff" stroke-width="1.1"/>
<path d="M404.80,351.50 L404.80,359.00 M402.00,350.80 L400.80,353.30 M407.60,350.80 L408.80,353.30" stroke="#aaa" stroke-width="0.8" fill="none"/>
<path d="M404.80,331.90 C405.47,331.90 405.94,333.50 406.32,335.50 C406.70,337.30 407.46,338.30 407.75,340.50 C408.12,343.00 408.60,346.50 408.46,349.50 C408.27,351.40 406.70,352.00 404.80,352.00 C402.90,352.00 401.33,351.40 401.14,349.50 C401.00,346.50 401.48,343.00 401.86,340.50 C402.14,338.30 402.90,337.30 403.28,335.50 C403.66,333.50 404.13,331.90 404.80,331.90Z" fill="url(#wm)"/>
<ellipse cx="404.80" cy="340.30" rx="3.3" ry="4.6" fill="#7230ff" opacity="1"/>
<ellipse cx="404.80" cy="341.30" rx="2.3" ry="2.6" fill="#4a14ff" opacity="1"/>
<ellipse cx="402.00" cy="349.10" rx="1.9" ry="2.2" fill="#7230ff" opacity="1"/>
<ellipse cx="407.60" cy="349.10" rx="1.9" ry="2.2" fill="#7230ff" opacity="1"/>
<ellipse cx="402.00" cy="349.10" rx="0.9" ry="1.0" fill="#4a14ff" opacity="1"/>
<ellipse cx="407.60" cy="349.10" rx="0.9" ry="1.0" fill="#4a14ff" opacity="1"/>
<path d="M404.80,351.50 L404.80,356.50" stroke="#8050ff" stroke-width="1.1"/>
<path d="M414.20,351.50 L414.20,359.00 M411.40,350.80 L410.20,353.30 M417.00,350.80 L418.20,353.30" stroke="#aaa" stroke-width="0.8" fill="none"/>
<path d="M414.20,331.90 C414.87,331.90 415.34,333.50 415.72,335.50 C416.10,337.30 416.86,338.30 417.14,340.50 C417.52,343.00 418.00,346.50 417.86,349.50 C417.67,351.40 416.10,352.00 414.20,352.00 C412.30,352.00 410.73,351.40 410.54,349.50 C410.40,346.50 410.88,343.00 411.25,340.50 C411.54,338.30 412.30,337.30 412.68,335.50 C413.06,333.50 413.53,331.90 414.20,331.90Z" fill="url(#wm)"/>
<ellipse cx="414.20" cy="340.30" rx="3.3" ry="4.6" fill="#7230ff" opacity="1"/>
<ellipse cx="414.20" cy="341.30" rx="2.3" ry="2.6" fill="#4a14ff" opacity="1"/>
<ellipse cx="411.40" cy="349.10" rx="1.9" ry="2.2" fill="#7230ff" opacity="1"/>
<ellipse cx="417.00" cy="349.10" rx="1.9" ry="2.2" fill="#7230ff" opacity="1"/>
<ellipse cx="411.40" cy="349.10" rx="0.9" ry="1.0" fill="#4a14ff" opacity="1"/>
<ellipse cx="417.00" cy="349.10" rx="0.9" ry="1.0" fill="#4a14ff" opacity="1"/>
<path d="M414.20,351.50 L414.20,356.50" stroke="#8050ff" stroke-width="1.1"/>
<path d="M423.60,351.50 L423.60,359.00 M420.80,350.80 L419.60,353.30 M426.40,350.80 L427.60,353.30" stroke="#aaa" stroke-width="0.8" fill="none"/>
<path d="M423.60,331.90 C424.27,331.90 424.74,333.50 425.12,335.50 C425.50,337.30 426.26,338.30 426.55,340.50 C426.93,343.00 427.40,346.50 427.26,349.50 C427.07,351.40 425.50,352.00 423.60,352.00 C421.70,352.00 420.13,351.40 419.94,349.50 C419.80,346.50 420.28,343.00 420.66,340.50 C420.94,338.30 421.70,337.30 422.08,335.50 C422.46,333.50 422.94,331.90 423.60,331.90Z" fill="url(#wm)"/>
<ellipse cx="423.60" cy="340.30" rx="3.3" ry="4.6" fill="#7230ff" opacity="1"/>
<ellipse cx="423.60" cy="341.30" rx="2.3" ry="2.6" fill="#4a14ff" opacity="1"/>
<ellipse cx="420.80" cy="349.10" rx="1.9" ry="2.2" fill="#7230ff" opacity="1"/>
<ellipse cx="426.40" cy="349.10" rx="1.9" ry="2.2" fill="#7230ff" opacity="1"/>
<ellipse cx="420.80" cy="349.10" rx="0.9" ry="1.0" fill="#4a14ff" opacity="1"/>
<ellipse cx="426.40" cy="349.10" rx="0.9" ry="1.0" fill="#4a14ff" opacity="1"/>
<path d="M423.60,351.50 L423.60,356.50" stroke="#8050ff" stroke-width="1.1"/>
</g>
<rect x="433.00" y="330.50" width="29.00" height="28.5" fill="url(#gbg)"/>
<g clip-path="url(#c36)">
<path d="M437.00,351.50 L437.00,359.00 M434.20,350.80 L433.00,353.30 M439.80,350.80 L441.00,353.30" stroke="#aaa" stroke-width="0.8" fill="none"/>
<path d="M437.00,331.90 C437.67,331.90 438.14,333.50 438.52,335.50 C438.90,337.30 439.66,338.30 439.94,340.50 C440.32,343.00 440.80,346.50 440.66,349.50 C440.47,351.40 438.90,352.00 437.00,352.00 C435.10,352.00 433.53,351.40 433.34,349.50 C433.20,346.50 433.68,343.00 434.06,340.50 C434.34,338.30 435.10,337.30 435.48,335.50 C435.86,333.50 436.33,331.90 437.00,331.90Z" fill="url(#wm)"/>
<ellipse cx="437.00" cy="340.30" rx="3.3" ry="4.6" fill="#7230ff" opacity="1"/>
<ellipse cx="437.00" cy="341.30" rx="2.3" ry="2.6" fill="#4a14ff" opacity="1"/>
<ellipse cx="434.20" cy="349.10" rx="1.9" ry="2.2" fill="#7230ff" opacity="1"/>
<ellipse cx="439.80" cy="349.10" rx="1.9" ry="2.2" fill="#7230ff" opacity="1"/>
<ellipse cx="434.20" cy="349.10" rx="0.9" ry="1.0" fill="#4a14ff" opacity="1"/>
<ellipse cx="439.80" cy="349.10" rx="0.9" ry="1.0" fill="#4a14ff" opacity="1"/>
<path d="M437.00,351.50 L437.00,356.50" stroke="#8050ff" stroke-width="1.1"/>
<path d="M446.40,351.50 L446.40,359.00 M443.60,350.80 L442.40,353.30 M449.20,350.80 L450.40,353.30" stroke="#aaa" stroke-width="0.8" fill="none"/>
<path d="M446.40,331.90 C447.06,331.90 447.54,333.50 447.92,335.50 C448.30,337.30 449.06,338.30 449.34,340.50 C449.72,343.00 450.20,346.50 450.06,349.50 C449.87,351.40 448.30,352.00 446.40,352.00 C444.50,352.00 442.93,351.40 442.74,349.50 C442.60,346.50 443.07,343.00 443.45,340.50 C443.74,338.30 444.50,337.30 444.88,335.50 C445.26,333.50 445.73,331.90 446.40,331.90Z" fill="url(#wm)"/>
<ellipse cx="446.40" cy="340.30" rx="3.3" ry="4.6" fill="#7230ff" opacity="1"/>
<ellipse cx="446.40" cy="341.30" rx="2.3" ry="2.6" fill="#4a14ff" opacity="1"/>
<ellipse cx="443.60" cy="349.10" rx="1.9" ry="2.2" fill="#7230ff" opacity="1"/>
<ellipse cx="449.20" cy="349.10" rx="1.9" ry="2.2" fill="#7230ff" opacity="1"/>
<ellipse cx="443.60" cy="349.10" rx="0.9" ry="1.0" fill="#4a14ff" opacity="1"/>
<ellipse cx="449.20" cy="349.10" rx="0.9" ry="1.0" fill="#4a14ff" opacity="1"/>
<path d="M446.40,351.50 L446.40,356.50" stroke="#8050ff" stroke-width="1.1"/>
<path d="M455.80,351.50 L455.80,359.00 M453.00,350.80 L451.80,353.30 M458.60,350.80 L459.80,353.30" stroke="#aaa" stroke-width="0.8" fill="none"/>
<path d="M455.80,331.90 C456.47,331.90 456.94,333.50 457.32,335.50 C457.70,337.30 458.46,338.30 458.75,340.50 C459.12,343.00 459.60,346.50 459.46,349.50 C459.27,351.40 457.70,352.00 455.80,352.00 C453.90,352.00 452.33,351.40 452.14,349.50 C452.00,346.50 452.48,343.00 452.86,340.50 C453.14,338.30 453.90,337.30 454.28,335.50 C454.66,333.50 455.13,331.90 455.80,331.90Z" fill="url(#wm)"/>
<ellipse cx="455.80" cy="340.30" rx="3.3" ry="4.6" fill="#7230ff" opacity="1"/>
<ellipse cx="455.80" cy="341.30" rx="2.3" ry="2.6" fill="#4a14ff" opacity="1"/>
<ellipse cx="453.00" cy="349.10" rx="1.9" ry="2.2" fill="#7230ff" opacity="1"/>
<ellipse cx="458.60" cy="349.10" rx="1.9" ry="2.2" fill="#7230ff" opacity="1"/>
<ellipse cx="453.00" cy="349.10" rx="0.9" ry="1.0" fill="#4a14ff" opacity="1"/>
<ellipse cx="458.60" cy="349.10" rx="0.9" ry="1.0" fill="#4a14ff" opacity="1"/>
<path d="M455.80,351.50 L455.80,356.50" stroke="#8050ff" stroke-width="1.1"/>
</g>
<rect x="331.40" y="360.75" width="47.40" height="28.5" fill="url(#gbg)"/>
<g clip-path="url(#c37)">
<path d="M335.40,381.75 L335.40,389.25 M332.60,381.05 L331.40,383.55 M338.20,381.05 L339.40,383.55" stroke="#8a6aff" stroke-width="0.8" fill="none"/>
<path d="M335.40,362.35 C336.90,362.35 337.60,363.75 338.00,366.25 C338.40,368.75 339.50,370.75 339.50,374.75 C339.50,379.75 339.80,382.75 338.90,383.25 L331.90,383.25 C331.00,382.75 331.30,379.75 331.30,374.75 C331.30,370.75 332.40,368.75 332.80,366.25 C333.20,363.75 333.90,362.35 335.40,362.35Z" fill="#5a20ff"/>
<path d="M335.40,362.15 C336.13,362.15 336.66,363.75 337.08,365.75 C337.50,367.55 338.34,368.55 338.65,370.75 C339.07,373.25 339.60,376.75 339.44,379.75 C339.23,381.65 337.50,382.25 335.40,382.25 C333.30,382.25 331.57,381.65 331.36,379.75 C331.20,376.75 331.72,373.25 332.14,370.75 C332.46,368.55 333.30,367.55 333.72,365.75 C334.14,363.75 334.66,362.15 335.40,362.15Z" fill="#2a28ff"/>
<ellipse cx="335.40" cy="366.25" rx="2.0" ry="2.6" fill="#3050ff" opacity="1"/>
<ellipse cx="335.40" cy="372.05" rx="3.2" ry="2.0" fill="#2f7cff" opacity="1"/>
<ellipse cx="335.40" cy="372.05" rx="2.4" ry="1.4" fill="#35d0d0" opacity="1"/>
<ellipse cx="335.40" cy="372.05" rx="1.3" ry="0.8" fill="#90f060" opacity="1"/>
<path d="M333.40,375.75 Q335.40,377.55 337.40,375.75" stroke="#f6f0d8" stroke-width="1.2" fill="none"/>
<ellipse cx="332.00" cy="378.55" rx="1.4" ry="1.5" fill="#3090ff" opacity="1"/>
<ellipse cx="338.80" cy="378.55" rx="1.4" ry="1.5" fill="#3090ff" opacity="1"/>
<ellipse cx="332.00" cy="378.55" rx="0.8" ry="0.8" fill="#40e0c0" opacity="1"/>
<ellipse cx="338.80" cy="378.55" rx="0.8" ry="0.8" fill="#40e0c0" opacity="1"/>
<ellipse cx="332.00" cy="378.55" rx="0.5" ry="0.5" fill="#ff5a1a" opacity="1"/>
<ellipse cx="338.80" cy="378.55" rx="0.5" ry="0.5" fill="#f5e020" opacity="1"/>
<path d="M344.80,381.75 L344.80,389.25 M342.00,381.05 L340.80,383.55 M347.60,381.05 L348.80,383.55" stroke="#8a6aff" stroke-width="0.8" fill="none"/>
<path d="M344.80,362.35 C346.30,362.35 347.00,363.75 347.40,366.25 C347.80,368.75 348.90,370.75 348.90,374.75 C348.90,379.75 349.20,382.75 348.30,383.25 L341.30,383.25 C340.40,382.75 340.70,379.75 340.70,374.75 C340.70,370.75 341.80,368.75 342.20,366.25 C342.60,363.75 343.30,362.35 344.80,362.35Z" fill="#5a20ff"/>
<path d="M344.80,362.15 C345.53,362.15 346.06,363.75 346.48,365.75 C346.90,367.55 347.74,368.55 348.05,370.75 C348.47,373.25 349.00,376.75 348.84,379.75 C348.63,381.65 346.90,382.25 344.80,382.25 C342.70,382.25 340.97,381.65 340.76,379.75 C340.60,376.75 341.12,373.25 341.54,370.75 C341.86,368.55 342.70,367.55 343.12,365.75 C343.54,363.75 344.06,362.15 344.80,362.15Z" fill="#2a28ff"/>
<ellipse cx="344.80" cy="366.25" rx="2.0" ry="2.6" fill="#3050ff" opacity="1"/>
<ellipse cx="344.80" cy="372.05" rx="3.2" ry="2.0" fill="#2f7cff" opacity="1"/>
<ellipse cx="344.80" cy="372.05" rx="2.4" ry="1.4" fill="#35d0d0" opacity="1"/>
<ellipse cx="344.80" cy="372.05" rx="1.3" ry="0.8" fill="#90f060" opacity="1"/>
<path d="M342.80,375.75 Q344.80,377.55 346.80,375.75" stroke="#f6f0d8" stroke-width="1.2" fill="none"/>
<ellipse cx="341.40" cy="378.55" rx="1.4" ry="1.5" fill="#3090ff" opacity="1"/>
<ellipse cx="348.20" cy="378.55" rx="1.4" ry="1.5" fill="#3090ff" opacity="1"/>
<ellipse cx="341.40" cy="378.55" rx="0.8" ry="0.8" fill="#40e0c0" opacity="1"/>
<ellipse cx="348.20" cy="378.55" rx="0.8" ry="0.8" fill="#40e0c0" opacity="1"/>
<path d="M354.20,381.75 L354.20,389.25 M351.40,381.05 L350.20,383.55 M357.00,381.05 L358.20,383.55" stroke="#8a6aff" stroke-width="0.8" fill="none"/>
<path d="M354.20,362.35 C355.70,362.35 356.40,363.75 356.80,366.25 C357.20,368.75 358.30,370.75 358.30,374.75 C358.30,379.75 358.60,382.75 357.70,383.25 L350.70,383.25 C349.80,382.75 350.10,379.75 350.10,374.75 C350.10,370.75 351.20,368.75 351.60,366.25 C352.00,363.75 352.70,362.35 354.20,362.35Z" fill="#5a20ff"/>
<path d="M354.20,362.15 C354.94,362.15 355.46,363.75 355.88,365.75 C356.30,367.55 357.14,368.55 357.45,370.75 C357.88,373.25 358.40,376.75 358.24,379.75 C358.03,381.65 356.30,382.25 354.20,382.25 C352.10,382.25 350.37,381.65 350.16,379.75 C350.00,376.75 350.52,373.25 350.94,370.75 C351.26,368.55 352.10,367.55 352.52,365.75 C352.94,363.75 353.46,362.15 354.20,362.15Z" fill="#2a28ff"/>
<ellipse cx="354.20" cy="366.25" rx="2.0" ry="2.6" fill="#3050ff" opacity="1"/>
<ellipse cx="354.20" cy="372.05" rx="3.2" ry="2.0" fill="#2f7cff" opacity="1"/>
<ellipse cx="354.20" cy="372.05" rx="2.4" ry="1.4" fill="#35d0d0" opacity="1"/>
<ellipse cx="354.20" cy="372.05" rx="1.3" ry="0.8" fill="#90f060" opacity="1"/>
<path d="M352.20,375.75 Q354.20,377.55 356.20,375.75" stroke="#f6f0d8" stroke-width="1.2" fill="none"/>
<ellipse cx="350.80" cy="378.55" rx="1.4" ry="1.5" fill="#3090ff" opacity="1"/>
<ellipse cx="357.60" cy="378.55" rx="1.4" ry="1.5" fill="#3090ff" opacity="1"/>
<ellipse cx="350.80" cy="378.55" rx="0.8" ry="0.8" fill="#40e0c0" opacity="1"/>
<ellipse cx="357.60" cy="378.55" rx="0.8" ry="0.8" fill="#40e0c0" opacity="1"/>
<ellipse cx="350.80" cy="378.55" rx="0.5" ry="0.5" fill="#ff5a1a" opacity="1"/>
<ellipse cx="357.60" cy="378.55" rx="0.5" ry="0.5" fill="#f5e020" opacity="1"/>
<path d="M363.60,381.75 L363.60,389.25 M360.80,381.05 L359.60,383.55 M366.40,381.05 L367.60,383.55" stroke="#8a6aff" stroke-width="0.8" fill="none"/>
<path d="M363.60,362.35 C365.10,362.35 365.80,363.75 366.20,366.25 C366.60,368.75 367.70,370.75 367.70,374.75 C367.70,379.75 368.00,382.75 367.10,383.25 L360.10,383.25 C359.20,382.75 359.50,379.75 359.50,374.75 C359.50,370.75 360.60,368.75 361.00,366.25 C361.40,363.75 362.10,362.35 363.60,362.35Z" fill="#5a20ff"/>
<path d="M363.60,362.15 C364.33,362.15 364.86,363.75 365.28,365.75 C365.70,367.55 366.54,368.55 366.85,370.75 C367.27,373.25 367.80,376.75 367.64,379.75 C367.43,381.65 365.70,382.25 363.60,382.25 C361.50,382.25 359.77,381.65 359.56,379.75 C359.40,376.75 359.92,373.25 360.34,370.75 C360.66,368.55 361.50,367.55 361.92,365.75 C362.34,363.75 362.86,362.15 363.60,362.15Z" fill="#2a28ff"/>
<ellipse cx="363.60" cy="366.25" rx="2.0" ry="2.6" fill="#3050ff" opacity="1"/>
<ellipse cx="363.60" cy="372.05" rx="3.2" ry="2.0" fill="#2f7cff" opacity="1"/>
<ellipse cx="363.60" cy="372.05" rx="2.4" ry="1.4" fill="#35d0d0" opacity="1"/>
<ellipse cx="363.60" cy="372.05" rx="1.3" ry="0.8" fill="#90f060" opacity="1"/>
<path d="M361.60,375.75 Q363.60,377.55 365.60,375.75" stroke="#f6f0d8" stroke-width="1.2" fill="none"/>
<ellipse cx="360.20" cy="378.55" rx="1.4" ry="1.5" fill="#3090ff" opacity="1"/>
<ellipse cx="367.00" cy="378.55" rx="1.4" ry="1.5" fill="#3090ff" opacity="1"/>
<ellipse cx="360.20" cy="378.55" rx="0.8" ry="0.8" fill="#40e0c0" opacity="1"/>
<ellipse cx="367.00" cy="378.55" rx="0.8" ry="0.8" fill="#40e0c0" opacity="1"/>
<path d="M373.00,381.75 L373.00,389.25 M370.20,381.05 L369.00,383.55 M375.80,381.05 L377.00,383.55" stroke="#8a6aff" stroke-width="0.8" fill="none"/>
<path d="M373.00,362.35 C374.50,362.35 375.20,363.75 375.60,366.25 C376.00,368.75 377.10,370.75 377.10,374.75 C377.10,379.75 377.40,382.75 376.50,383.25 L369.50,383.25 C368.60,382.75 368.90,379.75 368.90,374.75 C368.90,370.75 370.00,368.75 370.40,366.25 C370.80,363.75 371.50,362.35 373.00,362.35Z" fill="#5a20ff"/>
<path d="M373.00,362.15 C373.74,362.15 374.26,363.75 374.68,365.75 C375.10,367.55 375.94,368.55 376.25,370.75 C376.68,373.25 377.20,376.75 377.04,379.75 C376.83,381.65 375.10,382.25 373.00,382.25 C370.90,382.25 369.17,381.65 368.96,379.75 C368.80,376.75 369.32,373.25 369.75,370.75 C370.06,368.55 370.90,367.55 371.32,365.75 C371.74,363.75 372.26,362.15 373.00,362.15Z" fill="#2a28ff"/>
<ellipse cx="373.00" cy="366.25" rx="2.0" ry="2.6" fill="#3050ff" opacity="1"/>
<ellipse cx="373.00" cy="372.05" rx="3.2" ry="2.0" fill="#2f7cff" opacity="1"/>
<ellipse cx="373.00" cy="372.05" rx="2.4" ry="1.4" fill="#35d0d0" opacity="1"/>
<ellipse cx="373.00" cy="372.05" rx="1.3" ry="0.8" fill="#90f060" opacity="1"/>
<path d="M371.00,375.75 Q373.00,377.55 375.00,375.75" stroke="#f6f0d8" stroke-width="1.2" fill="none"/>
<ellipse cx="369.60" cy="378.55" rx="1.4" ry="1.5" fill="#3090ff" opacity="1"/>
<ellipse cx="376.40" cy="378.55" rx="1.4" ry="1.5" fill="#3090ff" opacity="1"/>
<ellipse cx="369.60" cy="378.55" rx="0.8" ry="0.8" fill="#40e0c0" opacity="1"/>
<ellipse cx="376.40" cy="378.55" rx="0.8" ry="0.8" fill="#40e0c0" opacity="1"/>
<ellipse cx="369.60" cy="378.55" rx="0.5" ry="0.5" fill="#ff5a1a" opacity="1"/>
<ellipse cx="376.40" cy="378.55" rx="0.5" ry="0.5" fill="#f5e020" opacity="1"/>
</g>
<rect x="382.00" y="360.75" width="47.40" height="28.5" fill="url(#gbg)"/>
<g clip-path="url(#c38)">
<path d="M386.00,381.75 L386.00,389.25 M383.20,381.05 L382.00,383.55 M388.80,381.05 L390.00,383.55" stroke="#8a6aff" stroke-width="0.8" fill="none"/>
<path d="M386.00,362.35 C387.50,362.35 388.20,363.75 388.60,366.25 C389.00,368.75 390.10,370.75 390.10,374.75 C390.10,379.75 390.40,382.75 389.50,383.25 L382.50,383.25 C381.60,382.75 381.90,379.75 381.90,374.75 C381.90,370.75 383.00,368.75 383.40,366.25 C383.80,363.75 384.50,362.35 386.00,362.35Z" fill="#5a20ff"/>
<path d="M386.00,362.15 C386.74,362.15 387.26,363.75 387.68,365.75 C388.10,367.55 388.94,368.55 389.25,370.75 C389.68,373.25 390.20,376.75 390.04,379.75 C389.83,381.65 388.10,382.25 386.00,382.25 C383.90,382.25 382.17,381.65 381.96,379.75 C381.80,376.75 382.32,373.25 382.75,370.75 C383.06,368.55 383.90,367.55 384.32,365.75 C384.74,363.75 385.26,362.15 386.00,362.15Z" fill="#2a28ff"/>
<ellipse cx="386.00" cy="366.25" rx="2.0" ry="2.6" fill="#3050ff" opacity="1"/>
<ellipse cx="386.00" cy="372.05" rx="3.2" ry="2.0" fill="#2f7cff" opacity="1"/>
<ellipse cx="386.00" cy="372.05" rx="2.4" ry="1.4" fill="#35d0d0" opacity="1"/>
<ellipse cx="386.00" cy="372.05" rx="1.3" ry="0.8" fill="#90f060" opacity="1"/>
<path d="M384.00,375.75 Q386.00,377.55 388.00,375.75" stroke="#f6f0d8" stroke-width="1.2" fill="none"/>
<ellipse cx="382.60" cy="378.55" rx="1.4" ry="1.5" fill="#3090ff" opacity="1"/>
<ellipse cx="389.40" cy="378.55" rx="1.4" ry="1.5" fill="#3090ff" opacity="1"/>
<ellipse cx="382.60" cy="378.55" rx="0.8" ry="0.8" fill="#40e0c0" opacity="1"/>
<ellipse cx="389.40" cy="378.55" rx="0.8" ry="0.8" fill="#40e0c0" opacity="1"/>
<ellipse cx="382.60" cy="378.55" rx="0.5" ry="0.5" fill="#ff5a1a" opacity="1"/>
<ellipse cx="389.40" cy="378.55" rx="0.5" ry="0.5" fill="#f5e020" opacity="1"/>
<path d="M395.40,381.75 L395.40,389.25 M392.60,381.05 L391.40,383.55 M398.20,381.05 L399.40,383.55" stroke="#8a6aff" stroke-width="0.8" fill="none"/>
<path d="M395.40,362.35 C396.90,362.35 397.60,363.75 398.00,366.25 C398.40,368.75 399.50,370.75 399.50,374.75 C399.50,379.75 399.80,382.75 398.90,383.25 L391.90,383.25 C391.00,382.75 391.30,379.75 391.30,374.75 C391.30,370.75 392.40,368.75 392.80,366.25 C393.20,363.75 393.90,362.35 395.40,362.35Z" fill="#5a20ff"/>
<path d="M395.40,362.15 C396.13,362.15 396.66,363.75 397.08,365.75 C397.50,367.55 398.34,368.55 398.65,370.75 C399.07,373.25 399.60,376.75 399.44,379.75 C399.23,381.65 397.50,382.25 395.40,382.25 C393.30,382.25 391.57,381.65 391.36,379.75 C391.20,376.75 391.72,373.25 392.14,370.75 C392.46,368.55 393.30,367.55 393.72,365.75 C394.14,363.75 394.66,362.15 395.40,362.15Z" fill="#2a28ff"/>
<ellipse cx="395.40" cy="366.25" rx="2.0" ry="2.6" fill="#3050ff" opacity="1"/>
<ellipse cx="395.40" cy="372.05" rx="3.2" ry="2.0" fill="#2f7cff" opacity="1"/>
<ellipse cx="395.40" cy="372.05" rx="2.4" ry="1.4" fill="#35d0d0" opacity="1"/>
<ellipse cx="395.40" cy="372.05" rx="1.3" ry="0.8" fill="#90f060" opacity="1"/>
<path d="M393.40,375.75 Q395.40,377.55 397.40,375.75" stroke="#f6f0d8" stroke-width="1.2" fill="none"/>
<ellipse cx="392.00" cy="378.55" rx="1.4" ry="1.5" fill="#3090ff" opacity="1"/>
<ellipse cx="398.80" cy="378.55" rx="1.4" ry="1.5" fill="#3090ff" opacity="1"/>
<ellipse cx="392.00" cy="378.55" rx="0.8" ry="0.8" fill="#40e0c0" opacity="1"/>
<ellipse cx="398.80" cy="378.55" rx="0.8" ry="0.8" fill="#40e0c0" opacity="1"/>
<path d="M404.80,381.75 L404.80,389.25 M402.00,381.05 L400.80,383.55 M407.60,381.05 L408.80,383.55" stroke="#8a6aff" stroke-width="0.8" fill="none"/>
<path d="M404.80,362.35 C406.30,362.35 407.00,363.75 407.40,366.25 C407.80,368.75 408.90,370.75 408.90,374.75 C408.90,379.75 409.20,382.75 408.30,383.25 L401.30,383.25 C400.40,382.75 400.70,379.75 400.70,374.75 C400.70,370.75 401.80,368.75 402.20,366.25 C402.60,363.75 403.30,362.35 404.80,362.35Z" fill="#5a20ff"/>
<path d="M404.80,362.15 C405.54,362.15 406.06,363.75 406.48,365.75 C406.90,367.55 407.74,368.55 408.06,370.75 C408.48,373.25 409.00,376.75 408.84,379.75 C408.63,381.65 406.90,382.25 404.80,382.25 C402.70,382.25 400.97,381.65 400.76,379.75 C400.60,376.75 401.12,373.25 401.55,370.75 C401.86,368.55 402.70,367.55 403.12,365.75 C403.54,363.75 404.06,362.15 404.80,362.15Z" fill="#2a28ff"/>
<ellipse cx="404.80" cy="366.25" rx="2.0" ry="2.6" fill="#3050ff" opacity="1"/>
<ellipse cx="404.80" cy="372.05" rx="3.2" ry="2.0" fill="#2f7cff" opacity="1"/>
<ellipse cx="404.80" cy="372.05" rx="2.4" ry="1.4" fill="#35d0d0" opacity="1"/>
<ellipse cx="404.80" cy="372.05" rx="1.3" ry="0.8" fill="#90f060" opacity="1"/>
<path d="M402.80,375.75 Q404.80,377.55 406.80,375.75" stroke="#f6f0d8" stroke-width="1.2" fill="none"/>
<ellipse cx="401.40" cy="378.55" rx="1.4" ry="1.5" fill="#3090ff" opacity="1"/>
<ellipse cx="408.20" cy="378.55" rx="1.4" ry="1.5" fill="#3090ff" opacity="1"/>
<ellipse cx="401.40" cy="378.55" rx="0.8" ry="0.8" fill="#40e0c0" opacity="1"/>
<ellipse cx="408.20" cy="378.55" rx="0.8" ry="0.8" fill="#40e0c0" opacity="1"/>
<ellipse cx="401.40" cy="378.55" rx="0.5" ry="0.5" fill="#ff5a1a" opacity="1"/>
<ellipse cx="408.20" cy="378.55" rx="0.5" ry="0.5" fill="#f5e020" opacity="1"/>
<path d="M414.20,381.75 L414.20,389.25 M411.40,381.05 L410.20,383.55 M417.00,381.05 L418.20,383.55" stroke="#8a6aff" stroke-width="0.8" fill="none"/>
<path d="M414.20,362.35 C415.70,362.35 416.40,363.75 416.80,366.25 C417.20,368.75 418.30,370.75 418.30,374.75 C418.30,379.75 418.60,382.75 417.70,383.25 L410.70,383.25 C409.80,382.75 410.10,379.75 410.10,374.75 C410.10,370.75 411.20,368.75 411.60,366.25 C412.00,363.75 412.70,362.35 414.20,362.35Z" fill="#5a20ff"/>
<path d="M414.20,362.15 C414.94,362.15 415.46,363.75 415.88,365.75 C416.30,367.55 417.14,368.55 417.45,370.75 C417.88,373.25 418.40,376.75 418.24,379.75 C418.03,381.65 416.30,382.25 414.20,382.25 C412.10,382.25 410.37,381.65 410.16,379.75 C410.00,376.75 410.52,373.25 410.94,370.75 C411.26,368.55 412.10,367.55 412.52,365.75 C412.94,363.75 413.46,362.15 414.20,362.15Z" fill="#2a28ff"/>
<ellipse cx="414.20" cy="366.25" rx="2.0" ry="2.6" fill="#3050ff" opacity="1"/>
<ellipse cx="414.20" cy="372.05" rx="3.2" ry="2.0" fill="#2f7cff" opacity="1"/>
<ellipse cx="414.20" cy="372.05" rx="2.4" ry="1.4" fill="#35d0d0" opacity="1"/>
<ellipse cx="414.20" cy="372.05" rx="1.3" ry="0.8" fill="#90f060" opacity="1"/>
<path d="M412.20,375.75 Q414.20,377.55 416.20,375.75" stroke="#f6f0d8" stroke-width="1.2" fill="none"/>
<ellipse cx="410.80" cy="378.55" rx="1.4" ry="1.5" fill="#3090ff" opacity="1"/>
<ellipse cx="417.60" cy="378.55" rx="1.4" ry="1.5" fill="#3090ff" opacity="1"/>
<ellipse cx="410.80" cy="378.55" rx="0.8" ry="0.8" fill="#40e0c0" opacity="1"/>
<ellipse cx="417.60" cy="378.55" rx="0.8" ry="0.8" fill="#40e0c0" opacity="1"/>
<path d="M423.60,381.75 L423.60,389.25 M420.80,381.05 L419.60,383.55 M426.40,381.05 L427.60,383.55" stroke="#8a6aff" stroke-width="0.8" fill="none"/>
<path d="M423.60,362.35 C425.10,362.35 425.80,363.75 426.20,366.25 C426.60,368.75 427.70,370.75 427.70,374.75 C427.70,379.75 428.00,382.75 427.10,383.25 L420.10,383.25 C419.20,382.75 419.50,379.75 419.50,374.75 C419.50,370.75 420.60,368.75 421.00,366.25 C421.40,363.75 422.10,362.35 423.60,362.35Z" fill="#5a20ff"/>
<path d="M423.60,362.15 C424.34,362.15 424.86,363.75 425.28,365.75 C425.70,367.55 426.54,368.55 426.86,370.75 C427.28,373.25 427.80,376.75 427.64,379.75 C427.43,381.65 425.70,382.25 423.60,382.25 C421.50,382.25 419.77,381.65 419.56,379.75 C419.40,376.75 419.93,373.25 420.35,370.75 C420.66,368.55 421.50,367.55 421.92,365.75 C422.34,363.75 422.87,362.15 423.60,362.15Z" fill="#2a28ff"/>
<ellipse cx="423.60" cy="366.25" rx="2.0" ry="2.6" fill="#3050ff" opacity="1"/>
<ellipse cx="423.60" cy="372.05" rx="3.2" ry="2.0" fill="#2f7cff" opacity="1"/>
<ellipse cx="423.60" cy="372.05" rx="2.4" ry="1.4" fill="#35d0d0" opacity="1"/>
<ellipse cx="423.60" cy="372.05" rx="1.3" ry="0.8" fill="#90f060" opacity="1"/>
<path d="M421.60,375.75 Q423.60,377.55 425.60,375.75" stroke="#f6f0d8" stroke-width="1.2" fill="none"/>
<ellipse cx="420.20" cy="378.55" rx="1.4" ry="1.5" fill="#3090ff" opacity="1"/>
<ellipse cx="427.00" cy="378.55" rx="1.4" ry="1.5" fill="#3090ff" opacity="1"/>
<ellipse cx="420.20" cy="378.55" rx="0.8" ry="0.8" fill="#40e0c0" opacity="1"/>
<ellipse cx="427.00" cy="378.55" rx="0.8" ry="0.8" fill="#40e0c0" opacity="1"/>
<ellipse cx="420.20" cy="378.55" rx="0.5" ry="0.5" fill="#ff5a1a" opacity="1"/>
<ellipse cx="427.00" cy="378.55" rx="0.5" ry="0.5" fill="#f5e020" opacity="1"/>
</g>
<rect x="433.00" y="360.75" width="29.00" height="28.5" fill="url(#gbg)"/>
<g clip-path="url(#c39)">
<path d="M437.00,381.75 L437.00,389.25 M434.20,381.05 L433.00,383.55 M439.80,381.05 L441.00,383.55" stroke="#8a6aff" stroke-width="0.8" fill="none"/>
<path d="M437.00,362.35 C438.50,362.35 439.20,363.75 439.60,366.25 C440.00,368.75 441.10,370.75 441.10,374.75 C441.10,379.75 441.40,382.75 440.50,383.25 L433.50,383.25 C432.60,382.75 432.90,379.75 432.90,374.75 C432.90,370.75 434.00,368.75 434.40,366.25 C434.80,363.75 435.50,362.35 437.00,362.35Z" fill="#5a20ff"/>
<path d="M437.00,362.15 C437.74,362.15 438.26,363.75 438.68,365.75 C439.10,367.55 439.94,368.55 440.25,370.75 C440.68,373.25 441.20,376.75 441.04,379.75 C440.83,381.65 439.10,382.25 437.00,382.25 C434.90,382.25 433.17,381.65 432.96,379.75 C432.80,376.75 433.32,373.25 433.75,370.75 C434.06,368.55 434.90,367.55 435.32,365.75 C435.74,363.75 436.26,362.15 437.00,362.15Z" fill="#2a28ff"/>
<ellipse cx="437.00" cy="366.25" rx="2.0" ry="2.6" fill="#3050ff" opacity="1"/>
<ellipse cx="437.00" cy="372.05" rx="3.2" ry="2.0" fill="#2f7cff" opacity="1"/>
<ellipse cx="437.00" cy="372.05" rx="2.4" ry="1.4" fill="#35d0d0" opacity="1"/>
<ellipse cx="437.00" cy="372.05" rx="1.3" ry="0.8" fill="#90f060" opacity="1"/>
<path d="M435.00,375.75 Q437.00,377.55 439.00,375.75" stroke="#f6f0d8" stroke-width="1.2" fill="none"/>
<ellipse cx="433.60" cy="378.55" rx="1.4" ry="1.5" fill="#3090ff" opacity="1"/>
<ellipse cx="440.40" cy="378.55" rx="1.4" ry="1.5" fill="#3090ff" opacity="1"/>
<ellipse cx="433.60" cy="378.55" rx="0.8" ry="0.8" fill="#40e0c0" opacity="1"/>
<ellipse cx="440.40" cy="378.55" rx="0.8" ry="0.8" fill="#40e0c0" opacity="1"/>
<ellipse cx="433.60" cy="378.55" rx="0.5" ry="0.5" fill="#ff5a1a" opacity="1"/>
<ellipse cx="440.40" cy="378.55" rx="0.5" ry="0.5" fill="#f5e020" opacity="1"/>
<path d="M446.40,381.75 L446.40,389.25 M443.60,381.05 L442.40,383.55 M449.20,381.05 L450.40,383.55" stroke="#8a6aff" stroke-width="0.8" fill="none"/>
<path d="M446.40,362.35 C447.90,362.35 448.60,363.75 449.00,366.25 C449.40,368.75 450.50,370.75 450.50,374.75 C450.50,379.75 450.80,382.75 449.90,383.25 L442.90,383.25 C442.00,382.75 442.30,379.75 442.30,374.75 C442.30,370.75 443.40,368.75 443.80,366.25 C444.20,363.75 444.90,362.35 446.40,362.35Z" fill="#5a20ff"/>
<path d="M446.40,362.15 C447.13,362.15 447.66,363.75 448.08,365.75 C448.50,367.55 449.34,368.55 449.65,370.75 C450.07,373.25 450.60,376.75 450.44,379.75 C450.23,381.65 448.50,382.25 446.40,382.25 C444.30,382.25 442.57,381.65 442.36,379.75 C442.20,376.75 442.72,373.25 443.14,370.75 C443.46,368.55 444.30,367.55 444.72,365.75 C445.14,363.75 445.66,362.15 446.40,362.15Z" fill="#2a28ff"/>
<ellipse cx="446.40" cy="366.25" rx="2.0" ry="2.6" fill="#3050ff" opacity="1"/>
<ellipse cx="446.40" cy="372.05" rx="3.2" ry="2.0" fill="#2f7cff" opacity="1"/>
<ellipse cx="446.40" cy="372.05" rx="2.4" ry="1.4" fill="#35d0d0" opacity="1"/>
<ellipse cx="446.40" cy="372.05" rx="1.3" ry="0.8" fill="#90f060" opacity="1"/>
<path d="M444.40,375.75 Q446.40,377.55 448.40,375.75" stroke="#f6f0d8" stroke-width="1.2" fill="none"/>
<ellipse cx="443.00" cy="378.55" rx="1.4" ry="1.5" fill="#3090ff" opacity="1"/>
<ellipse cx="449.80" cy="378.55" rx="1.4" ry="1.5" fill="#3090ff" opacity="1"/>
<ellipse cx="443.00" cy="378.55" rx="0.8" ry="0.8" fill="#40e0c0" opacity="1"/>
<ellipse cx="449.80" cy="378.55" rx="0.8" ry="0.8" fill="#40e0c0" opacity="1"/>
<path d="M455.80,381.75 L455.80,389.25 M453.00,381.05 L451.80,383.55 M458.60,381.05 L459.80,383.55" stroke="#8a6aff" stroke-width="0.8" fill="none"/>
<path d="M455.80,362.35 C457.30,362.35 458.00,363.75 458.40,366.25 C458.80,368.75 459.90,370.75 459.90,374.75 C459.90,379.75 460.20,382.75 459.30,383.25 L452.30,383.25 C451.40,382.75 451.70,379.75 451.70,374.75 C451.70,370.75 452.80,368.75 453.20,366.25 C453.60,363.75 454.30,362.35 455.80,362.35Z" fill="#5a20ff"/>
<path d="M455.80,362.15 C456.54,362.15 457.06,363.75 457.48,365.75 C457.90,367.55 458.74,368.55 459.06,370.75 C459.48,373.25 460.00,376.75 459.84,379.75 C459.63,381.65 457.90,382.25 455.80,382.25 C453.70,382.25 451.97,381.65 451.76,379.75 C451.60,376.75 452.12,373.25 452.55,370.75 C452.86,368.55 453.70,367.55 454.12,365.75 C454.54,363.75 455.06,362.15 455.80,362.15Z" fill="#2a28ff"/>
<ellipse cx="455.80" cy="366.25" rx="2.0" ry="2.6" fill="#3050ff" opacity="1"/>
<ellipse cx="455.80" cy="372.05" rx="3.2" ry="2.0" fill="#2f7cff" opacity="1"/>
<ellipse cx="455.80" cy="372.05" rx="2.4" ry="1.4" fill="#35d0d0" opacity="1"/>
<ellipse cx="455.80" cy="372.05" rx="1.3" ry="0.8" fill="#90f060" opacity="1"/>
<path d="M453.80,375.75 Q455.80,377.55 457.80,375.75" stroke="#f6f0d8" stroke-width="1.2" fill="none"/>
<ellipse cx="452.40" cy="378.55" rx="1.4" ry="1.5" fill="#3090ff" opacity="1"/>
<ellipse cx="459.20" cy="378.55" rx="1.4" ry="1.5" fill="#3090ff" opacity="1"/>
<ellipse cx="452.40" cy="378.55" rx="0.8" ry="0.8" fill="#40e0c0" opacity="1"/>
<ellipse cx="459.20" cy="378.55" rx="0.8" ry="0.8" fill="#40e0c0" opacity="1"/>
<ellipse cx="452.40" cy="378.55" rx="0.5" ry="0.5" fill="#ff5a1a" opacity="1"/>
<ellipse cx="459.20" cy="378.55" rx="0.5" ry="0.5" fill="#f5e020" opacity="1"/>
</g>
<rect x="331.40" y="391.00" width="47.40" height="28.5" fill="url(#bbg)"/>
<g clip-path="url(#c40)">
<path d="M335.40,412.00 L335.40,419.50 M332.90,413.00 L332.20,417.00 M337.90,413.00 L338.60,417.00" stroke="#38d8d8" stroke-width="0.9" fill="none"/>
<path d="M335.40,392.60 C336.82,392.60 337.49,394.00 337.87,396.50 C338.25,399.00 339.29,401.00 339.29,405.00 C339.29,410.00 339.58,413.70 338.72,414.20 L332.07,414.20 C331.22,413.70 331.50,410.00 331.50,405.00 C331.50,401.00 332.55,399.00 332.93,396.50 C333.31,394.00 333.97,392.60 335.40,392.60Z" fill="#ff1a0a" stroke="#3ce0a8" stroke-width="0.7"/>
<path d="M331.79,405.40 Q335.40,407.60 339.01,405.40" stroke="#48e0a0" stroke-width="0.9" fill="none"/>
<path d="M344.80,412.00 L344.80,419.50 M342.30,413.00 L341.60,417.00 M347.30,413.00 L348.00,417.00" stroke="#38d8d8" stroke-width="0.9" fill="none"/>
<path d="M344.80,392.60 C346.22,392.60 346.89,394.00 347.27,396.50 C347.65,399.00 348.69,401.00 348.69,405.00 C348.69,410.00 348.98,413.70 348.12,414.20 L341.47,414.20 C340.62,413.70 340.90,410.00 340.90,405.00 C340.90,401.00 341.95,399.00 342.33,396.50 C342.71,394.00 343.37,392.60 344.80,392.60Z" fill="#ff1a0a" stroke="#3ce0a8" stroke-width="0.7"/>
<path d="M341.19,405.40 Q344.80,407.60 348.41,405.40" stroke="#48e0a0" stroke-width="0.9" fill="none"/>
<path d="M354.20,412.00 L354.20,419.50 M351.70,413.00 L351.00,417.00 M356.70,413.00 L357.40,417.00" stroke="#38d8d8" stroke-width="0.9" fill="none"/>
<path d="M354.20,392.60 C355.62,392.60 356.29,394.00 356.67,396.50 C357.05,399.00 358.09,401.00 358.09,405.00 C358.09,410.00 358.38,413.70 357.52,414.20 L350.88,414.20 C350.02,413.70 350.31,410.00 350.31,405.00 C350.31,401.00 351.35,399.00 351.73,396.50 C352.11,394.00 352.77,392.60 354.20,392.60Z" fill="#ff1a0a" stroke="#3ce0a8" stroke-width="0.7"/>
<path d="M350.59,405.40 Q354.20,407.60 357.81,405.40" stroke="#48e0a0" stroke-width="0.9" fill="none"/>
<path d="M363.60,412.00 L363.60,419.50 M361.10,413.00 L360.40,417.00 M366.10,413.00 L366.80,417.00" stroke="#38d8d8" stroke-width="0.9" fill="none"/>
<path d="M363.60,392.60 C365.02,392.60 365.69,394.00 366.07,396.50 C366.45,399.00 367.49,401.00 367.49,405.00 C367.49,410.00 367.78,413.70 366.92,414.20 L360.27,414.20 C359.42,413.70 359.70,410.00 359.70,405.00 C359.70,401.00 360.75,399.00 361.13,396.50 C361.51,394.00 362.17,392.60 363.60,392.60Z" fill="#ff1a0a" stroke="#3ce0a8" stroke-width="0.7"/>
<path d="M359.99,405.40 Q363.60,407.60 367.21,405.40" stroke="#48e0a0" stroke-width="0.9" fill="none"/>
<path d="M373.00,412.00 L373.00,419.50 M370.50,413.00 L369.80,417.00 M375.50,413.00 L376.20,417.00" stroke="#38d8d8" stroke-width="0.9" fill="none"/>
<path d="M373.00,392.60 C374.43,392.60 375.09,394.00 375.47,396.50 C375.85,399.00 376.89,401.00 376.89,405.00 C376.89,410.00 377.18,413.70 376.32,414.20 L369.68,414.20 C368.82,413.70 369.11,410.00 369.11,405.00 C369.11,401.00 370.15,399.00 370.53,396.50 C370.91,394.00 371.57,392.60 373.00,392.60Z" fill="#ff1a0a" stroke="#3ce0a8" stroke-width="0.7"/>
<path d="M369.39,405.40 Q373.00,407.60 376.61,405.40" stroke="#48e0a0" stroke-width="0.9" fill="none"/>
</g>
<rect x="382.00" y="391.00" width="47.40" height="28.5" fill="url(#bbg)"/>
<g clip-path="url(#c41)">
<path d="M386.00,412.00 L386.00,419.50 M383.50,413.00 L382.80,417.00 M388.50,413.00 L389.20,417.00" stroke="#38d8d8" stroke-width="0.9" fill="none"/>
<path d="M386.00,392.60 C387.43,392.60 388.09,394.00 388.47,396.50 C388.85,399.00 389.89,401.00 389.89,405.00 C389.89,410.00 390.18,413.70 389.32,414.20 L382.68,414.20 C381.82,413.70 382.11,410.00 382.11,405.00 C382.11,401.00 383.15,399.00 383.53,396.50 C383.91,394.00 384.57,392.60 386.00,392.60Z" fill="#ff1a0a" stroke="#3ce0a8" stroke-width="0.7"/>
<path d="M382.39,405.40 Q386.00,407.60 389.61,405.40" stroke="#48e0a0" stroke-width="0.9" fill="none"/>
<path d="M395.40,412.00 L395.40,419.50 M392.90,413.00 L392.20,417.00 M397.90,413.00 L398.60,417.00" stroke="#38d8d8" stroke-width="0.9" fill="none"/>
<path d="M395.40,392.60 C396.82,392.60 397.49,394.00 397.87,396.50 C398.25,399.00 399.29,401.00 399.29,405.00 C399.29,410.00 399.58,413.70 398.72,414.20 L392.07,414.20 C391.22,413.70 391.50,410.00 391.50,405.00 C391.50,401.00 392.55,399.00 392.93,396.50 C393.31,394.00 393.97,392.60 395.40,392.60Z" fill="#ff1a0a" stroke="#3ce0a8" stroke-width="0.7"/>
<path d="M391.79,405.40 Q395.40,407.60 399.01,405.40" stroke="#48e0a0" stroke-width="0.9" fill="none"/>
<path d="M404.80,412.00 L404.80,419.50 M402.30,413.00 L401.60,417.00 M407.30,413.00 L408.00,417.00" stroke="#38d8d8" stroke-width="0.9" fill="none"/>
<path d="M404.80,392.60 C406.23,392.60 406.89,394.00 407.27,396.50 C407.65,399.00 408.69,401.00 408.69,405.00 C408.69,410.00 408.98,413.70 408.12,414.20 L401.48,414.20 C400.62,413.70 400.91,410.00 400.91,405.00 C400.91,401.00 401.95,399.00 402.33,396.50 C402.71,394.00 403.38,392.60 404.80,392.60Z" fill="#ff1a0a" stroke="#3ce0a8" stroke-width="0.7"/>
<path d="M401.19,405.40 Q404.80,407.60 408.41,405.40" stroke="#48e0a0" stroke-width="0.9" fill="none"/>
<path d="M414.20,412.00 L414.20,419.50 M411.70,413.00 L411.00,417.00 M416.70,413.00 L417.40,417.00" stroke="#38d8d8" stroke-width="0.9" fill="none"/>
<path d="M414.20,392.60 C415.62,392.60 416.29,394.00 416.67,396.50 C417.05,399.00 418.09,401.00 418.09,405.00 C418.09,410.00 418.38,413.70 417.52,414.20 L410.88,414.20 C410.02,413.70 410.31,410.00 410.31,405.00 C410.31,401.00 411.35,399.00 411.73,396.50 C412.11,394.00 412.77,392.60 414.20,392.60Z" fill="#ff1a0a" stroke="#3ce0a8" stroke-width="0.7"/>
<path d="M410.59,405.40 Q414.20,407.60 417.81,405.40" stroke="#48e0a0" stroke-width="0.9" fill="none"/>
<path d="M423.60,412.00 L423.60,419.50 M421.10,413.00 L420.40,417.00 M426.10,413.00 L426.80,417.00" stroke="#38d8d8" stroke-width="0.9" fill="none"/>
<path d="M423.60,392.60 C425.03,392.60 425.69,394.00 426.07,396.50 C426.45,399.00 427.50,401.00 427.50,405.00 C427.50,410.00 427.78,413.70 426.93,414.20 L420.28,414.20 C419.42,413.70 419.71,410.00 419.71,405.00 C419.71,401.00 420.75,399.00 421.13,396.50 C421.51,394.00 422.18,392.60 423.60,392.60Z" fill="#ff1a0a" stroke="#3ce0a8" stroke-width="0.7"/>
<path d="M419.99,405.40 Q423.60,407.60 427.21,405.40" stroke="#48e0a0" stroke-width="0.9" fill="none"/>
</g>
<rect x="433.00" y="391.00" width="29.00" height="28.5" fill="url(#bbg)"/>
<g clip-path="url(#c42)">
<path d="M437.00,412.00 L437.00,419.50 M434.50,413.00 L433.80,417.00 M439.50,413.00 L440.20,417.00" stroke="#38d8d8" stroke-width="0.9" fill="none"/>
<path d="M437.00,392.60 C438.65,392.60 439.42,394.00 439.86,396.50 C440.30,399.00 441.51,401.00 441.51,405.00 C441.51,410.00 441.84,413.70 440.85,414.20 L433.15,414.20 C432.16,413.70 432.49,410.00 432.49,405.00 C432.49,401.00 433.70,399.00 434.14,396.50 C434.58,394.00 435.35,392.60 437.00,392.60Z" fill="#ff1a0a" stroke="#3ce0a8" stroke-width="0.7"/>
<path d="M432.82,405.40 Q437.00,407.60 441.18,405.40" stroke="#48e0a0" stroke-width="0.9" fill="none"/>
<path d="M446.40,412.00 L446.40,419.50 M443.90,413.00 L443.20,417.00 M448.90,413.00 L449.60,417.00" stroke="#38d8d8" stroke-width="0.9" fill="none"/>
<path d="M446.40,392.60 C448.05,392.60 448.82,394.00 449.26,396.50 C449.70,399.00 450.91,401.00 450.91,405.00 C450.91,410.00 451.24,413.70 450.25,414.20 L442.55,414.20 C441.56,413.70 441.89,410.00 441.89,405.00 C441.89,401.00 443.10,399.00 443.54,396.50 C443.98,394.00 444.75,392.60 446.40,392.60Z" fill="#ff1a0a" stroke="#3ce0a8" stroke-width="0.7"/>
<path d="M442.22,405.40 Q446.40,407.60 450.58,405.40" stroke="#48e0a0" stroke-width="0.9" fill="none"/>
<path d="M455.80,412.00 L455.80,419.50 M453.30,413.00 L452.60,417.00 M458.30,413.00 L459.00,417.00" stroke="#38d8d8" stroke-width="0.9" fill="none"/>
<path d="M455.80,392.60 C457.45,392.60 458.22,394.00 458.66,396.50 C459.10,399.00 460.31,401.00 460.31,405.00 C460.31,410.00 460.64,413.70 459.65,414.20 L451.95,414.20 C450.96,413.70 451.29,410.00 451.29,405.00 C451.29,401.00 452.50,399.00 452.94,396.50 C453.38,394.00 454.15,392.60 455.80,392.60Z" fill="#ff1a0a" stroke="#3ce0a8" stroke-width="0.7"/>
<path d="M451.62,405.40 Q455.80,407.60 459.98,405.40" stroke="#48e0a0" stroke-width="0.9" fill="none"/>
</g>
<rect x="331.40" y="421.25" width="47.40" height="28.5" fill="url(#bbg2)"/>
<g clip-path="url(#c43)">
<path d="M335.40,442.25 L335.40,449.75 M332.90,443.25 L332.20,447.25 M337.90,443.25 L338.60,447.25" stroke="#38d8d8" stroke-width="0.9" fill="none"/>
<path d="M335.40,422.85 C337.20,422.85 338.04,424.25 338.52,426.75 C339.00,429.25 340.32,431.25 340.32,435.25 C340.32,440.25 340.68,444.55 339.60,445.05 L331.20,445.05 C330.12,444.55 330.48,440.25 330.48,435.25 C330.48,431.25 331.80,429.25 332.28,426.75 C332.76,424.25 333.60,422.85 335.40,422.85Z" fill="#ff1a0a" stroke="#3ce0a8" stroke-width="0.7"/>
<ellipse cx="334.90" cy="434.25" rx="1.0" ry="1.3" fill="#3050e0" opacity="1"/>
<path d="M344.80,442.25 L344.80,449.75 M342.30,443.25 L341.60,447.25 M347.30,443.25 L348.00,447.25" stroke="#38d8d8" stroke-width="0.9" fill="none"/>
<path d="M344.80,422.85 C346.60,422.85 347.44,424.25 347.92,426.75 C348.40,429.25 349.72,431.25 349.72,435.25 C349.72,440.25 350.08,444.55 349.00,445.05 L340.60,445.05 C339.52,444.55 339.88,440.25 339.88,435.25 C339.88,431.25 341.20,429.25 341.68,426.75 C342.16,424.25 343.00,422.85 344.80,422.85Z" fill="#ff1a0a" stroke="#3ce0a8" stroke-width="0.7"/>
<ellipse cx="344.30" cy="434.25" rx="1.0" ry="1.3" fill="#3050e0" opacity="1"/>
<path d="M354.20,442.25 L354.20,449.75 M351.70,443.25 L351.00,447.25 M356.70,443.25 L357.40,447.25" stroke="#38d8d8" stroke-width="0.9" fill="none"/>
<path d="M354.20,422.85 C356.00,422.85 356.84,424.25 357.32,426.75 C357.80,429.25 359.12,431.25 359.12,435.25 C359.12,440.25 359.48,444.55 358.40,445.05 L350.00,445.05 C348.92,444.55 349.28,440.25 349.28,435.25 C349.28,431.25 350.60,429.25 351.08,426.75 C351.56,424.25 352.40,422.85 354.20,422.85Z" fill="#ff1a0a" stroke="#3ce0a8" stroke-width="0.7"/>
<ellipse cx="353.70" cy="434.25" rx="1.0" ry="1.3" fill="#3050e0" opacity="1"/>
<path d="M363.60,442.25 L363.60,449.75 M361.10,443.25 L360.40,447.25 M366.10,443.25 L366.80,447.25" stroke="#38d8d8" stroke-width="0.9" fill="none"/>
<path d="M363.60,422.85 C365.40,422.85 366.24,424.25 366.72,426.75 C367.20,429.25 368.52,431.25 368.52,435.25 C368.52,440.25 368.88,444.55 367.80,445.05 L359.40,445.05 C358.32,444.55 358.68,440.25 358.68,435.25 C358.68,431.25 360.00,429.25 360.48,426.75 C360.96,424.25 361.80,422.85 363.60,422.85Z" fill="#ff1a0a" stroke="#3ce0a8" stroke-width="0.7"/>
<ellipse cx="363.10" cy="434.25" rx="1.0" ry="1.3" fill="#3050e0" opacity="1"/>
<path d="M373.00,442.25 L373.00,449.75 M370.50,443.25 L369.80,447.25 M375.50,443.25 L376.20,447.25" stroke="#38d8d8" stroke-width="0.9" fill="none"/>
<path d="M373.00,422.85 C374.80,422.85 375.64,424.25 376.12,426.75 C376.60,429.25 377.92,431.25 377.92,435.25 C377.92,440.25 378.28,444.55 377.20,445.05 L368.80,445.05 C367.72,444.55 368.08,440.25 368.08,435.25 C368.08,431.25 369.40,429.25 369.88,426.75 C370.36,424.25 371.20,422.85 373.00,422.85Z" fill="#ff1a0a" stroke="#3ce0a8" stroke-width="0.7"/>
<ellipse cx="372.50" cy="434.25" rx="1.0" ry="1.3" fill="#3050e0" opacity="1"/>
</g>
<rect x="382.00" y="421.25" width="47.40" height="28.5" fill="url(#bbg2)"/>
<g clip-path="url(#c44)">
<path d="M386.00,442.25 L386.00,449.75 M383.50,443.25 L382.80,447.25 M388.50,443.25 L389.20,447.25" stroke="#38d8d8" stroke-width="0.9" fill="none"/>
<path d="M386.00,422.85 C387.80,422.85 388.64,424.25 389.12,426.75 C389.60,429.25 390.92,431.25 390.92,435.25 C390.92,440.25 391.28,444.55 390.20,445.05 L381.80,445.05 C380.72,444.55 381.08,440.25 381.08,435.25 C381.08,431.25 382.40,429.25 382.88,426.75 C383.36,424.25 384.20,422.85 386.00,422.85Z" fill="#ff1a0a" stroke="#3ce0a8" stroke-width="0.7"/>
<ellipse cx="385.50" cy="434.25" rx="1.0" ry="1.3" fill="#3050e0" opacity="1"/>
<path d="M395.40,442.25 L395.40,449.75 M392.90,443.25 L392.20,447.25 M397.90,443.25 L398.60,447.25" stroke="#38d8d8" stroke-width="0.9" fill="none"/>
<path d="M395.40,422.85 C397.20,422.85 398.04,424.25 398.52,426.75 C399.00,429.25 400.32,431.25 400.32,435.25 C400.32,440.25 400.68,444.55 399.60,445.05 L391.20,445.05 C390.12,444.55 390.48,440.25 390.48,435.25 C390.48,431.25 391.80,429.25 392.28,426.75 C392.76,424.25 393.60,422.85 395.40,422.85Z" fill="#ff1a0a" stroke="#3ce0a8" stroke-width="0.7"/>
<ellipse cx="394.90" cy="434.25" rx="1.0" ry="1.3" fill="#3050e0" opacity="1"/>
<path d="M404.80,442.25 L404.80,449.75 M402.30,443.25 L401.60,447.25 M407.30,443.25 L408.00,447.25" stroke="#38d8d8" stroke-width="0.9" fill="none"/>
<path d="M404.80,422.85 C406.60,422.85 407.44,424.25 407.92,426.75 C408.40,429.25 409.72,431.25 409.72,435.25 C409.72,440.25 410.08,444.55 409.00,445.05 L400.60,445.05 C399.52,444.55 399.88,440.25 399.88,435.25 C399.88,431.25 401.20,429.25 401.68,426.75 C402.16,424.25 403.00,422.85 404.80,422.85Z" fill="#ff1a0a" stroke="#3ce0a8" stroke-width="0.7"/>
<ellipse cx="404.30" cy="434.25" rx="1.0" ry="1.3" fill="#3050e0" opacity="1"/>
<path d="M414.20,442.25 L414.20,449.75 M411.70,443.25 L411.00,447.25 M416.70,443.25 L417.40,447.25" stroke="#38d8d8" stroke-width="0.9" fill="none"/>
<path d="M414.20,422.85 C416.00,422.85 416.84,424.25 417.32,426.75 C417.80,429.25 419.12,431.25 419.12,435.25 C419.12,440.25 419.48,444.55 418.40,445.05 L410.00,445.05 C408.92,444.55 409.28,440.25 409.28,435.25 C409.28,431.25 410.60,429.25 411.08,426.75 C411.56,424.25 412.40,422.85 414.20,422.85Z" fill="#ff1a0a" stroke="#3ce0a8" stroke-width="0.7"/>
<ellipse cx="413.70" cy="434.25" rx="1.0" ry="1.3" fill="#3050e0" opacity="1"/>
<path d="M423.60,442.25 L423.60,449.75 M421.10,443.25 L420.40,447.25 M426.10,443.25 L426.80,447.25" stroke="#38d8d8" stroke-width="0.9" fill="none"/>
<path d="M423.60,422.85 C425.40,422.85 426.24,424.25 426.72,426.75 C427.20,429.25 428.52,431.25 428.52,435.25 C428.52,440.25 428.88,444.55 427.80,445.05 L419.40,445.05 C418.32,444.55 418.68,440.25 418.68,435.25 C418.68,431.25 420.00,429.25 420.48,426.75 C420.96,424.25 421.80,422.85 423.60,422.85Z" fill="#ff1a0a" stroke="#3ce0a8" stroke-width="0.7"/>
<ellipse cx="423.10" cy="434.25" rx="1.0" ry="1.3" fill="#3050e0" opacity="1"/>
</g>
<rect x="433.00" y="421.25" width="29.00" height="28.5" fill="url(#bbg2)"/>
<g clip-path="url(#c45)">
<path d="M437.00,442.25 L437.00,449.75 M434.50,443.25 L433.80,447.25 M439.50,443.25 L440.20,447.25" stroke="#38d8d8" stroke-width="0.9" fill="none"/>
<path d="M437.00,422.85 C438.80,422.85 439.64,424.25 440.12,426.75 C440.60,429.25 441.92,431.25 441.92,435.25 C441.92,440.25 442.28,444.55 441.20,445.05 L432.80,445.05 C431.72,444.55 432.08,440.25 432.08,435.25 C432.08,431.25 433.40,429.25 433.88,426.75 C434.36,424.25 435.20,422.85 437.00,422.85Z" fill="#ff1a0a" stroke="#3ce0a8" stroke-width="0.7"/>
<ellipse cx="436.50" cy="434.25" rx="1.0" ry="1.3" fill="#3050e0" opacity="1"/>
<path d="M446.40,442.25 L446.40,449.75 M443.90,443.25 L443.20,447.25 M448.90,443.25 L449.60,447.25" stroke="#38d8d8" stroke-width="0.9" fill="none"/>
<path d="M446.40,422.85 C448.20,422.85 449.04,424.25 449.52,426.75 C450.00,429.25 451.32,431.25 451.32,435.25 C451.32,440.25 451.68,444.55 450.60,445.05 L442.20,445.05 C441.12,444.55 441.48,440.25 441.48,435.25 C441.48,431.25 442.80,429.25 443.28,426.75 C443.76,424.25 444.60,422.85 446.40,422.85Z" fill="#ff1a0a" stroke="#3ce0a8" stroke-width="0.7"/>
<ellipse cx="445.90" cy="434.25" rx="1.0" ry="1.3" fill="#3050e0" opacity="1"/>
<path d="M455.80,442.25 L455.80,449.75 M453.30,443.25 L452.60,447.25 M458.30,443.25 L459.00,447.25" stroke="#38d8d8" stroke-width="0.9" fill="none"/>
<path d="M455.80,422.85 C457.60,422.85 458.44,424.25 458.92,426.75 C459.40,429.25 460.72,431.25 460.72,435.25 C460.72,440.25 461.08,444.55 460.00,445.05 L451.60,445.05 C450.52,444.55 450.88,440.25 450.88,435.25 C450.88,431.25 452.20,429.25 452.68,426.75 C453.16,424.25 454.00,422.85 455.80,422.85Z" fill="#ff1a0a" stroke="#3ce0a8" stroke-width="0.7"/>
<ellipse cx="455.30" cy="434.25" rx="1.0" ry="1.3" fill="#3050e0" opacity="1"/>
</g>
<rect x="342.80" y="451.50" width="18.50" height="28.5" fill="url(#bbg)"/>
<g clip-path="url(#c46)">
<path d="M347.40,472.50 L347.40,480.00 M344.90,473.50 L344.20,477.50 M349.90,473.50 L350.60,477.50" stroke="#38d8d8" stroke-width="0.9" fill="none"/>
<path d="M347.40,453.10 C349.05,453.10 349.82,454.50 350.26,457.00 C350.70,459.50 351.91,461.50 351.91,465.50 C351.91,470.50 352.24,474.20 351.25,474.70 L343.55,474.70 C342.56,474.20 342.89,470.50 342.89,465.50 C342.89,461.50 344.10,459.50 344.54,457.00 C344.98,454.50 345.75,453.10 347.40,453.10Z" fill="#ff1a0a" stroke="#3ce0a8" stroke-width="0.7"/>
<path d="M343.22,465.90 Q347.40,468.10 351.58,465.90" stroke="#48e0a0" stroke-width="0.9" fill="none"/>
<path d="M356.70,472.50 L356.70,480.00 M354.20,473.50 L353.50,477.50 M359.20,473.50 L359.90,477.50" stroke="#38d8d8" stroke-width="0.9" fill="none"/>
<path d="M356.70,453.10 C358.35,453.10 359.12,454.50 359.56,457.00 C360.00,459.50 361.21,461.50 361.21,465.50 C361.21,470.50 361.54,474.20 360.55,474.70 L352.85,474.70 C351.86,474.20 352.19,470.50 352.19,465.50 C352.19,461.50 353.40,459.50 353.84,457.00 C354.28,454.50 355.05,453.10 356.70,453.10Z" fill="#ff1a0a" stroke="#3ce0a8" stroke-width="0.7"/>
<path d="M352.52,465.90 Q356.70,468.10 360.88,465.90" stroke="#48e0a0" stroke-width="0.9" fill="none"/>
</g>
<rect x="342.80" y="481.75" width="19.00" height="28.5" fill="url(#bbg)"/>
<g clip-path="url(#c47)">
<path d="M347.40,502.75 L347.40,510.25 M344.90,503.75 L344.20,507.75 M349.90,503.75 L350.60,507.75" stroke="#38d8d8" stroke-width="0.9" fill="none"/>
<path d="M347.40,483.35 C349.05,483.35 349.82,484.75 350.26,487.25 C350.70,489.75 351.91,491.75 351.91,495.75 C351.91,500.75 352.24,504.45 351.25,504.95 L343.55,504.95 C342.56,504.45 342.89,500.75 342.89,495.75 C342.89,491.75 344.10,489.75 344.54,487.25 C344.98,484.75 345.75,483.35 347.40,483.35Z" fill="#ff1a0a" stroke="#3ce0a8" stroke-width="0.7"/>
<path d="M343.22,496.15 Q347.40,498.35 351.58,496.15" stroke="#48e0a0" stroke-width="0.9" fill="none"/>
<path d="M357.00,502.75 L357.00,510.25 M354.50,503.75 L353.80,507.75 M359.50,503.75 L360.20,507.75" stroke="#38d8d8" stroke-width="0.9" fill="none"/>
<path d="M357.00,483.35 C358.65,483.35 359.42,484.75 359.86,487.25 C360.30,489.75 361.51,491.75 361.51,495.75 C361.51,500.75 361.84,504.45 360.85,504.95 L353.15,504.95 C352.16,504.45 352.49,500.75 352.49,495.75 C352.49,491.75 353.70,489.75 354.14,487.25 C354.58,484.75 355.35,483.35 357.00,483.35Z" fill="#ff1a0a" stroke="#3ce0a8" stroke-width="0.7"/>
<path d="M352.82,496.15 Q357.00,498.35 361.18,496.15" stroke="#48e0a0" stroke-width="0.9" fill="none"/>
</g>
<rect x="351.10" y="512.00" width="10.20" height="28.5" fill="url(#bbg)"/>
<g clip-path="url(#c48)">
<path d="M355.10,533.00 L355.10,540.50 M352.60,534.00 L351.90,538.00 M357.60,534.00 L358.30,538.00" stroke="#38d8d8" stroke-width="0.9" fill="none"/>
<path d="M355.10,513.60 C356.68,513.60 357.41,515.00 357.83,517.50 C358.25,520.00 359.41,522.00 359.41,526.00 C359.41,531.00 359.72,534.70 358.78,535.20 L351.43,535.20 C350.48,534.70 350.80,531.00 350.80,526.00 C350.80,522.00 351.95,520.00 352.37,517.50 C352.79,515.00 353.53,513.60 355.10,513.60Z" fill="#ff1a0a" stroke="#3ce0a8" stroke-width="0.7"/>
<path d="M351.11,526.40 Q355.10,528.60 359.09,526.40" stroke="#48e0a0" stroke-width="0.9" fill="none"/>
</g>
<rect x="382.00" y="451.50" width="47.40" height="28.5" fill="url(#gbg)"/>
<g clip-path="url(#c49)">
</g>
<rect x="382.00" y="451.50" width="17.5" height="28.5" fill="url(#bbg)"/>
<path d="M386.00,472.50 L386.00,480.00 M383.50,473.50 L382.80,477.50 M388.50,473.50 L389.20,477.50" stroke="#38d8d8" stroke-width="0.9" fill="none"/>
<path d="M386.00,453.10 C387.57,453.10 388.31,454.50 388.73,457.00 C389.15,459.50 390.31,461.50 390.31,465.50 C390.31,470.50 390.62,474.20 389.68,474.70 L382.32,474.70 C381.38,474.20 381.69,470.50 381.69,465.50 C381.69,461.50 382.85,459.50 383.27,457.00 C383.69,454.50 384.43,453.10 386.00,453.10Z" fill="#ff1a0a" stroke="#3ce0a8" stroke-width="0.7"/>
<path d="M382.01,465.90 Q386.00,468.10 389.99,465.90" stroke="#48e0a0" stroke-width="0.9" fill="none"/>
<path d="M395.40,472.50 L395.40,480.00 M392.90,473.50 L392.20,477.50 M397.90,473.50 L398.60,477.50" stroke="#38d8d8" stroke-width="0.9" fill="none"/>
<path d="M395.40,453.10 C396.97,453.10 397.71,454.50 398.13,457.00 C398.55,459.50 399.70,461.50 399.70,465.50 C399.70,470.50 400.02,474.20 399.07,474.70 L391.72,474.70 C390.78,474.20 391.09,470.50 391.09,465.50 C391.09,461.50 392.25,459.50 392.67,457.00 C393.09,454.50 393.82,453.10 395.40,453.10Z" fill="#ff1a0a" stroke="#3ce0a8" stroke-width="0.7"/>
<path d="M391.41,465.90 Q395.40,468.10 399.39,465.90" stroke="#48e0a0" stroke-width="0.9" fill="none"/>
<path d="M404.80,472.50 L404.80,480.00 M402.00,471.80 L400.80,474.30 M407.60,471.80 L408.80,474.30" stroke="#8a8a8a" stroke-width="0.8" fill="none"/>
<path d="M404.80,452.90 C405.45,452.90 405.92,454.50 406.29,456.50 C406.66,458.30 407.40,459.30 407.68,461.50 C408.06,464.00 408.52,467.50 408.38,470.50 C408.19,472.40 406.66,473.00 404.80,473.00 C402.94,473.00 401.41,472.40 401.22,470.50 C401.08,467.50 401.55,464.00 401.92,461.50 C402.20,459.30 402.94,458.30 403.31,456.50 C403.68,454.50 404.15,452.90 404.80,452.90Z" fill="url(#gm)"/>
<path d="M414.20,472.50 L414.20,480.00 M411.40,471.80 L410.20,474.30 M417.00,471.80 L418.20,474.30" stroke="#8a8a8a" stroke-width="0.8" fill="none"/>
<path d="M414.20,452.90 C414.85,452.90 415.32,454.50 415.69,456.50 C416.06,458.30 416.80,459.30 417.08,461.50 C417.45,464.00 417.92,467.50 417.78,470.50 C417.59,472.40 416.06,473.00 414.20,473.00 C412.34,473.00 410.81,472.40 410.62,470.50 C410.48,467.50 410.94,464.00 411.32,461.50 C411.60,459.30 412.34,458.30 412.71,456.50 C413.08,454.50 413.55,452.90 414.20,452.90Z" fill="url(#gm)"/>
<ellipse cx="404.80" cy="460.50" rx="2.5" ry="2.0" fill="#7230ff" opacity="1"/>
<ellipse cx="414.20" cy="465.50" rx="2.0" ry="1.8" fill="#7230ff" opacity="1"/>
<ellipse cx="414.20" cy="456.50" rx="2.2" ry="1.3" fill="#7230ff" opacity="1"/>
<rect x="420.00" y="451.50" width="9.6" height="28.5" fill="url(#bbg)"/>
<path d="M423.60,472.50 L423.60,480.00 M421.10,473.50 L420.40,477.50 M426.10,473.50 L426.80,477.50" stroke="#38d8d8" stroke-width="0.9" fill="none"/>
<path d="M423.60,453.10 C425.10,453.10 425.80,454.50 426.20,457.00 C426.60,459.50 427.70,461.50 427.70,465.50 C427.70,470.50 428.00,474.20 427.10,474.70 L420.10,474.70 C419.20,474.20 419.50,470.50 419.50,465.50 C419.50,461.50 420.60,459.50 421.00,457.00 C421.40,454.50 422.10,453.10 423.60,453.10Z" fill="#ff1a0a" stroke="#3ce0a8" stroke-width="0.7"/>
<path d="M419.80,465.90 Q423.60,468.10 427.40,465.90" stroke="#48e0a0" stroke-width="0.9" fill="none"/>
<rect x="382.00" y="481.75" width="47.40" height="28.5" fill="url(#gbg)"/>
<g clip-path="url(#c50)">
</g>
<path d="M385.50,502.75 L385.50,510.25 M382.70,502.05 L381.50,504.55 M388.30,502.05 L389.50,504.55" stroke="#8a6aff" stroke-width="0.8" fill="none"/>
<path d="M385.50,483.15 C386.20,483.15 386.70,484.75 387.10,486.75 C387.50,488.55 388.30,489.55 388.60,491.75 C389.00,494.25 389.50,497.75 389.35,500.75 C389.15,502.65 387.50,503.25 385.50,503.25 C383.50,503.25 381.85,502.65 381.65,500.75 C381.50,497.75 382.00,494.25 382.40,491.75 C382.70,489.55 383.50,488.55 383.90,486.75 C384.30,484.75 384.80,483.15 385.50,483.15Z" fill="#6a22ff"/>
<ellipse cx="385.50" cy="492.75" rx="2.2" ry="5.5" fill="#4a30ff" opacity="1"/>
<ellipse cx="385.50" cy="486.75" rx="2.3" ry="2.0" fill="#3050ff" opacity="1"/>
<ellipse cx="385.50" cy="486.75" rx="1.5333333333333334" ry="1.3333333333333335" fill="#30d0c0" opacity="1"/>
<ellipse cx="385.50" cy="486.75" rx="0.7666666666666667" ry="0.6666666666666667" fill="#ffd020" opacity="1"/>
<ellipse cx="385.50" cy="499.75" rx="2.3" ry="2.2" fill="#3050ff" opacity="1"/>
<ellipse cx="385.50" cy="499.75" rx="1.5333333333333334" ry="1.466666666666667" fill="#30d0c0" opacity="1"/>
<ellipse cx="385.50" cy="499.75" rx="0.7666666666666667" ry="0.7333333333333335" fill="#ff3010" opacity="1"/>
<path d="M395.40,502.75 L395.40,510.25 M392.60,502.05 L391.40,504.55 M398.20,502.05 L399.40,504.55" stroke="#8a8a8a" stroke-width="0.8" fill="none"/>
<path d="M395.40,483.15 C396.05,483.15 396.52,484.75 396.89,486.75 C397.26,488.55 398.00,489.55 398.28,491.75 C398.65,494.25 399.12,497.75 398.98,500.75 C398.79,502.65 397.26,503.25 395.40,503.25 C393.54,503.25 392.01,502.65 391.82,500.75 C391.68,497.75 392.14,494.25 392.52,491.75 C392.80,489.55 393.54,488.55 393.91,486.75 C394.28,484.75 394.75,483.15 395.40,483.15Z" fill="url(#gm)"/>
<path d="M405.30,502.75 L405.30,510.25 M402.50,502.05 L401.30,504.55 M408.10,502.05 L409.30,504.55" stroke="#8a8a8a" stroke-width="0.8" fill="none"/>
<path d="M405.30,483.15 C405.95,483.15 406.42,484.75 406.79,486.75 C407.16,488.55 407.90,489.55 408.18,491.75 C408.56,494.25 409.02,497.75 408.88,500.75 C408.69,502.65 407.16,503.25 405.30,503.25 C403.44,503.25 401.91,502.65 401.72,500.75 C401.58,497.75 402.05,494.25 402.42,491.75 C402.70,489.55 403.44,488.55 403.81,486.75 C404.18,484.75 404.65,483.15 405.30,483.15Z" fill="url(#gm)"/>
<ellipse cx="395.40" cy="493.25" rx="2.0" ry="1.6" fill="#4a14ff" opacity="1"/>
<ellipse cx="405.30" cy="501.75" rx="1.0" ry="0.9" fill="#4a14ff" opacity="1"/>
<path d="M424.40,502.75 L424.40,510.25 M421.60,502.05 L420.40,504.55 M427.20,502.05 L428.40,504.55" stroke="#8a6aff" stroke-width="0.8" fill="none"/>
<path d="M424.40,483.15 C425.10,483.15 425.60,484.75 426.00,486.75 C426.40,488.55 427.20,489.55 427.50,491.75 C427.90,494.25 428.40,497.75 428.25,500.75 C428.05,502.65 426.40,503.25 424.40,503.25 C422.40,503.25 420.75,502.65 420.55,500.75 C420.40,497.75 420.90,494.25 421.30,491.75 C421.60,489.55 422.40,488.55 422.80,486.75 C423.20,484.75 423.70,483.15 424.40,483.15Z" fill="#6a22ff"/>
<ellipse cx="424.40" cy="492.75" rx="2.2" ry="5.5" fill="#4a30ff" opacity="1"/>
<ellipse cx="424.40" cy="485.25" rx="2.4" ry="2.4" fill="#3050ff" opacity="1"/>
<ellipse cx="424.40" cy="485.25" rx="1.6" ry="1.6" fill="#30d0c0" opacity="1"/>
<ellipse cx="424.40" cy="485.25" rx="0.8" ry="0.8" fill="#ff3010" opacity="1"/>
<ellipse cx="424.40" cy="497.25" rx="3.0" ry="3.0" fill="#3050ff" opacity="1"/>
<ellipse cx="424.40" cy="497.25" rx="2.25" ry="2.25" fill="#30d0c0" opacity="1"/>
<ellipse cx="424.40" cy="497.25" rx="1.5" ry="1.5" fill="#ffd020" opacity="1"/>
<ellipse cx="424.40" cy="497.25" rx="0.75" ry="0.75" fill="#ff3010" opacity="1"/>
<rect x="382.00" y="512.00" width="47.40" height="28.5" fill="url(#gbg)"/>
<g clip-path="url(#c51)">
</g>
<path d="M386.50,533.00 L386.50,540.50 M383.70,532.30 L382.50,534.80 M389.30,532.30 L390.50,534.80" stroke="#8a6aff" stroke-width="0.8" fill="none"/>
<path d="M386.50,513.40 C387.27,513.40 387.82,515.00 388.26,517.00 C388.70,518.80 389.58,519.80 389.91,522.00 C390.35,524.50 390.90,528.00 390.74,531.00 C390.51,532.90 388.70,533.50 386.50,533.50 C384.30,533.50 382.49,532.90 382.26,531.00 C382.10,528.00 382.65,524.50 383.09,522.00 C383.42,519.80 384.30,518.80 384.74,517.00 C385.18,515.00 385.73,513.40 386.50,513.40Z" fill="#6a22ff"/>
<ellipse cx="386.50" cy="523.00" rx="2.4200000000000004" ry="5.5" fill="#4a30ff" opacity="1"/>
<ellipse cx="386.50" cy="516.50" rx="2.4" ry="2.0" fill="#3050ff" opacity="1"/>
<ellipse cx="386.50" cy="516.50" rx="1.6" ry="1.3333333333333335" fill="#30d0c0" opacity="1"/>
<ellipse cx="386.50" cy="516.50" rx="0.8" ry="0.6666666666666667" fill="#ff3010" opacity="1"/>
<ellipse cx="386.50" cy="531.50" rx="1.6" ry="1.6" fill="#3050ff" opacity="1"/>
<ellipse cx="386.50" cy="531.50" rx="0.8" ry="0.8" fill="#30d0c0" opacity="1"/>
<path d="M382.40,526.00 Q386.50,529.50 390.40,525.50 L390.40,528.00 Q386.50,531.50 382.40,528.50Z" fill="#f4f0ff"/>
<path d="M397.20,533.00 L397.20,540.50 M394.40,532.30 L393.20,534.80 M400.00,532.30 L401.20,534.80" stroke="#8a8a8a" stroke-width="0.8" fill="none"/>
<path d="M397.20,513.40 C397.85,513.40 398.32,515.00 398.69,517.00 C399.06,518.80 399.80,519.80 400.08,522.00 C400.45,524.50 400.92,528.00 400.78,531.00 C400.59,532.90 399.06,533.50 397.20,533.50 C395.34,533.50 393.81,532.90 393.62,531.00 C393.48,528.00 393.94,524.50 394.32,522.00 C394.60,519.80 395.34,518.80 395.71,517.00 C396.08,515.00 396.55,513.40 397.20,513.40Z" fill="url(#gm)"/>
<path d="M407.80,533.00 L407.80,540.50 M405.00,532.30 L403.80,534.80 M410.60,532.30 L411.80,534.80" stroke="#8a8a8a" stroke-width="0.8" fill="none"/>
<path d="M407.80,513.40 C408.45,513.40 408.92,515.00 409.29,517.00 C409.66,518.80 410.40,519.80 410.68,522.00 C411.06,524.50 411.52,528.00 411.38,531.00 C411.19,532.90 409.66,533.50 407.80,533.50 C405.94,533.50 404.41,532.90 404.22,531.00 C404.08,528.00 404.55,524.50 404.92,522.00 C405.20,519.80 405.94,518.80 406.31,517.00 C406.68,515.00 407.15,513.40 407.80,513.40Z" fill="url(#gm)"/>
<path d="M422.60,533.00 L422.60,540.50 M419.80,532.30 L418.60,534.80 M425.40,532.30 L426.60,534.80" stroke="#8a6aff" stroke-width="0.8" fill="none"/>
<path d="M422.60,513.40 C423.37,513.40 423.92,515.00 424.36,517.00 C424.80,518.80 425.68,519.80 426.01,522.00 C426.45,524.50 427.00,528.00 426.84,531.00 C426.62,532.90 424.80,533.50 422.60,533.50 C420.40,533.50 418.59,532.90 418.37,531.00 C418.20,528.00 418.75,524.50 419.19,522.00 C419.52,519.80 420.40,518.80 420.84,517.00 C421.28,515.00 421.83,513.40 422.60,513.40Z" fill="#6a22ff"/>
<ellipse cx="422.60" cy="523.00" rx="2.4200000000000004" ry="5.5" fill="#4a30ff" opacity="1"/>
<ellipse cx="422.60" cy="514.50" rx="2.4" ry="2.2" fill="#3050ff" opacity="1"/>
<ellipse cx="422.60" cy="514.50" rx="1.6" ry="1.466666666666667" fill="#30d0c0" opacity="1"/>
<ellipse cx="422.60" cy="514.50" rx="0.8" ry="0.7333333333333335" fill="#ff3010" opacity="1"/>
<ellipse cx="422.60" cy="527.50" rx="2.4" ry="2.4" fill="#3050ff" opacity="1"/>
<ellipse cx="422.60" cy="527.50" rx="1.6" ry="1.6" fill="#30d0c0" opacity="1"/>
<ellipse cx="422.60" cy="527.50" rx="0.8" ry="0.8" fill="#ffd020" opacity="1"/>
<rect x="465.4" y="331.3" width="5.9" height="166.4" fill="url(#cbar)"/>
<line x1="471.20" y1="336.30" x2="472.90" y2="336.30" stroke="#000" stroke-width="0.6"/>
<line x1="471.20" y1="341.40" x2="472.90" y2="341.40" stroke="#000" stroke-width="0.6"/>
<line x1="471.20" y1="348.40" x2="472.90" y2="348.40" stroke="#000" stroke-width="0.6"/>
<line x1="471.20" y1="356.30" x2="472.90" y2="356.30" stroke="#000" stroke-width="0.6"/>
<line x1="471.20" y1="366.30" x2="472.90" y2="366.30" stroke="#000" stroke-width="0.6"/>
<line x1="471.20" y1="381.00" x2="472.90" y2="381.00" stroke="#000" stroke-width="0.6"/>
<line x1="471.20" y1="405.80" x2="472.90" y2="405.80" stroke="#000" stroke-width="0.6"/>
<line x1="471.20" y1="410.80" x2="472.90" y2="410.80" stroke="#000" stroke-width="0.6"/>
<line x1="471.20" y1="415.30" x2="472.90" y2="415.30" stroke="#000" stroke-width="0.6"/>
<line x1="471.20" y1="419.30" x2="472.90" y2="419.30" stroke="#000" stroke-width="0.6"/>
<line x1="471.20" y1="424.00" x2="472.90" y2="424.00" stroke="#000" stroke-width="0.6"/>
<line x1="471.20" y1="430.70" x2="472.90" y2="430.70" stroke="#000" stroke-width="0.6"/>
<line x1="471.20" y1="439.30" x2="472.90" y2="439.30" stroke="#000" stroke-width="0.6"/>
<line x1="471.20" y1="449.30" x2="472.90" y2="449.30" stroke="#000" stroke-width="0.6"/>
<line x1="471.20" y1="464.00" x2="472.90" y2="464.00" stroke="#000" stroke-width="0.6"/>
<line x1="471.20" y1="489.30" x2="472.90" y2="489.30" stroke="#000" stroke-width="0.6"/>
<line x1="471.20" y1="493.30" x2="472.90" y2="493.30" stroke="#000" stroke-width="0.6"/>
<text x="475.6" y="335.6" font-size="8.7" fill="#222" textLength="22" lengthAdjust="spacingAndGlyphs">1.0&#215;10</text><text x="498" y="332" font-size="6" fill="#222">7</text>
<text x="475.6" y="499.8" font-size="8.7" fill="#222" textLength="22" lengthAdjust="spacingAndGlyphs">1.0&#215;10</text><text x="498" y="496.2" font-size="6" fill="#222">5</text>
<text transform="translate(487.6,420.3) rotate(-90)" font-size="9.3" text-anchor="middle" fill="#222" textLength="48.5" lengthAdjust="spacingAndGlyphs">Luminescence</text>
<text x="463.7" y="513.6" font-size="7.6" textLength="33" lengthAdjust="spacingAndGlyphs" fill="#222" >Radiance</text>
<text x="463.7" y="523.5" font-size="7.9" fill="#222">(p/sec/cm<tspan dy="-3.2" font-size="5.4">2</tspan><tspan dy="3.2">/sr)</tspan></text>
<line x1="41.30" y1="560.20" x2="41.30" y2="643.40" stroke="#000" stroke-width="1.1"/>
<line x1="40.80" y1="642.90" x2="157.50" y2="642.90" stroke="#000" stroke-width="1.1"/>
<line x1="38.30" y1="564.80" x2="41.30" y2="564.80" stroke="#000" stroke-width="0.9"/>
<line x1="38.30" y1="577.79" x2="41.30" y2="577.79" stroke="#000" stroke-width="0.9"/>
<line x1="38.30" y1="590.78" x2="41.30" y2="590.78" stroke="#000" stroke-width="0.9"/>
<line x1="38.30" y1="603.77" x2="41.30" y2="603.77" stroke="#000" stroke-width="0.9"/>
<line x1="38.30" y1="616.76" x2="41.30" y2="616.76" stroke="#000" stroke-width="0.9"/>
<line x1="38.30" y1="629.75" x2="41.30" y2="629.75" stroke="#000" stroke-width="0.9"/>
<line x1="41.25" y1="642.90" x2="41.25" y2="645.90" stroke="#000" stroke-width="0.9"/>
<text x="41.25" y="656.2" font-size="8.4" text-anchor="middle" textLength="4.15" lengthAdjust="spacingAndGlyphs" fill="#222" >0</text>
<line x1="63.85" y1="642.90" x2="63.85" y2="645.90" stroke="#000" stroke-width="0.9"/>
<text x="63.85" y="656.2" font-size="8.4" text-anchor="middle" textLength="8.3" lengthAdjust="spacingAndGlyphs" fill="#222" >10</text>
<line x1="86.45" y1="642.90" x2="86.45" y2="645.90" stroke="#000" stroke-width="0.9"/>
<text x="86.45" y="656.2" font-size="8.4" text-anchor="middle" textLength="8.3" lengthAdjust="spacingAndGlyphs" fill="#222" >20</text>
<line x1="109.05" y1="642.90" x2="109.05" y2="645.90" stroke="#000" stroke-width="0.9"/>
<text x="109.05000000000001" y="656.2" font-size="8.4" text-anchor="middle" textLength="8.3" lengthAdjust="spacingAndGlyphs" fill="#222" >30</text>
<line x1="131.65" y1="642.90" x2="131.65" y2="645.90" stroke="#000" stroke-width="0.9"/>
<text x="131.65" y="656.2" font-size="8.4" text-anchor="middle" textLength="8.3" lengthAdjust="spacingAndGlyphs" fill="#222" >40</text>
<line x1="154.25" y1="642.90" x2="154.25" y2="645.90" stroke="#000" stroke-width="0.9"/>
<text x="154.25" y="656.2" font-size="8.4" text-anchor="middle" textLength="8.3" lengthAdjust="spacingAndGlyphs" fill="#222" >50</text>
<text x="20.8" y="567.60" font-size="8.6" fill="#222" textLength="6.9" lengthAdjust="spacingAndGlyphs">10</text>
<text x="27.9" y="563.50" font-size="5.2" fill="#222" textLength="6.6" lengthAdjust="spacingAndGlyphs">11</text>
<text x="20.8" y="580.59" font-size="8.6" fill="#222" textLength="6.9" lengthAdjust="spacingAndGlyphs">10</text>
<text x="27.9" y="576.49" font-size="5.2" fill="#222" textLength="6.6" lengthAdjust="spacingAndGlyphs">10</text>
<text x="20.8" y="593.58" font-size="8.6" fill="#222" textLength="6.9" lengthAdjust="spacingAndGlyphs">10</text>
<text x="27.9" y="589.48" font-size="5.2" fill="#222">9</text>
<text x="20.8" y="606.57" font-size="8.6" fill="#222" textLength="6.9" lengthAdjust="spacingAndGlyphs">10</text>
<text x="27.9" y="602.47" font-size="5.2" fill="#222">8</text>
<text x="20.8" y="619.56" font-size="8.6" fill="#222" textLength="6.9" lengthAdjust="spacingAndGlyphs">10</text>
<text x="27.9" y="615.46" font-size="5.2" fill="#222">7</text>
<text x="20.8" y="632.55" font-size="8.6" fill="#222" textLength="6.9" lengthAdjust="spacingAndGlyphs">10</text>
<text x="27.9" y="628.45" font-size="5.2" fill="#222">6</text>
<text x="20.8" y="645.54" font-size="8.6" fill="#222" textLength="6.9" lengthAdjust="spacingAndGlyphs">10</text>
<text x="27.9" y="641.44" font-size="5.2" fill="#222">5</text>
<text transform="translate(14.8,601.5) rotate(-90)" font-size="8.4" text-anchor="middle" fill="#222" textLength="76.5" lengthAdjust="spacingAndGlyphs">Total flux (photons/sec)</text>
<line x1="192.80" y1="560.90" x2="192.80" y2="643.40" stroke="#000" stroke-width="1.1"/>
<line x1="192.30" y1="642.90" x2="310.00" y2="642.90" stroke="#000" stroke-width="1.1"/>
<line x1="189.80" y1="565.20" x2="192.80" y2="565.20" stroke="#000" stroke-width="0.9"/>
<line x1="189.80" y1="578.20" x2="192.80" y2="578.20" stroke="#000" stroke-width="0.9"/>
<line x1="189.80" y1="591.20" x2="192.80" y2="591.20" stroke="#000" stroke-width="0.9"/>
<line x1="189.80" y1="604.20" x2="192.80" y2="604.20" stroke="#000" stroke-width="0.9"/>
<line x1="189.80" y1="617.20" x2="192.80" y2="617.20" stroke="#000" stroke-width="0.9"/>
<line x1="189.80" y1="630.20" x2="192.80" y2="630.20" stroke="#000" stroke-width="0.9"/>
<line x1="192.80" y1="642.90" x2="192.80" y2="645.90" stroke="#000" stroke-width="0.9"/>
<text x="192.8" y="656.2" font-size="8.4" text-anchor="middle" textLength="4.15" lengthAdjust="spacingAndGlyphs" fill="#222" >0</text>
<line x1="215.40" y1="642.90" x2="215.40" y2="645.90" stroke="#000" stroke-width="0.9"/>
<text x="215.4" y="656.2" font-size="8.4" text-anchor="middle" textLength="8.3" lengthAdjust="spacingAndGlyphs" fill="#222" >10</text>
<line x1="238.00" y1="642.90" x2="238.00" y2="645.90" stroke="#000" stroke-width="0.9"/>
<text x="238.0" y="656.2" font-size="8.4" text-anchor="middle" textLength="8.3" lengthAdjust="spacingAndGlyphs" fill="#222" >20</text>
<line x1="260.60" y1="642.90" x2="260.60" y2="645.90" stroke="#000" stroke-width="0.9"/>
<text x="260.6" y="656.2" font-size="8.4" text-anchor="middle" textLength="8.3" lengthAdjust="spacingAndGlyphs" fill="#222" >30</text>
<line x1="283.20" y1="642.90" x2="283.20" y2="645.90" stroke="#000" stroke-width="0.9"/>
<text x="283.20000000000005" y="656.2" font-size="8.4" text-anchor="middle" textLength="8.3" lengthAdjust="spacingAndGlyphs" fill="#222" >40</text>
<line x1="305.80" y1="642.90" x2="305.80" y2="645.90" stroke="#000" stroke-width="0.9"/>
<text x="305.8" y="656.2" font-size="8.4" text-anchor="middle" textLength="8.3" lengthAdjust="spacingAndGlyphs" fill="#222" >50</text>
<line x1="348.00" y1="561.70" x2="348.00" y2="643.40" stroke="#000" stroke-width="1.1"/>
<line x1="347.50" y1="642.90" x2="464.60" y2="642.90" stroke="#000" stroke-width="1.1"/>
<line x1="345.00" y1="565.80" x2="348.00" y2="565.80" stroke="#000" stroke-width="0.9"/>
<line x1="345.00" y1="581.40" x2="348.00" y2="581.40" stroke="#000" stroke-width="0.9"/>
<line x1="345.00" y1="597.00" x2="348.00" y2="597.00" stroke="#000" stroke-width="0.9"/>
<line x1="345.00" y1="612.60" x2="348.00" y2="612.60" stroke="#000" stroke-width="0.9"/>
<line x1="345.00" y1="628.20" x2="348.00" y2="628.20" stroke="#000" stroke-width="0.9"/>
<line x1="348.00" y1="642.90" x2="348.00" y2="645.90" stroke="#000" stroke-width="0.9"/>
<text x="348.0" y="656.2" font-size="8.4" text-anchor="middle" textLength="4.15" lengthAdjust="spacingAndGlyphs" fill="#222" >0</text>
<line x1="370.60" y1="642.90" x2="370.60" y2="645.90" stroke="#000" stroke-width="0.9"/>
<text x="370.6" y="656.2" font-size="8.4" text-anchor="middle" textLength="8.3" lengthAdjust="spacingAndGlyphs" fill="#222" >10</text>
<line x1="393.20" y1="642.90" x2="393.20" y2="645.90" stroke="#000" stroke-width="0.9"/>
<text x="393.2" y="656.2" font-size="8.4" text-anchor="middle" textLength="8.3" lengthAdjust="spacingAndGlyphs" fill="#222" >20</text>
<line x1="415.80" y1="642.90" x2="415.80" y2="645.90" stroke="#000" stroke-width="0.9"/>
<text x="415.8" y="656.2" font-size="8.4" text-anchor="middle" textLength="8.3" lengthAdjust="spacingAndGlyphs" fill="#222" >30</text>
<line x1="438.40" y1="642.90" x2="438.40" y2="645.90" stroke="#000" stroke-width="0.9"/>
<text x="438.4" y="656.2" font-size="8.4" text-anchor="middle" textLength="8.3" lengthAdjust="spacingAndGlyphs" fill="#222" >40</text>
<line x1="461.00" y1="642.90" x2="461.00" y2="645.90" stroke="#000" stroke-width="0.9"/>
<text x="461.0" y="656.2" font-size="8.4" text-anchor="middle" textLength="8.3" lengthAdjust="spacingAndGlyphs" fill="#222" >50</text>
<text x="42" y="666.5" font-size="8.6" textLength="19.3" lengthAdjust="spacingAndGlyphs" fill="#222" >Days</text>
<line x1="67.00" y1="664.20" x2="459.00" y2="664.20" stroke="#000" stroke-width="1.2"/>
<polygon points="458.2,660.6 464.8,664.2 458.2,667.8" fill="#000"/>
<text x="492.3" y="574.4" font-size="7.6" textLength="17.1" lengthAdjust="spacingAndGlyphs" fill="#222" >CAR:</text>
<line x1="492.30" y1="575.50" x2="509.40" y2="575.50" stroke="#222" stroke-width="0.6"/>
<line x1="476.30" y1="583.60" x2="489.00" y2="583.60" stroke="#1a1aff" stroke-width="1.5"/>
<circle cx="482.7" cy="583.6" r="1.35" fill="#1a1aff"/>
<text x="492.6" y="586.2" font-size="7.6" textLength="20.2" lengthAdjust="spacingAndGlyphs" fill="#222" >MSCV</text>
<line x1="476.30" y1="594.10" x2="489.00" y2="594.10" stroke="#ff1010" stroke-width="1.5"/>
<circle cx="482.7" cy="594.1" r="1.35" fill="#ff1010"/>
<text x="492.6" y="596.7" font-size="7.6" textLength="15.5" lengthAdjust="spacingAndGlyphs" fill="#222" >EF1&#945;</text>
<line x1="476.30" y1="604.70" x2="489.00" y2="604.70" stroke="#111" stroke-width="1.5"/>
<circle cx="482.7" cy="604.7" r="1.35" fill="#111"/>
<text x="492.6" y="607.3000000000001" font-size="7.6" textLength="18.5" lengthAdjust="spacingAndGlyphs" fill="#222" >Mock</text>
<polyline points="48.03,608.00 54.81,611.00 70.63,627.00 86.45,630.50 102.27,628.50 118.09,630.00 133.91,628.50" fill="none" stroke="#ff1010" stroke-width="1.15" stroke-linejoin="round" />
<circle cx="48.03" cy="608.00" r="0.7" fill="#ff1010"/>
<circle cx="54.81" cy="611.00" r="0.7" fill="#ff1010"/>
<circle cx="70.63" cy="627.00" r="0.7" fill="#ff1010"/>
<circle cx="86.45" cy="630.50" r="0.7" fill="#ff1010"/>
<circle cx="102.27" cy="628.50" r="0.7" fill="#ff1010"/>
<circle cx="118.09" cy="630.00" r="0.7" fill="#ff1010"/>
<circle cx="133.91" cy="628.50" r="0.7" fill="#ff1010"/>
<polyline points="48.03,608.50 54.81,612.50 70.63,628.50 86.45,629.50 102.27,627.80 118.09,629.80 133.91,629.00" fill="none" stroke="#ff1010" stroke-width="1.15" stroke-linejoin="round" />
<circle cx="48.03" cy="608.50" r="0.7" fill="#ff1010"/>
<circle cx="54.81" cy="612.50" r="0.7" fill="#ff1010"/>
<circle cx="70.63" cy="628.50" r="0.7" fill="#ff1010"/>
<circle cx="86.45" cy="629.50" r="0.7" fill="#ff1010"/>
<circle cx="102.27" cy="627.80" r="0.7" fill="#ff1010"/>
<circle cx="118.09" cy="629.80" r="0.7" fill="#ff1010"/>
<circle cx="133.91" cy="629.00" r="0.7" fill="#ff1010"/>
<polyline points="48.03,609.00 54.81,613.50 70.63,627.50 86.45,630.80 102.27,628.50 118.09,630.50 133.91,629.50" fill="none" stroke="#ff1010" stroke-width="1.15" stroke-linejoin="round" />
<circle cx="48.03" cy="609.00" r="0.7" fill="#ff1010"/>
<circle cx="54.81" cy="613.50" r="0.7" fill="#ff1010"/>
<circle cx="70.63" cy="627.50" r="0.7" fill="#ff1010"/>
<circle cx="86.45" cy="630.80" r="0.7" fill="#ff1010"/>
<circle cx="102.27" cy="628.50" r="0.7" fill="#ff1010"/>
<circle cx="118.09" cy="630.50" r="0.7" fill="#ff1010"/>
<circle cx="133.91" cy="629.50" r="0.7" fill="#ff1010"/>
<polyline points="48.03,610.00 54.81,614.50 70.63,628.50 86.45,630.00 102.27,628.00 118.09,630.00 133.91,628.50" fill="none" stroke="#ff1010" stroke-width="1.15" stroke-linejoin="round" />
<circle cx="48.03" cy="610.00" r="0.7" fill="#ff1010"/>
<circle cx="54.81" cy="614.50" r="0.7" fill="#ff1010"/>
<circle cx="70.63" cy="628.50" r="0.7" fill="#ff1010"/>
<circle cx="86.45" cy="630.00" r="0.7" fill="#ff1010"/>
<circle cx="102.27" cy="628.00" r="0.7" fill="#ff1010"/>
<circle cx="118.09" cy="630.00" r="0.7" fill="#ff1010"/>
<circle cx="133.91" cy="628.50" r="0.7" fill="#ff1010"/>
<polyline points="48.03,618.20 54.81,613.00 70.63,628.00 86.45,631.00 102.27,628.50 118.09,631.00 133.91,629.20" fill="none" stroke="#ff1010" stroke-width="1.15" stroke-linejoin="round" />
<circle cx="48.03" cy="618.20" r="0.7" fill="#ff1010"/>
<circle cx="54.81" cy="613.00" r="0.7" fill="#ff1010"/>
<circle cx="70.63" cy="628.00" r="0.7" fill="#ff1010"/>
<circle cx="86.45" cy="631.00" r="0.7" fill="#ff1010"/>
<circle cx="102.27" cy="628.50" r="0.7" fill="#ff1010"/>
<circle cx="118.09" cy="631.00" r="0.7" fill="#ff1010"/>
<circle cx="133.91" cy="629.20" r="0.7" fill="#ff1010"/>
<polyline points="48.03,608.00 54.81,624.00 70.63,631.00 86.45,611.30 102.27,609.80 118.09,603.50 133.91,617.90" fill="none" stroke="#1a1aff" stroke-width="1.15" stroke-linejoin="round" />
<circle cx="48.03" cy="608.00" r="0.7" fill="#1a1aff"/>
<circle cx="54.81" cy="624.00" r="0.7" fill="#1a1aff"/>
<circle cx="70.63" cy="631.00" r="0.7" fill="#1a1aff"/>
<circle cx="86.45" cy="611.30" r="0.7" fill="#1a1aff"/>
<circle cx="102.27" cy="609.80" r="0.7" fill="#1a1aff"/>
<circle cx="118.09" cy="603.50" r="0.7" fill="#1a1aff"/>
<circle cx="133.91" cy="617.90" r="0.7" fill="#1a1aff"/>
<polyline points="48.03,608.00 54.81,625.00 70.63,630.50 86.45,614.60 102.27,627.00 118.09,627.00 133.91,624.50" fill="none" stroke="#1a1aff" stroke-width="1.15" stroke-linejoin="round" />
<circle cx="48.03" cy="608.00" r="0.7" fill="#1a1aff"/>
<circle cx="54.81" cy="625.00" r="0.7" fill="#1a1aff"/>
<circle cx="70.63" cy="630.50" r="0.7" fill="#1a1aff"/>
<circle cx="86.45" cy="614.60" r="0.7" fill="#1a1aff"/>
<circle cx="102.27" cy="627.00" r="0.7" fill="#1a1aff"/>
<circle cx="118.09" cy="627.00" r="0.7" fill="#1a1aff"/>
<circle cx="133.91" cy="624.50" r="0.7" fill="#1a1aff"/>
<polyline points="48.03,608.00 54.81,622.00 70.63,630.00 86.45,628.80 102.27,627.80 118.09,628.50 133.91,626.50" fill="none" stroke="#1a1aff" stroke-width="1.15" stroke-linejoin="round" />
<circle cx="48.03" cy="608.00" r="0.7" fill="#1a1aff"/>
<circle cx="54.81" cy="622.00" r="0.7" fill="#1a1aff"/>
<circle cx="70.63" cy="630.00" r="0.7" fill="#1a1aff"/>
<circle cx="86.45" cy="628.80" r="0.7" fill="#1a1aff"/>
<circle cx="102.27" cy="627.80" r="0.7" fill="#1a1aff"/>
<circle cx="118.09" cy="628.50" r="0.7" fill="#1a1aff"/>
<circle cx="133.91" cy="626.50" r="0.7" fill="#1a1aff"/>
<polyline points="48.03,607.00 54.81,623.00 70.63,630.60 86.45,628.50 102.27,627.50 118.09,628.00 133.91,627.00" fill="none" stroke="#1a1aff" stroke-width="1.15" stroke-linejoin="round" />
<circle cx="48.03" cy="607.00" r="0.7" fill="#1a1aff"/>
<circle cx="54.81" cy="623.00" r="0.7" fill="#1a1aff"/>
<circle cx="70.63" cy="630.60" r="0.7" fill="#1a1aff"/>
<circle cx="86.45" cy="628.50" r="0.7" fill="#1a1aff"/>
<circle cx="102.27" cy="627.50" r="0.7" fill="#1a1aff"/>
<circle cx="118.09" cy="628.00" r="0.7" fill="#1a1aff"/>
<circle cx="133.91" cy="627.00" r="0.7" fill="#1a1aff"/>
<polyline points="48.03,608.50 54.81,620.00 70.63,629.50 86.45,628.00 102.27,628.50 118.09,627.50 133.91,628.00" fill="none" stroke="#1a1aff" stroke-width="1.15" stroke-linejoin="round" />
<circle cx="48.03" cy="608.50" r="0.7" fill="#1a1aff"/>
<circle cx="54.81" cy="620.00" r="0.7" fill="#1a1aff"/>
<circle cx="70.63" cy="629.50" r="0.7" fill="#1a1aff"/>
<circle cx="86.45" cy="628.00" r="0.7" fill="#1a1aff"/>
<circle cx="102.27" cy="628.50" r="0.7" fill="#1a1aff"/>
<circle cx="118.09" cy="627.50" r="0.7" fill="#1a1aff"/>
<circle cx="133.91" cy="628.00" r="0.7" fill="#1a1aff"/>
<polyline points="47.60,608.10 54.90,593.70 70.30,570.60" fill="none" stroke="#000" stroke-width="1.6" stroke-linejoin="round" />
<polyline points="199.68,606.50 206.46,606.70 222.28,618.00 238.10,617.00 253.92,622.50 269.74,610.00 285.56,606.50" fill="none" stroke="#ff1010" stroke-width="1.15" stroke-linejoin="round" />
<circle cx="199.68" cy="606.50" r="0.7" fill="#ff1010"/>
<circle cx="206.46" cy="606.70" r="0.7" fill="#ff1010"/>
<circle cx="222.28" cy="618.00" r="0.7" fill="#ff1010"/>
<circle cx="238.10" cy="617.00" r="0.7" fill="#ff1010"/>
<circle cx="253.92" cy="622.50" r="0.7" fill="#ff1010"/>
<circle cx="269.74" cy="610.00" r="0.7" fill="#ff1010"/>
<circle cx="285.56" cy="606.50" r="0.7" fill="#ff1010"/>
<polyline points="199.68,607.50 206.46,615.00 222.28,632.70 238.10,630.00 253.92,629.50 269.74,629.60 285.56,629.60" fill="none" stroke="#ff1010" stroke-width="1.15" stroke-linejoin="round" />
<circle cx="199.68" cy="607.50" r="0.7" fill="#ff1010"/>
<circle cx="206.46" cy="615.00" r="0.7" fill="#ff1010"/>
<circle cx="222.28" cy="632.70" r="0.7" fill="#ff1010"/>
<circle cx="238.10" cy="630.00" r="0.7" fill="#ff1010"/>
<circle cx="253.92" cy="629.50" r="0.7" fill="#ff1010"/>
<circle cx="269.74" cy="629.60" r="0.7" fill="#ff1010"/>
<circle cx="285.56" cy="629.60" r="0.7" fill="#ff1010"/>
<polyline points="199.68,608.50 206.46,616.00 222.28,631.00 238.10,629.50 253.92,628.50 269.74,628.00 285.56,627.00" fill="none" stroke="#ff1010" stroke-width="1.15" stroke-linejoin="round" />
<circle cx="199.68" cy="608.50" r="0.7" fill="#ff1010"/>
<circle cx="206.46" cy="616.00" r="0.7" fill="#ff1010"/>
<circle cx="222.28" cy="631.00" r="0.7" fill="#ff1010"/>
<circle cx="238.10" cy="629.50" r="0.7" fill="#ff1010"/>
<circle cx="253.92" cy="628.50" r="0.7" fill="#ff1010"/>
<circle cx="269.74" cy="628.00" r="0.7" fill="#ff1010"/>
<circle cx="285.56" cy="627.00" r="0.7" fill="#ff1010"/>
<polyline points="199.68,609.00 206.46,617.00 222.28,628.00 238.10,628.50 253.92,629.00 269.74,629.00 285.56,628.80" fill="none" stroke="#ff1010" stroke-width="1.15" stroke-linejoin="round" />
<circle cx="199.68" cy="609.00" r="0.7" fill="#ff1010"/>
<circle cx="206.46" cy="617.00" r="0.7" fill="#ff1010"/>
<circle cx="222.28" cy="628.00" r="0.7" fill="#ff1010"/>
<circle cx="238.10" cy="628.50" r="0.7" fill="#ff1010"/>
<circle cx="253.92" cy="629.00" r="0.7" fill="#ff1010"/>
<circle cx="269.74" cy="629.00" r="0.7" fill="#ff1010"/>
<circle cx="285.56" cy="628.80" r="0.7" fill="#ff1010"/>
<polyline points="199.68,610.00 206.46,618.00 222.28,630.00 238.10,629.00 253.92,628.80 269.74,628.50 285.56,630.50" fill="none" stroke="#ff1010" stroke-width="1.15" stroke-linejoin="round" />
<circle cx="199.68" cy="610.00" r="0.7" fill="#ff1010"/>
<circle cx="206.46" cy="618.00" r="0.7" fill="#ff1010"/>
<circle cx="222.28" cy="630.00" r="0.7" fill="#ff1010"/>
<circle cx="238.10" cy="629.00" r="0.7" fill="#ff1010"/>
<circle cx="253.92" cy="628.80" r="0.7" fill="#ff1010"/>
<circle cx="269.74" cy="628.50" r="0.7" fill="#ff1010"/>
<circle cx="285.56" cy="630.50" r="0.7" fill="#ff1010"/>
<polyline points="199.68,608.70 206.46,625.00 222.28,617.70 238.10,619.40 253.92,606.50 269.74,603.00 285.56,597.30" fill="none" stroke="#1a1aff" stroke-width="1.15" stroke-linejoin="round" />
<circle cx="199.68" cy="608.70" r="0.7" fill="#1a1aff"/>
<circle cx="206.46" cy="625.00" r="0.7" fill="#1a1aff"/>
<circle cx="222.28" cy="617.70" r="0.7" fill="#1a1aff"/>
<circle cx="238.10" cy="619.40" r="0.7" fill="#1a1aff"/>
<circle cx="253.92" cy="606.50" r="0.7" fill="#1a1aff"/>
<circle cx="269.74" cy="603.00" r="0.7" fill="#1a1aff"/>
<circle cx="285.56" cy="597.30" r="0.7" fill="#1a1aff"/>
<polyline points="199.68,609.50 206.46,620.00 222.28,625.00 238.10,627.00 253.92,615.80 269.74,603.30 285.56,607.70" fill="none" stroke="#1a1aff" stroke-width="1.15" stroke-linejoin="round" />
<circle cx="199.68" cy="609.50" r="0.7" fill="#1a1aff"/>
<circle cx="206.46" cy="620.00" r="0.7" fill="#1a1aff"/>
<circle cx="222.28" cy="625.00" r="0.7" fill="#1a1aff"/>
<circle cx="238.10" cy="627.00" r="0.7" fill="#1a1aff"/>
<circle cx="253.92" cy="615.80" r="0.7" fill="#1a1aff"/>
<circle cx="269.74" cy="603.30" r="0.7" fill="#1a1aff"/>
<circle cx="285.56" cy="607.70" r="0.7" fill="#1a1aff"/>
<polyline points="199.68,610.00 206.46,622.00 222.28,626.50 238.10,628.00 253.92,627.00 269.74,622.50 285.56,607.70" fill="none" stroke="#1a1aff" stroke-width="1.15" stroke-linejoin="round" />
<circle cx="199.68" cy="610.00" r="0.7" fill="#1a1aff"/>
<circle cx="206.46" cy="622.00" r="0.7" fill="#1a1aff"/>
<circle cx="222.28" cy="626.50" r="0.7" fill="#1a1aff"/>
<circle cx="238.10" cy="628.00" r="0.7" fill="#1a1aff"/>
<circle cx="253.92" cy="627.00" r="0.7" fill="#1a1aff"/>
<circle cx="269.74" cy="622.50" r="0.7" fill="#1a1aff"/>
<circle cx="285.56" cy="607.70" r="0.7" fill="#1a1aff"/>
<polyline points="199.68,611.00 206.46,623.00 222.28,627.00 238.10,628.50 253.92,628.00 269.74,627.50 285.56,623.50" fill="none" stroke="#1a1aff" stroke-width="1.15" stroke-linejoin="round" />
<circle cx="199.68" cy="611.00" r="0.7" fill="#1a1aff"/>
<circle cx="206.46" cy="623.00" r="0.7" fill="#1a1aff"/>
<circle cx="222.28" cy="627.00" r="0.7" fill="#1a1aff"/>
<circle cx="238.10" cy="628.50" r="0.7" fill="#1a1aff"/>
<circle cx="253.92" cy="628.00" r="0.7" fill="#1a1aff"/>
<circle cx="269.74" cy="627.50" r="0.7" fill="#1a1aff"/>
<circle cx="285.56" cy="623.50" r="0.7" fill="#1a1aff"/>
<polyline points="199.68,612.00 206.46,624.00 222.28,628.00 238.10,629.00 253.92,628.50 269.74,628.00 285.56,628.80" fill="none" stroke="#1a1aff" stroke-width="1.15" stroke-linejoin="round" />
<circle cx="199.68" cy="612.00" r="0.7" fill="#1a1aff"/>
<circle cx="206.46" cy="624.00" r="0.7" fill="#1a1aff"/>
<circle cx="222.28" cy="628.00" r="0.7" fill="#1a1aff"/>
<circle cx="238.10" cy="629.00" r="0.7" fill="#1a1aff"/>
<circle cx="253.92" cy="628.50" r="0.7" fill="#1a1aff"/>
<circle cx="269.74" cy="628.00" r="0.7" fill="#1a1aff"/>
<circle cx="285.56" cy="628.80" r="0.7" fill="#1a1aff"/>
<polyline points="198.10,616.20 205.40,596.50 221.70,569.60" fill="none" stroke="#000" stroke-width="1.6" stroke-linejoin="round" />
<polyline points="354.81,619.00 361.62,602.00 375.24,576.00 393.40,571.40 409.29,571.40 425.18,639.50" fill="none" stroke="#ff1010" stroke-width="1.15" stroke-linejoin="round" />
<circle cx="354.81" cy="619.00" r="0.7" fill="#ff1010"/>
<circle cx="361.62" cy="602.00" r="0.7" fill="#ff1010"/>
<circle cx="375.24" cy="576.00" r="0.7" fill="#ff1010"/>
<circle cx="393.40" cy="571.40" r="0.7" fill="#ff1010"/>
<circle cx="409.29" cy="571.40" r="0.7" fill="#ff1010"/>
<circle cx="425.18" cy="639.50" r="0.7" fill="#ff1010"/>
<polyline points="354.81,617.00 361.62,601.00 375.24,575.00 393.40,571.40 409.29,580.75 425.18,602.00 441.07,608.25" fill="none" stroke="#ff1010" stroke-width="1.15" stroke-linejoin="round" />
<circle cx="354.81" cy="617.00" r="0.7" fill="#ff1010"/>
<circle cx="361.62" cy="601.00" r="0.7" fill="#ff1010"/>
<circle cx="375.24" cy="575.00" r="0.7" fill="#ff1010"/>
<circle cx="393.40" cy="571.40" r="0.7" fill="#ff1010"/>
<circle cx="409.29" cy="580.75" r="0.7" fill="#ff1010"/>
<circle cx="425.18" cy="602.00" r="0.7" fill="#ff1010"/>
<circle cx="441.07" cy="608.25" r="0.7" fill="#ff1010"/>
<polyline points="354.81,618.00 361.62,603.00 375.24,576.50 393.40,571.40 409.29,618.25 425.18,587.00 441.07,602.00" fill="none" stroke="#ff1010" stroke-width="1.15" stroke-linejoin="round" />
<circle cx="354.81" cy="618.00" r="0.7" fill="#ff1010"/>
<circle cx="361.62" cy="603.00" r="0.7" fill="#ff1010"/>
<circle cx="375.24" cy="576.50" r="0.7" fill="#ff1010"/>
<circle cx="393.40" cy="571.40" r="0.7" fill="#ff1010"/>
<circle cx="409.29" cy="618.25" r="0.7" fill="#ff1010"/>
<circle cx="425.18" cy="587.00" r="0.7" fill="#ff1010"/>
<circle cx="441.07" cy="602.00" r="0.7" fill="#ff1010"/>
<polyline points="354.81,620.00 361.62,604.00 375.24,577.00 393.40,571.40 409.29,622.00 425.18,629.50 441.07,634.25" fill="none" stroke="#ff1010" stroke-width="1.15" stroke-linejoin="round" />
<circle cx="354.81" cy="620.00" r="0.7" fill="#ff1010"/>
<circle cx="361.62" cy="604.00" r="0.7" fill="#ff1010"/>
<circle cx="375.24" cy="577.00" r="0.7" fill="#ff1010"/>
<circle cx="393.40" cy="571.40" r="0.7" fill="#ff1010"/>
<circle cx="409.29" cy="622.00" r="0.7" fill="#ff1010"/>
<circle cx="425.18" cy="629.50" r="0.7" fill="#ff1010"/>
<circle cx="441.07" cy="634.25" r="0.7" fill="#ff1010"/>
<polyline points="354.81,621.50 361.62,603.50 375.24,576.00 393.40,571.40 409.29,572.00 425.18,625.75 441.07,641.40" fill="none" stroke="#ff1010" stroke-width="1.15" stroke-linejoin="round" />
<circle cx="354.81" cy="621.50" r="0.7" fill="#ff1010"/>
<circle cx="361.62" cy="603.50" r="0.7" fill="#ff1010"/>
<circle cx="375.24" cy="576.00" r="0.7" fill="#ff1010"/>
<circle cx="393.40" cy="571.40" r="0.7" fill="#ff1010"/>
<circle cx="409.29" cy="572.00" r="0.7" fill="#ff1010"/>
<circle cx="425.18" cy="625.75" r="0.7" fill="#ff1010"/>
<circle cx="441.07" cy="641.40" r="0.7" fill="#ff1010"/>
<polyline points="354.81,616.70 361.62,606.20 375.24,576.30 393.40,571.50 409.29,577.00 425.18,578.80 441.07,580.80" fill="none" stroke="#1a1aff" stroke-width="1.15" stroke-linejoin="round" />
<circle cx="354.81" cy="616.70" r="0.8" fill="#1a1aff"/>
<circle cx="361.62" cy="606.20" r="0.8" fill="#1a1aff"/>
<circle cx="375.24" cy="576.30" r="0.8" fill="#1a1aff"/>
<circle cx="393.40" cy="571.50" r="0.8" fill="#1a1aff"/>
<circle cx="409.29" cy="577.00" r="0.8" fill="#1a1aff"/>
<circle cx="425.18" cy="578.80" r="0.8" fill="#1a1aff"/>
<circle cx="441.07" cy="580.80" r="0.8" fill="#1a1aff"/>
<polyline points="354.81,618.70 361.62,607.50 375.24,578.00 393.40,571.50" fill="none" stroke="#1a1aff" stroke-width="1.15" stroke-linejoin="round" />
<circle cx="354.81" cy="618.70" r="0.8" fill="#1a1aff"/>
<circle cx="361.62" cy="607.50" r="0.8" fill="#1a1aff"/>
<circle cx="375.24" cy="578.00" r="0.8" fill="#1a1aff"/>
<circle cx="393.40" cy="571.50" r="0.8" fill="#1a1aff"/>
<polyline points="354.81,617.50 361.62,605.00 375.24,579.50 393.40,571.50" fill="none" stroke="#1a1aff" stroke-width="1.15" stroke-linejoin="round" />
<circle cx="354.81" cy="617.50" r="0.8" fill="#1a1aff"/>
<circle cx="361.62" cy="605.00" r="0.8" fill="#1a1aff"/>
<circle cx="375.24" cy="579.50" r="0.8" fill="#1a1aff"/>
<circle cx="393.40" cy="571.50" r="0.8" fill="#1a1aff"/>
<polyline points="354.81,618.00 361.62,606.50 375.24,581.00 393.40,571.50" fill="none" stroke="#1a1aff" stroke-width="1.15" stroke-linejoin="round" />
<circle cx="354.81" cy="618.00" r="0.8" fill="#1a1aff"/>
<circle cx="361.62" cy="606.50" r="0.8" fill="#1a1aff"/>
<circle cx="375.24" cy="581.00" r="0.8" fill="#1a1aff"/>
<circle cx="393.40" cy="571.50" r="0.8" fill="#1a1aff"/>
<polyline points="354.81,617.00 361.62,604.50 375.24,582.50 393.40,571.50" fill="none" stroke="#1a1aff" stroke-width="1.15" stroke-linejoin="round" />
<circle cx="354.81" cy="617.00" r="0.8" fill="#1a1aff"/>
<circle cx="361.62" cy="604.50" r="0.8" fill="#1a1aff"/>
<circle cx="375.24" cy="582.50" r="0.8" fill="#1a1aff"/>
<circle cx="393.40" cy="571.50" r="0.8" fill="#1a1aff"/>
<polyline points="354.81,617.00 361.62,605.00 377.51,578.00" fill="none" stroke="#000" stroke-width="0.8" stroke-linejoin="round" />
<rect x="0.5" y="0.5" width="518.6" height="672.6" fill="none" stroke="#000" stroke-width="1.1"/>
<rect x="518.6" y="0" width="1.4" height="674" fill="#000"/>
<rect x="0" y="672.6" width="520" height="1.4" fill="#000"/>
</svg></body></html>
